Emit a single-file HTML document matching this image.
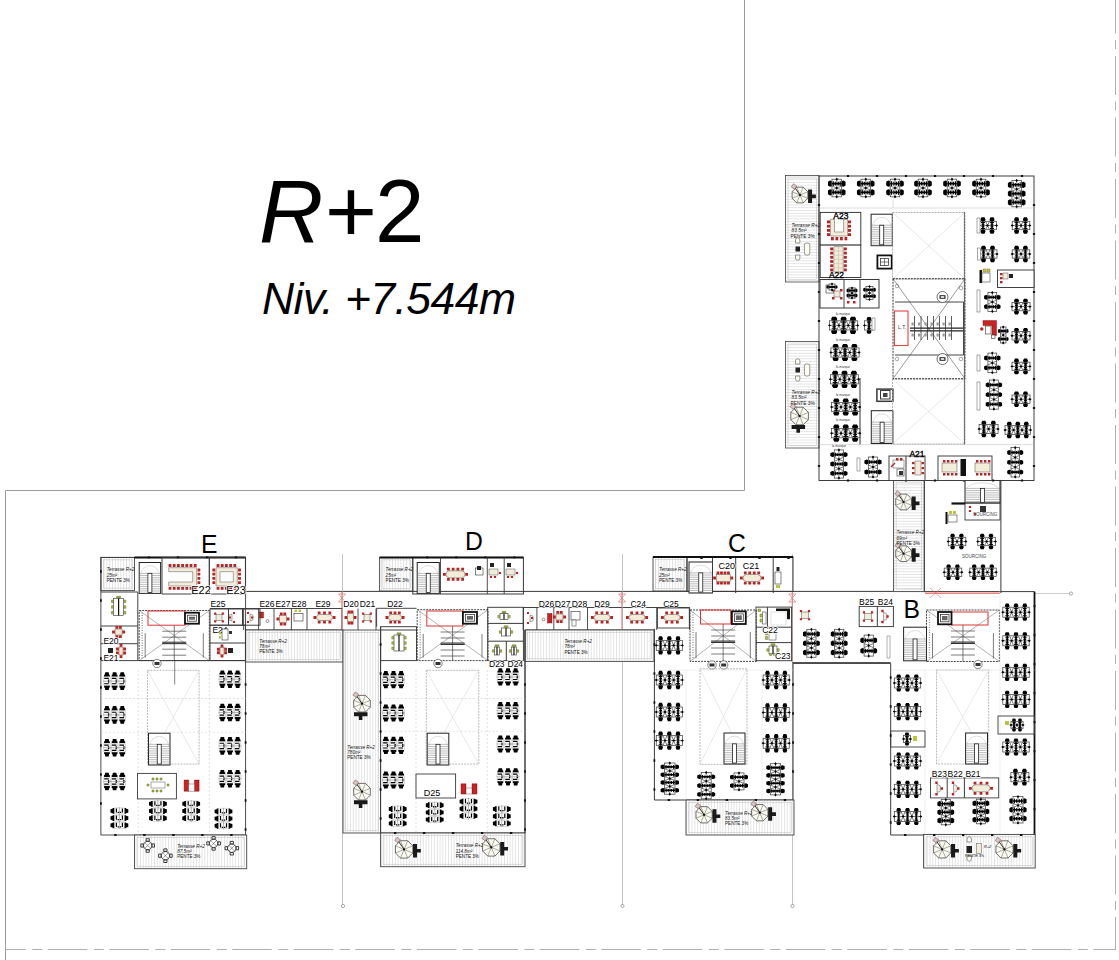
<!DOCTYPE html><html><head><meta charset="utf-8"><style>
html,body{margin:0;padding:0;background:#fff;width:1119px;height:960px;overflow:hidden}
svg{display:block}
text{font-family:"Liberation Sans",sans-serif}
</style></head><body>
<svg width="1119" height="960" viewBox="0 0 1119 960">
<defs>
<pattern id="hh" width="3" height="2.8" patternUnits="userSpaceOnUse"><rect width="3" height="2.8" fill="#fff"/><line x1="0" y1="0.5" x2="3" y2="0.5" stroke="#d0d0d0" stroke-width="0.6"/></pattern>
<pattern id="hv" width="2.8" height="3" patternUnits="userSpaceOnUse"><rect width="2.8" height="3" fill="#fff"/><line x1="0.5" y1="0" x2="0.5" y2="3" stroke="#d0d0d0" stroke-width="0.6"/></pattern>
</defs>

<path d="M744.5,0 V490.5 H5.5 V960" stroke="#9a9a9a" stroke-width="1" fill="none" />
<path d="M5,949.5 H1116" stroke="#b0b0b0" stroke-width="1" fill="none" stroke-dasharray="39.5,6.5,10,5.5" stroke-dashoffset="18.7"/>
<path d="M1115.5,0 V949" stroke="#b0b0b0" stroke-width="1" fill="none" stroke-dasharray="39,6.5,9,7" stroke-dashoffset="5.5"/>
<text y="242" font-size="89" fill="#000"><tspan x="259" font-style="italic">R</tspan><tspan x="325">+</tspan><tspan x="375">2</tspan></text>
<text x="262" y="313.5" font-size="44.5" font-style="italic" fill="#000" textLength="254" lengthAdjust="spacing">Niv. +7.544m</text>
<path d="M245.6,591.4H893.6 M924.3,591.6H1034" stroke="#3a3a3a" stroke-width="1.0" fill="none" />
<path d="M245.6,630H343 M380.6,630H416 M525,630H654 M793,662.6H890.6" stroke="#3a3a3a" stroke-width="0.95" fill="none" />
<path d="M210,608.5H343 M376.6,608.3H416.5 M523,607.5H689.6" stroke="#3a3a3a" stroke-width="0.95" fill="none" />
<path d="M243.6,608.5V630M258.6,608.5V630M274,608.5V630M291.4,608.5V630M307,608.5V630M342,608.5V630M358,608.5V630M376,608.5V630M523.2,607.5V630M536.9,607.5V630M553.8,607.5V630M569,607.5V630M587.5,607.5V630M656.7,607.5V630M689.6,607.5V630" stroke="#3a3a3a" stroke-width="0.9" fill="none" />
<path d="M342,592V630 M622,592V630 M792.3,592V661.5" stroke="#e44" stroke-width="0.9" fill="none" />
<path d="M338.5,594L345.5,602M345.5,594L338.5,602M338.5,594h7M338.5,602h7" stroke="#e55" stroke-width="0.6" fill="none"/>
<path d="M618.5,594L625.5,602M625.5,594L618.5,602M618.5,594h7M618.5,602h7" stroke="#e55" stroke-width="0.6" fill="none"/>
<path d="M788.8,594L795.8,602M795.8,594L788.8,602M788.8,594h7M788.8,602h7" stroke="#e55" stroke-width="0.6" fill="none"/>
<path d="M925,593.2H1000" stroke="#e44" stroke-width="1" fill="none" />
<path d="M930,588L941,598M941,588L930,598" stroke="#e66" stroke-width="0.6"/>
<path d="M342.5,554V905 M622.5,554V905 M792.5,554V905" stroke="#aaa" stroke-width="0.7" fill="none" />
<circle cx="343" cy="906" r="1.6" fill="none" stroke="#777" stroke-width="0.6"/>
<circle cx="622.5" cy="906" r="1.6" fill="none" stroke="#777" stroke-width="0.6"/>
<circle cx="792.5" cy="906" r="1.6" fill="none" stroke="#777" stroke-width="0.6"/>
<path d="M1034,593.5H1070" stroke="#aaa" stroke-width="0.6" fill="none" />
<circle cx="1071" cy="593.5" r="1.6" fill="none" stroke="#777" stroke-width="0.6"/>
<rect x="245.6" y="630" width="97.4" height="32" fill="url(#hv)" stroke="#444" stroke-width="0.9" />
<rect x="248.1" y="632.5" width="92.4" height="27" fill="none" stroke="#bbb" stroke-width="0.5" />
<rect x="343" y="630" width="37.6" height="203" fill="url(#hv)" stroke="#444" stroke-width="0.9" />
<rect x="345.5" y="632.5" width="32.6" height="198" fill="none" stroke="#bbb" stroke-width="0.5" />
<rect x="525" y="630" width="129" height="31.4" fill="url(#hv)" stroke="#444" stroke-width="0.9" />
<rect x="527.5" y="632.5" width="124" height="26.4" fill="none" stroke="#bbb" stroke-width="0.5" />
<text x="259.3" y="642.9" font-size="4.6" fill="#111" text-anchor="start" font-style="italic">Terrasse R+2</text>
<text x="259.3" y="648.1" font-size="4.6" fill="#111" text-anchor="start" font-style="italic">78m²</text>
<text x="259.3" y="653.3" font-size="4.6" fill="#111" text-anchor="start" >PENTE 3%</text>
<text x="564.4" y="643.1" font-size="4.6" fill="#111" text-anchor="start" font-style="italic">Terrasse R+2</text>
<text x="564.4" y="648.3" font-size="4.6" fill="#111" text-anchor="start" font-style="italic">78m²</text>
<text x="564.4" y="653.5" font-size="4.6" fill="#111" text-anchor="start" >PENTE 3%</text>
<text x="347.3" y="748.9" font-size="4.6" fill="#111" text-anchor="start" font-style="italic">Terrasse R+2</text>
<text x="347.3" y="754.1" font-size="4.6" fill="#111" text-anchor="start" font-style="italic">780m²</text>
<text x="347.3" y="759.3" font-size="4.6" fill="#111" text-anchor="start" >PENTE 3%</text>
<polygon points="370.31,707.14 365.44,712.01 358.56,712.01 353.69,707.14 353.69,700.26 358.56,695.39 365.44,695.39 370.31,700.26" fill="#fbfbf0" stroke="#333" stroke-width="0.7"/><path d="M362,703.7L370.31,707.14M362,703.7L365.44,712.01M362,703.7L358.56,712.01M362,703.7L353.69,707.14M362,703.7L353.69,700.26M362,703.7L358.56,695.39M362,703.7L365.44,695.39M362,703.7L370.31,700.26" stroke="#444" stroke-width="0.45"/><path d="M362,703.7L355.7,694.7" stroke="#333" stroke-width="1"/><circle cx="362" cy="703.7" r="1.1" fill="#111"/><rect x="353.7" y="692.7" width="4" height="4" fill="#d9c4c4" stroke="#755" stroke-width="0.5" transform="rotate(35 355.7 694.7)"/><path d="M370.55,698.2h4v13.5h-4zM374.55,703.3h3.8v3.6h-3.8z" fill="#1a1a1a" transform="rotate(90 362 703.7)"/>
<polygon points="370.31,795.14 365.44,800.01 358.56,800.01 353.69,795.14 353.69,788.26 358.56,783.39 365.44,783.39 370.31,788.26" fill="#fbfbf0" stroke="#333" stroke-width="0.7"/><path d="M362,791.7L370.31,795.14M362,791.7L365.44,800.01M362,791.7L358.56,800.01M362,791.7L353.69,795.14M362,791.7L353.69,788.26M362,791.7L358.56,783.39M362,791.7L365.44,783.39M362,791.7L370.31,788.26" stroke="#444" stroke-width="0.45"/><path d="M362,791.7L355.7,782.7" stroke="#333" stroke-width="1"/><circle cx="362" cy="791.7" r="1.1" fill="#111"/><rect x="353.7" y="780.7" width="4" height="4" fill="#d9c4c4" stroke="#755" stroke-width="0.5" transform="rotate(35 355.7 782.7)"/><path d="M370.55,786.2h4v13.5h-4zM374.55,791.3h3.8v3.6h-3.8z" fill="#1a1a1a" transform="rotate(90 362 791.7)"/>
<text x="218" y="606.5" font-size="8.5" fill="#000" text-anchor="middle" stroke="#fff" stroke-width="1.5" paint-order="stroke">E25</text>
<text x="267" y="606.5" font-size="8.5" fill="#000" text-anchor="middle" stroke="#fff" stroke-width="1.5" paint-order="stroke">E26</text>
<text x="283" y="606.5" font-size="8.5" fill="#000" text-anchor="middle" stroke="#fff" stroke-width="1.5" paint-order="stroke">E27</text>
<text x="299" y="606.5" font-size="8.5" fill="#000" text-anchor="middle" stroke="#fff" stroke-width="1.5" paint-order="stroke">E28</text>
<text x="323" y="606.5" font-size="8.5" fill="#000" text-anchor="middle" stroke="#fff" stroke-width="1.5" paint-order="stroke">E29</text>
<text x="351" y="606.5" font-size="8.5" fill="#000" text-anchor="middle" stroke="#fff" stroke-width="1.5" paint-order="stroke">D20</text>
<text x="367.5" y="606.5" font-size="8.5" fill="#000" text-anchor="middle" stroke="#fff" stroke-width="1.5" paint-order="stroke">D21</text>
<text x="395" y="606.5" font-size="8.5" fill="#000" text-anchor="middle" stroke="#fff" stroke-width="1.5" paint-order="stroke">D22</text>
<text x="546.5" y="606.5" font-size="8.5" fill="#000" text-anchor="middle" stroke="#fff" stroke-width="1.5" paint-order="stroke">D26</text>
<text x="562.6" y="606.5" font-size="8.5" fill="#000" text-anchor="middle" stroke="#fff" stroke-width="1.5" paint-order="stroke">D27</text>
<text x="579.5" y="606.5" font-size="8.5" fill="#000" text-anchor="middle" stroke="#fff" stroke-width="1.5" paint-order="stroke">D28</text>
<text x="602" y="606.5" font-size="8.5" fill="#000" text-anchor="middle" stroke="#fff" stroke-width="1.5" paint-order="stroke">D29</text>
<text x="638.2" y="606.5" font-size="8.5" fill="#000" text-anchor="middle" stroke="#fff" stroke-width="1.5" paint-order="stroke">C24</text>
<text x="671" y="606.5" font-size="8.5" fill="#000" text-anchor="middle" stroke="#fff" stroke-width="1.5" paint-order="stroke">C25</text>
<rect x="216" y="614.5" width="6" height="6" fill="#f1edd8" stroke="#555" stroke-width="0.5"/>
<path d="M214.1,612.6h2.2v2.2h-2.2ZM221.7,612.6h2.2v2.2h-2.2ZM214.1,620.2h2.2v2.2h-2.2ZM221.7,620.2h2.2v2.2h-2.2Z" fill="#b22"/>
<path d="M232,614a3.5,3.5 0 0 0 0,7z" fill="#f3f0e0" stroke="#555" stroke-width="0.5"/>
<path d="M233,612h2v2h-2ZM233,621h2v2h-2ZM229,616.5h2v2h-2Z" fill="#b22"/>
<path d="M250,614a3.5,3.5 0 0 1 0,7z" fill="#f3f0e0" stroke="#555" stroke-width="0.5"/>
<path d="M247,612h2v2h-2ZM247,621h2v2h-2ZM251,616.5h2v2h-2Z" fill="#b22"/>
<rect x="259.5" y="612" width="4" height="6" fill="#c22" stroke="#600" stroke-width="0.4" />
<circle cx="267.5" cy="621" r="1.5" fill="none" stroke="#333" stroke-width="0.5"/>
<rect x="279.5" y="615.5" width="7" height="7" rx="0" fill="#f1edd8" stroke="#555" stroke-width="0.5"/>
<path d="M279.85,612.5h2.8v2.8h-2.8ZM279.85,622.7h2.8v2.8h-2.8ZM283.35,612.5h2.8v2.8h-2.8ZM283.35,622.7h2.8v2.8h-2.8ZM276.5,617.6h2.8v2.8h-2.8ZM286.7,617.6h2.8v2.8h-2.8Z" fill="#b22"/>
<rect x="294" y="613.5" width="9" height="7.5" fill="#fff" stroke="#333" stroke-width="0.6" />
<rect x="294.5" y="609.5" width="2.5" height="2.5" fill="#bcc43a" stroke="none" stroke-width="1" />
<rect x="298.5" y="609.5" width="2.5" height="2.5" fill="#bcc43a" stroke="none" stroke-width="1" />
<rect x="316.5" y="614.5" width="16" height="6" rx="3" fill="#f1edd8" stroke="#555" stroke-width="0.5"/>
<path d="M317.77,611.5h2.8v2.8h-2.8ZM317.77,620.7h2.8v2.8h-2.8ZM323.1,611.5h2.8v2.8h-2.8ZM323.1,620.7h2.8v2.8h-2.8ZM328.43,611.5h2.8v2.8h-2.8ZM328.43,620.7h2.8v2.8h-2.8ZM313.5,616.1h2.8v2.8h-2.8ZM332.7,616.1h2.8v2.8h-2.8Z" fill="#b22"/>
<rect x="347.5" y="613.5" width="6" height="8" rx="0" fill="#f1edd8" stroke="#555" stroke-width="0.5"/>
<path d="M347.6,610.5h2.8v2.8h-2.8ZM347.6,621.7h2.8v2.8h-2.8ZM350.6,610.5h2.8v2.8h-2.8ZM350.6,621.7h2.8v2.8h-2.8ZM344.5,616.1h2.8v2.8h-2.8ZM353.7,616.1h2.8v2.8h-2.8Z" fill="#b22"/>
<rect x="364" y="614.5" width="6" height="6" fill="#f1edd8" stroke="#555" stroke-width="0.5"/>
<path d="M362.1,612.6h2.2v2.2h-2.2ZM369.7,612.6h2.2v2.2h-2.2ZM362.1,620.2h2.2v2.2h-2.2ZM369.7,620.2h2.2v2.2h-2.2Z" fill="#b22"/>
<rect x="388.5" y="614.5" width="13" height="6" rx="3" fill="#f1edd8" stroke="#555" stroke-width="0.5"/>
<path d="M389.27,611.5h2.8v2.8h-2.8ZM389.27,620.7h2.8v2.8h-2.8ZM393.6,611.5h2.8v2.8h-2.8ZM393.6,620.7h2.8v2.8h-2.8ZM397.93,611.5h2.8v2.8h-2.8ZM397.93,620.7h2.8v2.8h-2.8ZM385.5,616.1h2.8v2.8h-2.8ZM401.7,616.1h2.8v2.8h-2.8Z" fill="#b22"/>
<path d="M530,615a3.5,3.5 0 0 1 0,7z" fill="#f3f0e0" stroke="#555" stroke-width="0.5"/>
<path d="M527,612h2v2h-2ZM527,622h2v2h-2ZM531,617h2v2h-2Z" fill="#b22"/>
<circle cx="543.5" cy="619.5" r="1.3" fill="none" stroke="#333" stroke-width="0.5"/>
<rect x="547.5" y="613.5" width="4.5" height="9.5" fill="#c22" stroke="#600" stroke-width="0.4" />
<rect x="556" y="614" width="7" height="6" rx="0" fill="#f1edd8" stroke="#555" stroke-width="0.5"/>
<path d="M556.35,611h2.8v2.8h-2.8ZM556.35,620.2h2.8v2.8h-2.8ZM559.85,611h2.8v2.8h-2.8ZM559.85,620.2h2.8v2.8h-2.8ZM553,615.6h2.8v2.8h-2.8ZM563.2,615.6h2.8v2.8h-2.8Z" fill="#b22"/>
<rect x="571" y="611.5" width="9" height="8.5" fill="#fff" stroke="#333" stroke-width="0.6" />
<rect x="572" y="620" width="4" height="6" fill="#fff" stroke="#333" stroke-width="0.5" />
<rect x="594" y="614.5" width="16" height="6" rx="3" fill="#f1edd8" stroke="#555" stroke-width="0.5"/>
<path d="M595.27,611.5h2.8v2.8h-2.8ZM595.27,620.7h2.8v2.8h-2.8ZM600.6,611.5h2.8v2.8h-2.8ZM600.6,620.7h2.8v2.8h-2.8ZM605.93,611.5h2.8v2.8h-2.8ZM605.93,620.7h2.8v2.8h-2.8ZM591,616.1h2.8v2.8h-2.8ZM610.2,616.1h2.8v2.8h-2.8Z" fill="#b22"/>
<rect x="629" y="614.5" width="16" height="6" rx="3" fill="#f1edd8" stroke="#555" stroke-width="0.5"/>
<path d="M630.27,611.5h2.8v2.8h-2.8ZM630.27,620.7h2.8v2.8h-2.8ZM635.6,611.5h2.8v2.8h-2.8ZM635.6,620.7h2.8v2.8h-2.8ZM640.93,611.5h2.8v2.8h-2.8ZM640.93,620.7h2.8v2.8h-2.8ZM626,616.1h2.8v2.8h-2.8ZM645.2,616.1h2.8v2.8h-2.8Z" fill="#b22"/>
<rect x="664" y="614.5" width="16" height="6" rx="3" fill="#f1edd8" stroke="#555" stroke-width="0.5"/>
<path d="M665.27,611.5h2.8v2.8h-2.8ZM665.27,620.7h2.8v2.8h-2.8ZM670.6,611.5h2.8v2.8h-2.8ZM670.6,620.7h2.8v2.8h-2.8ZM675.93,611.5h2.8v2.8h-2.8ZM675.93,620.7h2.8v2.8h-2.8ZM661,616.1h2.8v2.8h-2.8ZM680.2,616.1h2.8v2.8h-2.8Z" fill="#b22"/>
<rect x="100.9" y="557.4" width="33.6" height="33.2" fill="url(#hv)" stroke="#444" stroke-width="0.9" />
<rect x="103.4" y="559.9" width="28.6" height="28.2" fill="none" stroke="#bbb" stroke-width="0.5" />
<text x="106.7" y="571.3" font-size="4.6" fill="#111" text-anchor="start" font-style="italic">Terrasse R+2</text>
<text x="106.7" y="576.5" font-size="4.6" fill="#111" text-anchor="start" font-style="italic">25m²</text>
<text x="106.7" y="581.7" font-size="4.6" fill="#111" text-anchor="start" >PENTE 3%</text>
<rect x="100.9" y="557.4" width="144.7" height="277.6" fill="none" stroke="#3a3a3a" stroke-width="0.9" />
<path d="M134.5,557.4H245.6" stroke="#111" stroke-width="2" fill="none" />
<rect x="139.2" y="562.5" width="21.4" height="31" fill="#fff" stroke="#222" stroke-width="1"/><path d="M139.2,573.35H160.6M139.2,575.55H160.6M139.2,577.75H160.6M139.2,579.95H160.6M139.2,582.15H160.6M139.2,584.35H160.6M139.2,586.55H160.6M139.2,588.75H160.6M139.2,590.95H160.6M139.2,593.15H160.6" stroke="#777" stroke-width="0.5"/><rect x="147.9" y="573.35" width="4" height="19.22" fill="#fff" stroke="#222" stroke-width="0.8"/><path d="M140.7,574.9 A9.2,9.3 0 0 1 159.1,574.9" stroke="#bbb" stroke-width="0.5" fill="none"/>
<rect x="162" y="557.4" width="47.3" height="36.6" fill="none" stroke="#3a3a3a" stroke-width="0.95" />
<rect x="209.3" y="557.4" width="36.1" height="36.6" fill="none" stroke="#3a3a3a" stroke-width="0.95" />
<path d="M168.7,567.7h28v18.3h-28v-4h24v-10.3h-24z" fill="#f1edd8" stroke="#555" stroke-width="0.5"/>
<path d="M168.6,564.1h2.8v2.8h-2.8ZM172.8,564.1h2.8v2.8h-2.8ZM177,564.1h2.8v2.8h-2.8ZM181.2,564.1h2.8v2.8h-2.8ZM185.4,564.1h2.8v2.8h-2.8ZM189.6,564.1h2.8v2.8h-2.8ZM193.8,564.1h2.8v2.8h-2.8ZM168.6,586.9h2.8v2.8h-2.8ZM172.8,586.9h2.8v2.8h-2.8ZM177,586.9h2.8v2.8h-2.8ZM181.2,586.9h2.8v2.8h-2.8ZM185.4,586.9h2.8v2.8h-2.8ZM189.6,586.9h2.8v2.8h-2.8ZM193.8,586.9h2.8v2.8h-2.8ZM197.5,568.6h2.8v2.8h-2.8ZM197.5,572.8h2.8v2.8h-2.8ZM197.5,577h2.8v2.8h-2.8ZM197.5,581.2h2.8v2.8h-2.8Z" fill="#b22"/>
<path d="M216,567.7h21.3v18.3h-21.3z M220,571.7v10.3h13.3v-10.3z" fill="#f1edd8" fill-rule="evenodd" stroke="#555" stroke-width="0.5"/>
<path d="M216.6,564.1h2.8v2.8h-2.8ZM220.8,564.1h2.8v2.8h-2.8ZM225,564.1h2.8v2.8h-2.8ZM229.2,564.1h2.8v2.8h-2.8ZM233.4,564.1h2.8v2.8h-2.8ZM216.6,586.9h2.8v2.8h-2.8ZM220.8,586.9h2.8v2.8h-2.8ZM225,586.9h2.8v2.8h-2.8ZM229.2,586.9h2.8v2.8h-2.8ZM233.4,586.9h2.8v2.8h-2.8ZM212.4,568.6h2.8v2.8h-2.8ZM212.4,572.8h2.8v2.8h-2.8ZM212.4,577h2.8v2.8h-2.8ZM212.4,581.2h2.8v2.8h-2.8ZM238.1,568.6h2.8v2.8h-2.8ZM238.1,572.8h2.8v2.8h-2.8ZM238.1,577h2.8v2.8h-2.8ZM238.1,581.2h2.8v2.8h-2.8Z" fill="#b22"/>
<text x="201" y="593.5" font-size="11" fill="#000" text-anchor="middle" stroke="#fff" stroke-width="1.5" paint-order="stroke">E22</text>
<text x="236" y="593.5" font-size="11" fill="#000" text-anchor="middle" stroke="#fff" stroke-width="1.5" paint-order="stroke">E23</text>
<path d="M100.9,592H137.8V660.6 M100.9,626H137.8 M100.9,643.7H137.8 M100.9,660.6H245.6" stroke="#3a3a3a" stroke-width="0.95" fill="none" />
<rect x="113.6" y="598.5" width="10" height="17" fill="#fff" stroke="#333" stroke-width="0.6"/>
<path d="M118.6,598.5V615.5" stroke="#111" stroke-width="1.2"/>
<path d="M111.4,600.03h1.8v2.6h-1.8ZM124,600.03h1.8v2.6h-1.8ZM111.4,605.7h1.8v2.6h-1.8ZM124,605.7h1.8v2.6h-1.8ZM111.4,611.37h1.8v2.6h-1.8ZM124,611.37h1.8v2.6h-1.8ZM116.6,596.3h1.8v1.8h-1.8ZM118.8,596.3h1.8v1.8h-1.8Z" fill="#bcc43a" stroke="#4a5010" stroke-width="0.4"/>
<rect x="115.1" y="629" width="7" height="6" rx="0" fill="#f1edd8" stroke="#555" stroke-width="0.5"/>
<path d="M115.45,626h2.8v2.8h-2.8ZM115.45,635.2h2.8v2.8h-2.8ZM118.95,626h2.8v2.8h-2.8ZM118.95,635.2h2.8v2.8h-2.8ZM112.1,630.6h2.8v2.8h-2.8ZM122.3,630.6h2.8v2.8h-2.8Z" fill="#b22"/>
<text x="111" y="643.5" font-size="8.5" fill="#000" text-anchor="middle" stroke="#fff" stroke-width="1.5" paint-order="stroke">E20</text>
<rect x="119" y="647" width="4" height="8" rx="0" fill="#f1edd8" stroke="#555" stroke-width="0.5"/>
<path d="M119.6,644h2.8v2.8h-2.8ZM119.6,655.2h2.8v2.8h-2.8ZM116,647.6h2.8v2.8h-2.8ZM123.2,647.6h2.8v2.8h-2.8ZM116,651.6h2.8v2.8h-2.8ZM123.2,651.6h2.8v2.8h-2.8Z" fill="#b22"/>
<rect x="108" y="648" width="5" height="5" fill="#222" stroke="none" stroke-width="1" />
<text x="111" y="660.5" font-size="8.5" fill="#000" text-anchor="middle" stroke="#fff" stroke-width="1.5" paint-order="stroke">E21</text>
<path d="M139.2,610.5L209.3,660.6M209.3,610.5L139.2,660.6" stroke="#666" stroke-width="0.5"/>
<rect x="139.2" y="610.5" width="70.1" height="50.1" fill="none" stroke="#333" stroke-width="0.9" stroke-dasharray="2,1"/>
<rect x="148" y="611" width="37" height="14.2" fill="none" stroke="#d33" stroke-width="1" />
<rect x="185" y="612.7" width="14" height="11" fill="#fff" stroke="#111" stroke-width="1.8" />
<rect x="187.5" y="615.2" width="9" height="6" fill="#fff" stroke="#3a3a3a" stroke-width="0.8" />
<rect x="189" y="616.7" width="6" height="3" fill="#666" stroke="none" stroke-width="1" />
<path d="M162.25,631.2H186.25M162.25,637.2H186.25M162.25,643.2H186.25M162.25,649.2H186.25M162.25,655.2H186.25M174.25,625.2V660.6M145.2,633.2V657.6M203.3,633.2V657.6" stroke="#444" stroke-width="0.7" fill="none" />
<path d="M162.25,642.2h24M162.25,643.7h24" stroke="#222" stroke-width="0.9"/>
<path d="M142.2,612.5V658.6" stroke="#999" stroke-width="1.4" stroke-dasharray="1,1.5"/>
<circle cx="157" cy="663.5" r="4.2" fill="#fff" stroke="#333" stroke-width="0.6"/>
<rect x="154.5" y="662" width="5" height="3" fill="#333" stroke="none" stroke-width="1" />
<rect x="210" y="609" width="50" height="16.2" fill="none" stroke="#3a3a3a" stroke-width="0.95" />
<path d="M228.5,609V625.2 M242.5,609V625.2" stroke="#3a3a3a" stroke-width="1" fill="none" />
<rect x="210" y="625.2" width="35.4" height="35.4" fill="none" stroke="#3a3a3a" stroke-width="0.95" />
<path d="M210,643H245.4" stroke="#3a3a3a" stroke-width="1" fill="none" />
<text x="220" y="633" font-size="8.5" fill="#000" text-anchor="middle" stroke="#fff" stroke-width="1.5" paint-order="stroke">E24</text>
<rect x="222" y="629" width="6" height="11" fill="#fff" stroke="#333" stroke-width="0.6" />
<rect x="219" y="632" width="2" height="2.5" fill="#bcc43a" stroke="none" stroke-width="1" />
<rect x="219" y="636" width="2" height="2.5" fill="#bcc43a" stroke="none" stroke-width="1" />
<rect x="229" y="631" width="3" height="3" fill="#333" stroke="none" stroke-width="1" />
<rect x="220" y="647.5" width="4" height="7" rx="0" fill="#f1edd8" stroke="#555" stroke-width="0.5"/>
<path d="M220.6,644.5h2.8v2.8h-2.8ZM220.6,654.7h2.8v2.8h-2.8ZM217,647.85h2.8v2.8h-2.8ZM224.2,647.85h2.8v2.8h-2.8ZM217,651.35h2.8v2.8h-2.8ZM224.2,651.35h2.8v2.8h-2.8Z" fill="#b22"/>
<rect x="228" y="648" width="5" height="5" fill="#222" stroke="none" stroke-width="1" />
<path d="M147.5,670.3L199.1,764.1M199.1,670.3L147.5,764.1" stroke="#d8d8d8" stroke-width="0.6"/><rect x="147.5" y="670.3" width="51.6" height="93.8" fill="none" stroke="#aaa" stroke-width="0.8" stroke-dasharray="2,1"/>
<rect x="148.5" y="733.2" width="21.5" height="31.8" fill="#fff" stroke="#222" stroke-width="1"/><path d="M148.5,744.33H170M148.5,746.53H170M148.5,748.73H170M148.5,750.93H170M148.5,753.13H170M148.5,755.33H170M148.5,757.53H170M148.5,759.73H170M148.5,761.93H170M148.5,764.13H170" stroke="#777" stroke-width="0.5"/><rect x="157.25" y="744.33" width="4" height="19.72" fill="#fff" stroke="#222" stroke-width="0.8"/><path d="M150,745.92 A9.25,9.54 0 0 1 168.5,745.92" stroke="#bbb" stroke-width="0.5" fill="none"/>
<path d="M174.7,660V684.4" stroke="#333" stroke-width="0.6" fill="none" />
<path d="M100.9,698.5H245.6 M100.9,732.2H245.6 M138.2,670V835 M209.4,670V835" stroke="#ccc" stroke-width="0.6" fill="none" stroke-dasharray="2,2"/>
<path d="M103.75,676.7h6.4v8.8h-6.4ZM111.4,676.7h6.4v8.8h-6.4ZM119.05,676.7h6.4v8.8h-6.4Z" fill="#fff" stroke="#999" stroke-width="0.4"/><path d="M103.12,681.1H126.08" stroke="#888" stroke-width="0.6"/><path d="M104.08,676.5V674.72H104.77L105.2,672.3H108.7L109.14,674.72H109.83V676.5ZM104.26,677.86h4.48v1.2h-4.48ZM104.08,685.7V687.48H104.77L105.2,689.9H108.7L109.14,687.48H109.83V685.7ZM104.26,683.14h4.48v1.2h-4.48ZM111.72,676.5V674.72H112.41L112.85,672.3H116.35L116.78,674.72H117.47V676.5ZM111.91,677.86h4.48v1.2h-4.48ZM111.72,685.7V687.48H112.41L112.85,689.9H116.35L116.78,687.48H117.47V685.7ZM111.91,683.14h4.48v1.2h-4.48ZM119.38,676.5V674.72H120.06L120.5,672.3H124L124.44,674.72H125.12V676.5ZM119.56,677.86h4.48v1.2h-4.48ZM119.38,685.7V687.48H120.06L120.5,689.9H124L124.44,687.48H125.12V685.7ZM119.56,683.14h4.48v1.2h-4.48ZM107.91,679.56h1.3v1.3h-1.3ZM107.91,681.34h1.3v1.3h-1.3ZM115.56,679.56h1.3v1.3h-1.3ZM115.56,681.34h1.3v1.3h-1.3ZM123.21,679.56h1.3v1.3h-1.3ZM123.21,681.34h1.3v1.3h-1.3Z" fill="#000"/>
<path d="M103.75,710.5h6.4v8.8h-6.4ZM111.4,710.5h6.4v8.8h-6.4ZM119.05,710.5h6.4v8.8h-6.4Z" fill="#fff" stroke="#999" stroke-width="0.4"/><path d="M103.12,714.9H126.08" stroke="#888" stroke-width="0.6"/><path d="M104.08,710.3V708.52H104.77L105.2,706.1H108.7L109.14,708.52H109.83V710.3ZM104.26,711.66h4.48v1.2h-4.48ZM104.08,719.5V721.28H104.77L105.2,723.7H108.7L109.14,721.28H109.83V719.5ZM104.26,716.94h4.48v1.2h-4.48ZM111.72,710.3V708.52H112.41L112.85,706.1H116.35L116.78,708.52H117.47V710.3ZM111.91,711.66h4.48v1.2h-4.48ZM111.72,719.5V721.28H112.41L112.85,723.7H116.35L116.78,721.28H117.47V719.5ZM111.91,716.94h4.48v1.2h-4.48ZM119.38,710.3V708.52H120.06L120.5,706.1H124L124.44,708.52H125.12V710.3ZM119.56,711.66h4.48v1.2h-4.48ZM119.38,719.5V721.28H120.06L120.5,723.7H124L124.44,721.28H125.12V719.5ZM119.56,716.94h4.48v1.2h-4.48ZM107.91,713.36h1.3v1.3h-1.3ZM107.91,715.14h1.3v1.3h-1.3ZM115.56,713.36h1.3v1.3h-1.3ZM115.56,715.14h1.3v1.3h-1.3ZM123.21,713.36h1.3v1.3h-1.3ZM123.21,715.14h1.3v1.3h-1.3Z" fill="#000"/>
<path d="M103.75,743.3h6.4v8.8h-6.4ZM111.4,743.3h6.4v8.8h-6.4ZM119.05,743.3h6.4v8.8h-6.4Z" fill="#fff" stroke="#999" stroke-width="0.4"/><path d="M103.12,747.7H126.08" stroke="#888" stroke-width="0.6"/><path d="M104.08,743.1V741.32H104.77L105.2,738.9H108.7L109.14,741.32H109.83V743.1ZM104.26,744.46h4.48v1.2h-4.48ZM104.08,752.3V754.08H104.77L105.2,756.5H108.7L109.14,754.08H109.83V752.3ZM104.26,749.74h4.48v1.2h-4.48ZM111.72,743.1V741.32H112.41L112.85,738.9H116.35L116.78,741.32H117.47V743.1ZM111.91,744.46h4.48v1.2h-4.48ZM111.72,752.3V754.08H112.41L112.85,756.5H116.35L116.78,754.08H117.47V752.3ZM111.91,749.74h4.48v1.2h-4.48ZM119.38,743.1V741.32H120.06L120.5,738.9H124L124.44,741.32H125.12V743.1ZM119.56,744.46h4.48v1.2h-4.48ZM119.38,752.3V754.08H120.06L120.5,756.5H124L124.44,754.08H125.12V752.3ZM119.56,749.74h4.48v1.2h-4.48ZM107.91,746.16h1.3v1.3h-1.3ZM107.91,747.94h1.3v1.3h-1.3ZM115.56,746.16h1.3v1.3h-1.3ZM115.56,747.94h1.3v1.3h-1.3ZM123.21,746.16h1.3v1.3h-1.3ZM123.21,747.94h1.3v1.3h-1.3Z" fill="#000"/>
<path d="M103.75,777.1h6.4v8.8h-6.4ZM111.4,777.1h6.4v8.8h-6.4ZM119.05,777.1h6.4v8.8h-6.4Z" fill="#fff" stroke="#999" stroke-width="0.4"/><path d="M103.12,781.5H126.08" stroke="#888" stroke-width="0.6"/><path d="M104.08,776.9V775.12H104.77L105.2,772.7H108.7L109.14,775.12H109.83V776.9ZM104.26,778.26h4.48v1.2h-4.48ZM104.08,786.1V787.88H104.77L105.2,790.3H108.7L109.14,787.88H109.83V786.1ZM104.26,783.54h4.48v1.2h-4.48ZM111.72,776.9V775.12H112.41L112.85,772.7H116.35L116.78,775.12H117.47V776.9ZM111.91,778.26h4.48v1.2h-4.48ZM111.72,786.1V787.88H112.41L112.85,790.3H116.35L116.78,787.88H117.47V786.1ZM111.91,783.54h4.48v1.2h-4.48ZM119.38,776.9V775.12H120.06L120.5,772.7H124L124.44,775.12H125.12V776.9ZM119.56,778.26h4.48v1.2h-4.48ZM119.38,786.1V787.88H120.06L120.5,790.3H124L124.44,787.88H125.12V786.1ZM119.56,783.54h4.48v1.2h-4.48ZM107.91,779.96h1.3v1.3h-1.3ZM107.91,781.74h1.3v1.3h-1.3ZM115.56,779.96h1.3v1.3h-1.3ZM115.56,781.74h1.3v1.3h-1.3ZM123.21,779.96h1.3v1.3h-1.3ZM123.21,781.74h1.3v1.3h-1.3Z" fill="#000"/>
<path d="M219.15,674.8h6.4v8.8h-6.4ZM226.8,674.8h6.4v8.8h-6.4ZM234.45,674.8h6.4v8.8h-6.4Z" fill="#fff" stroke="#999" stroke-width="0.4"/><path d="M218.53,679.2H241.48" stroke="#888" stroke-width="0.6"/><path d="M219.47,674.6V672.82H220.16L220.6,670.4H224.1L224.53,672.82H225.22V674.6ZM219.66,675.96h4.48v1.2h-4.48ZM219.47,683.8V685.58H220.16L220.6,688H224.1L224.53,685.58H225.22V683.8ZM219.66,681.24h4.48v1.2h-4.48ZM227.12,674.6V672.82H227.81L228.25,670.4H231.75L232.19,672.82H232.88V674.6ZM227.31,675.96h4.48v1.2h-4.48ZM227.12,683.8V685.58H227.81L228.25,688H231.75L232.19,685.58H232.88V683.8ZM227.31,681.24h4.48v1.2h-4.48ZM234.78,674.6V672.82H235.47L235.9,670.4H239.4L239.84,672.82H240.53V674.6ZM234.96,675.96h4.48v1.2h-4.48ZM234.78,683.8V685.58H235.47L235.9,688H239.4L239.84,685.58H240.53V683.8ZM234.96,681.24h4.48v1.2h-4.48ZM223.31,677.66h1.3v1.3h-1.3ZM223.31,679.44h1.3v1.3h-1.3ZM230.96,677.66h1.3v1.3h-1.3ZM230.96,679.44h1.3v1.3h-1.3ZM238.61,677.66h1.3v1.3h-1.3ZM238.61,679.44h1.3v1.3h-1.3Z" fill="#000"/>
<path d="M219.15,708.1h6.4v8.8h-6.4ZM226.8,708.1h6.4v8.8h-6.4ZM234.45,708.1h6.4v8.8h-6.4Z" fill="#fff" stroke="#999" stroke-width="0.4"/><path d="M218.53,712.5H241.48" stroke="#888" stroke-width="0.6"/><path d="M219.47,707.9V706.12H220.16L220.6,703.7H224.1L224.53,706.12H225.22V707.9ZM219.66,709.26h4.48v1.2h-4.48ZM219.47,717.1V718.88H220.16L220.6,721.3H224.1L224.53,718.88H225.22V717.1ZM219.66,714.54h4.48v1.2h-4.48ZM227.12,707.9V706.12H227.81L228.25,703.7H231.75L232.19,706.12H232.88V707.9ZM227.31,709.26h4.48v1.2h-4.48ZM227.12,717.1V718.88H227.81L228.25,721.3H231.75L232.19,718.88H232.88V717.1ZM227.31,714.54h4.48v1.2h-4.48ZM234.78,707.9V706.12H235.47L235.9,703.7H239.4L239.84,706.12H240.53V707.9ZM234.96,709.26h4.48v1.2h-4.48ZM234.78,717.1V718.88H235.47L235.9,721.3H239.4L239.84,718.88H240.53V717.1ZM234.96,714.54h4.48v1.2h-4.48ZM223.31,710.96h1.3v1.3h-1.3ZM223.31,712.74h1.3v1.3h-1.3ZM230.96,710.96h1.3v1.3h-1.3ZM230.96,712.74h1.3v1.3h-1.3ZM238.61,710.96h1.3v1.3h-1.3ZM238.61,712.74h1.3v1.3h-1.3Z" fill="#000"/>
<path d="M219.15,741.5h6.4v8.8h-6.4ZM226.8,741.5h6.4v8.8h-6.4ZM234.45,741.5h6.4v8.8h-6.4Z" fill="#fff" stroke="#999" stroke-width="0.4"/><path d="M218.53,745.9H241.48" stroke="#888" stroke-width="0.6"/><path d="M219.47,741.3V739.52H220.16L220.6,737.1H224.1L224.53,739.52H225.22V741.3ZM219.66,742.66h4.48v1.2h-4.48ZM219.47,750.5V752.28H220.16L220.6,754.7H224.1L224.53,752.28H225.22V750.5ZM219.66,747.94h4.48v1.2h-4.48ZM227.12,741.3V739.52H227.81L228.25,737.1H231.75L232.19,739.52H232.88V741.3ZM227.31,742.66h4.48v1.2h-4.48ZM227.12,750.5V752.28H227.81L228.25,754.7H231.75L232.19,752.28H232.88V750.5ZM227.31,747.94h4.48v1.2h-4.48ZM234.78,741.3V739.52H235.47L235.9,737.1H239.4L239.84,739.52H240.53V741.3ZM234.96,742.66h4.48v1.2h-4.48ZM234.78,750.5V752.28H235.47L235.9,754.7H239.4L239.84,752.28H240.53V750.5ZM234.96,747.94h4.48v1.2h-4.48ZM223.31,744.36h1.3v1.3h-1.3ZM223.31,746.14h1.3v1.3h-1.3ZM230.96,744.36h1.3v1.3h-1.3ZM230.96,746.14h1.3v1.3h-1.3ZM238.61,744.36h1.3v1.3h-1.3ZM238.61,746.14h1.3v1.3h-1.3Z" fill="#000"/>
<path d="M219.15,774.3h6.4v8.8h-6.4ZM226.8,774.3h6.4v8.8h-6.4ZM234.45,774.3h6.4v8.8h-6.4Z" fill="#fff" stroke="#999" stroke-width="0.4"/><path d="M218.53,778.7H241.48" stroke="#888" stroke-width="0.6"/><path d="M219.47,774.1V772.32H220.16L220.6,769.9H224.1L224.53,772.32H225.22V774.1ZM219.66,775.46h4.48v1.2h-4.48ZM219.47,783.3V785.08H220.16L220.6,787.5H224.1L224.53,785.08H225.22V783.3ZM219.66,780.74h4.48v1.2h-4.48ZM227.12,774.1V772.32H227.81L228.25,769.9H231.75L232.19,772.32H232.88V774.1ZM227.31,775.46h4.48v1.2h-4.48ZM227.12,783.3V785.08H227.81L228.25,787.5H231.75L232.19,785.08H232.88V783.3ZM227.31,780.74h4.48v1.2h-4.48ZM234.78,774.1V772.32H235.47L235.9,769.9H239.4L239.84,772.32H240.53V774.1ZM234.96,775.46h4.48v1.2h-4.48ZM234.78,783.3V785.08H235.47L235.9,787.5H239.4L239.84,785.08H240.53V783.3ZM234.96,780.74h4.48v1.2h-4.48ZM223.31,777.16h1.3v1.3h-1.3ZM223.31,778.94h1.3v1.3h-1.3ZM230.96,777.16h1.3v1.3h-1.3ZM230.96,778.94h1.3v1.3h-1.3ZM238.61,777.16h1.3v1.3h-1.3ZM238.61,778.94h1.3v1.3h-1.3Z" fill="#000"/>
<g transform="rotate(90 119.4 818.1)">
<path d="M109.2,813.1h6v10h-6ZM116.4,813.1h6v10h-6ZM123.6,813.1h6v10h-6Z" fill="#fff" stroke="#999" stroke-width="0.4"/><path d="M108.6,818.1H130.2" stroke="#888" stroke-width="0.6"/><path d="M109.33,812.9V811.35H110.02L110.45,809.2H113.95L114.39,811.35H115.08V812.9ZM109.68,814.5h4.2v1.2h-4.2ZM109.33,823.3V824.86H110.02L110.45,827H113.95L114.39,824.86H115.08V823.3ZM109.68,820.5h4.2v1.2h-4.2ZM116.53,812.9V811.35H117.22L117.65,809.2H121.15L121.59,811.35H122.28V812.9ZM116.88,814.5h4.2v1.2h-4.2ZM116.53,823.3V824.86H117.22L117.65,827H121.15L121.59,824.86H122.28V823.3ZM116.88,820.5h4.2v1.2h-4.2ZM123.73,812.9V811.35H124.42L124.85,809.2H128.35L128.78,811.35H129.48V812.9ZM124.08,814.5h4.2v1.2h-4.2ZM123.73,823.3V824.86H124.42L124.85,827H128.35L128.78,824.86H129.48V823.3ZM124.08,820.5h4.2v1.2h-4.2ZM113.1,816.35h1.3v1.3h-1.3ZM113.1,818.55h1.3v1.3h-1.3ZM120.3,816.35h1.3v1.3h-1.3ZM120.3,818.55h1.3v1.3h-1.3ZM127.5,816.35h1.3v1.3h-1.3ZM127.5,818.55h1.3v1.3h-1.3Z" fill="#000"/>
</g>
<g transform="rotate(90 157.9 811)">
<path d="M147.7,806h6v10h-6ZM154.9,806h6v10h-6ZM162.1,806h6v10h-6Z" fill="#fff" stroke="#999" stroke-width="0.4"/><path d="M147.1,811H168.7" stroke="#888" stroke-width="0.6"/><path d="M147.82,805.8V804.25H148.51L148.95,802.1H152.45L152.88,804.25H153.57V805.8ZM148.18,807.4h4.2v1.2h-4.2ZM147.82,816.2V817.75H148.51L148.95,819.9H152.45L152.88,817.75H153.57V816.2ZM148.18,813.4h4.2v1.2h-4.2ZM155.03,805.8V804.25H155.72L156.15,802.1H159.65L160.09,804.25H160.78V805.8ZM155.38,807.4h4.2v1.2h-4.2ZM155.03,816.2V817.75H155.72L156.15,819.9H159.65L160.09,817.75H160.78V816.2ZM155.38,813.4h4.2v1.2h-4.2ZM162.22,805.8V804.25H162.91L163.35,802.1H166.85L167.28,804.25H167.97V805.8ZM162.58,807.4h4.2v1.2h-4.2ZM162.22,816.2V817.75H162.91L163.35,819.9H166.85L167.28,817.75H167.97V816.2ZM162.58,813.4h4.2v1.2h-4.2ZM151.6,809.25h1.3v1.3h-1.3ZM151.6,811.45h1.3v1.3h-1.3ZM158.8,809.25h1.3v1.3h-1.3ZM158.8,811.45h1.3v1.3h-1.3ZM166,809.25h1.3v1.3h-1.3ZM166,811.45h1.3v1.3h-1.3Z" fill="#000"/>
</g>
<g transform="rotate(90 191.2 811)">
<path d="M181,806h6v10h-6ZM188.2,806h6v10h-6ZM195.4,806h6v10h-6Z" fill="#fff" stroke="#999" stroke-width="0.4"/><path d="M180.4,811H202" stroke="#888" stroke-width="0.6"/><path d="M181.12,805.8V804.25H181.81L182.25,802.1H185.75L186.18,804.25H186.87V805.8ZM181.48,807.4h4.2v1.2h-4.2ZM181.12,816.2V817.75H181.81L182.25,819.9H185.75L186.18,817.75H186.87V816.2ZM181.48,813.4h4.2v1.2h-4.2ZM188.32,805.8V804.25H189.01L189.45,802.1H192.95L193.38,804.25H194.07V805.8ZM188.68,807.4h4.2v1.2h-4.2ZM188.32,816.2V817.75H189.01L189.45,819.9H192.95L193.38,817.75H194.07V816.2ZM188.68,813.4h4.2v1.2h-4.2ZM195.52,805.8V804.25H196.21L196.65,802.1H200.15L200.58,804.25H201.27V805.8ZM195.88,807.4h4.2v1.2h-4.2ZM195.52,816.2V817.75H196.21L196.65,819.9H200.15L200.58,817.75H201.27V816.2ZM195.88,813.4h4.2v1.2h-4.2ZM184.9,809.25h1.3v1.3h-1.3ZM184.9,811.45h1.3v1.3h-1.3ZM192.1,809.25h1.3v1.3h-1.3ZM192.1,811.45h1.3v1.3h-1.3ZM199.3,809.25h1.3v1.3h-1.3ZM199.3,811.45h1.3v1.3h-1.3Z" fill="#000"/>
</g>
<g transform="rotate(90 223.5 818.6)">
<path d="M213.3,813.6h6v10h-6ZM220.5,813.6h6v10h-6ZM227.7,813.6h6v10h-6Z" fill="#fff" stroke="#999" stroke-width="0.4"/><path d="M212.7,818.6H234.3" stroke="#888" stroke-width="0.6"/><path d="M213.42,813.4V811.85H214.11L214.55,809.7H218.05L218.48,811.85H219.17V813.4ZM213.78,815h4.2v1.2h-4.2ZM213.42,823.8V825.36H214.11L214.55,827.5H218.05L218.48,825.36H219.17V823.8ZM213.78,821h4.2v1.2h-4.2ZM220.62,813.4V811.85H221.31L221.75,809.7H225.25L225.69,811.85H226.38V813.4ZM220.98,815h4.2v1.2h-4.2ZM220.62,823.8V825.36H221.31L221.75,827.5H225.25L225.69,825.36H226.38V823.8ZM220.98,821h4.2v1.2h-4.2ZM227.82,813.4V811.85H228.51L228.95,809.7H232.45L232.88,811.85H233.57V813.4ZM228.18,815h4.2v1.2h-4.2ZM227.82,823.8V825.36H228.51L228.95,827.5H232.45L232.88,825.36H233.57V823.8ZM228.18,821h4.2v1.2h-4.2ZM217.2,816.85h1.3v1.3h-1.3ZM217.2,819.05h1.3v1.3h-1.3ZM224.4,816.85h1.3v1.3h-1.3ZM224.4,819.05h1.3v1.3h-1.3ZM231.6,816.85h1.3v1.3h-1.3ZM231.6,819.05h1.3v1.3h-1.3Z" fill="#000"/>
</g>
<rect x="137.5" y="773.4" width="38.9" height="25.5" fill="#fff" stroke="#3a3a3a" stroke-width="0.9" />
<rect x="151" y="782" width="14" height="6" fill="#fff" stroke="#555" stroke-width="0.5"/>
<path d="M152,778h2v2h-2zM156,778h2v2h-2zM160,778h2v2h-2zM152,790h2v2h-2zM156,790h2v2h-2zM160,790h2v2h-2zM147,784h2v2h-2zM167,784h2v2h-2z" fill="#bcc43a" stroke="#4a5010" stroke-width="0.4"/>
<path d="M184.1,780h4.6v11.3h-4.6zM194.5,780h4.6v11.3h-4.6z" fill="#c22" stroke="#600" stroke-width="0.4"/>
<path d="M188.7,784h5.8v7.3h-5.8z" fill="#fff" stroke="#333" stroke-width="0.4"/>
<rect x="134.5" y="835" width="112.2" height="33.7" fill="url(#hv)" stroke="#444" stroke-width="0.9" />
<rect x="137" y="837.5" width="107.2" height="28.7" fill="none" stroke="#bbb" stroke-width="0.5" />
<text x="177.2" y="847.7" font-size="4.6" fill="#111" text-anchor="start" font-style="italic">Terrasse R+2</text>
<text x="177.2" y="852.9" font-size="4.6" fill="#111" text-anchor="start" font-style="italic">87.5m²</text>
<text x="177.2" y="858.1" font-size="4.6" fill="#111" text-anchor="start" >PENTE 3%</text>
<circle cx="147.7" cy="845.5" r="4.2" fill="#fff" stroke="#222" stroke-width="0.8"/>
<path d="M144.7,842.5L150.7,848.5M150.7,842.5L144.7,848.5" stroke="#444" stroke-width="0.5"/>
<path d="M146.1,838.7h3.2v2.4h-3.2zM146.1,849.9h3.2v2.4h-3.2zM140.89999999999998,843.9v3.2h2.4v-3.2zM152.1,843.9v3.2h2.4v-3.2z" fill="#fff" stroke="#111" stroke-width="0.8"/>
<circle cx="165.4" cy="855.7" r="4.2" fill="#fff" stroke="#222" stroke-width="0.8"/>
<path d="M162.4,852.7L168.4,858.7M168.4,852.7L162.4,858.7" stroke="#444" stroke-width="0.5"/>
<path d="M163.8,848.9000000000001h3.2v2.4h-3.2zM163.8,860.1h3.2v2.4h-3.2zM158.6,854.1v3.2h2.4v-3.2zM169.8,854.1v3.2h2.4v-3.2z" fill="#fff" stroke="#111" stroke-width="0.8"/>
<circle cx="213.6" cy="843.4" r="4.2" fill="#fff" stroke="#222" stroke-width="0.8"/>
<path d="M210.6,840.4L216.6,846.4M216.6,840.4L210.6,846.4" stroke="#444" stroke-width="0.5"/>
<path d="M212.0,836.6h3.2v2.4h-3.2zM212.0,847.8h3.2v2.4h-3.2zM206.79999999999998,841.8v3.2h2.4v-3.2zM218.0,841.8v3.2h2.4v-3.2z" fill="#fff" stroke="#111" stroke-width="0.8"/>
<circle cx="231.8" cy="848.2" r="4.2" fill="#fff" stroke="#222" stroke-width="0.8"/>
<path d="M228.8,845.2L234.8,851.2M234.8,845.2L228.8,851.2" stroke="#444" stroke-width="0.5"/>
<path d="M230.20000000000002,841.4000000000001h3.2v2.4h-3.2zM230.20000000000002,852.6h3.2v2.4h-3.2zM225.0,846.6v3.2h2.4v-3.2zM236.20000000000002,846.6v3.2h2.4v-3.2z" fill="#fff" stroke="#111" stroke-width="0.8"/>
<text transform="translate(209.2,553) scale(0.94,1)" font-size="26.3" text-anchor="middle" fill="#000" stroke="#fff" stroke-width="1.5" paint-order="stroke">E</text>
<rect x="379.6" y="557.4" width="33.2" height="33.6" fill="url(#hv)" stroke="#444" stroke-width="0.9" />
<rect x="382.1" y="559.9" width="28.2" height="28.6" fill="none" stroke="#bbb" stroke-width="0.5" />
<text x="385.6" y="571.3" font-size="4.6" fill="#111" text-anchor="start" font-style="italic">Terrasse R+2</text>
<text x="385.6" y="576.5" font-size="4.6" fill="#111" text-anchor="start" font-style="italic">25m²</text>
<text x="385.6" y="581.7" font-size="4.6" fill="#111" text-anchor="start" >PENTE 3%</text>
<rect x="412.8" y="557.4" width="110.6" height="36.6" fill="none" stroke="#3a3a3a" stroke-width="1.0" />
<path d="M379.6,557.4H523.4" stroke="#111" stroke-width="2" fill="none" />
<rect x="417.2" y="562.5" width="22.1" height="31" fill="#fff" stroke="#222" stroke-width="1"/><path d="M417.2,573.35H439.3M417.2,575.55H439.3M417.2,577.75H439.3M417.2,579.95H439.3M417.2,582.15H439.3M417.2,584.35H439.3M417.2,586.55H439.3M417.2,588.75H439.3M417.2,590.95H439.3M417.2,593.15H439.3" stroke="#777" stroke-width="0.5"/><rect x="426.25" y="573.35" width="4" height="19.22" fill="#fff" stroke="#222" stroke-width="0.8"/><path d="M418.7,574.9 A9.55,9.3 0 0 1 437.8,574.9" stroke="#bbb" stroke-width="0.5" fill="none"/>
<path d="M440.5,557.4V594 M487.3,557.4V594 M504.2,557.4V594" stroke="#3a3a3a" stroke-width="0.9" fill="none" />
<rect x="446" y="570.8" width="19" height="7" rx="3.5" fill="#f1edd8" stroke="#555" stroke-width="0.5"/>
<path d="M446.98,567.8h2.8v2.8h-2.8ZM446.98,578h2.8v2.8h-2.8ZM451.73,567.8h2.8v2.8h-2.8ZM451.73,578h2.8v2.8h-2.8ZM456.48,567.8h2.8v2.8h-2.8ZM456.48,578h2.8v2.8h-2.8ZM461.23,567.8h2.8v2.8h-2.8ZM461.23,578h2.8v2.8h-2.8ZM443,572.9h2.8v2.8h-2.8ZM465.2,572.9h2.8v2.8h-2.8Z" fill="#b22"/>
<rect x="475.5" y="568" width="7.5" height="7" fill="#fff" stroke="#333" stroke-width="0.6" />
<rect x="477" y="566" width="4" height="4" fill="#222" stroke="none" stroke-width="1" />
<rect x="489" y="569" width="9" height="6" fill="#f1edd8" stroke="#555" stroke-width="0.5" />
<rect x="490" y="563" width="4" height="4" fill="#222" stroke="none" stroke-width="1" />
<path d="M489.9,575.9h2.2v2.2h-2.2ZM493.9,575.9h2.2v2.2h-2.2ZM498.9,571.9h2.2v2.2h-2.2Z" fill="#b22"/>
<rect x="506" y="569" width="9" height="6" fill="#f1edd8" stroke="#555" stroke-width="0.5" />
<rect x="507" y="563" width="4" height="4" fill="#222" stroke="none" stroke-width="1" />
<path d="M506.9,575.9h2.2v2.2h-2.2ZM510.9,575.9h2.2v2.2h-2.2ZM515.9,571.9h2.2v2.2h-2.2Z" fill="#b22"/>
<rect x="380.6" y="626.7" width="35.9" height="33.9" fill="none" stroke="#3a3a3a" stroke-width="0.95" />
<path d="M376.6,608.3V626.7" stroke="#3a3a3a" stroke-width="0.9" fill="none" />
<rect x="394" y="635" width="10" height="16" fill="#fff" stroke="#333" stroke-width="0.6"/>
<path d="M399,635V651" stroke="#111" stroke-width="1.2"/>
<path d="M391.8,636.37h1.8v2.6h-1.8ZM404.4,636.37h1.8v2.6h-1.8ZM391.8,641.7h1.8v2.6h-1.8ZM404.4,641.7h1.8v2.6h-1.8ZM391.8,647.03h1.8v2.6h-1.8ZM404.4,647.03h1.8v2.6h-1.8ZM397,632.8h1.8v1.8h-1.8ZM399.2,632.8h1.8v1.8h-1.8Z" fill="#bcc43a" stroke="#4a5010" stroke-width="0.4"/>
<path d="M417.2,609.7L488,660.6M488,609.7L417.2,660.6" stroke="#666" stroke-width="0.5"/>
<rect x="417.2" y="609.7" width="70.8" height="50.9" fill="none" stroke="#333" stroke-width="0.9" stroke-dasharray="2,1"/>
<rect x="426.8" y="611" width="36.1" height="15" fill="none" stroke="#d33" stroke-width="1" />
<rect x="462.9" y="612" width="14.1" height="11.7" fill="#fff" stroke="#111" stroke-width="1.8" />
<rect x="465.4" y="614.5" width="9.1" height="6.7" fill="#fff" stroke="#3a3a3a" stroke-width="0.8" />
<rect x="466.9" y="616" width="6.1" height="3.7" fill="#666" stroke="none" stroke-width="1" />
<path d="M440.6,632H464.6M440.6,638H464.6M440.6,644H464.6M440.6,650H464.6M440.6,656H464.6M452.6,626V660.6M423.2,634V657.6M482,634V657.6" stroke="#444" stroke-width="0.7" fill="none" />
<path d="M440.6,643h24M440.6,644.5h24" stroke="#222" stroke-width="0.9"/>
<path d="M420.2,611.7V658.6" stroke="#999" stroke-width="1.4" stroke-dasharray="1,1.5"/>
<circle cx="438" cy="663.5" r="4.2" fill="#fff" stroke="#333" stroke-width="0.6"/>
<rect x="435.5" y="662" width="5" height="3" fill="#333" stroke="none" stroke-width="1" />
<rect x="487.7" y="607.3" width="35.7" height="53.3" fill="none" stroke="#3a3a3a" stroke-width="0.95" />
<path d="M487.7,623.4H523.4 M487.7,641.2H523.4 M506.3,641.2V660.6" stroke="#3a3a3a" stroke-width="1" fill="none" />
<rect x="500" y="613.5" width="8" height="6" fill="#fff" stroke="#333" stroke-width="0.6"/>
<path d="M504,613.5V619.5" stroke="#111" stroke-width="1.2"/>
<path d="M497.8,615.2h1.8v2.6h-1.8ZM508.4,615.2h1.8v2.6h-1.8ZM502,611.3h1.8v1.8h-1.8ZM504.2,611.3h1.8v1.8h-1.8Z" fill="#bcc43a" stroke="#4a5010" stroke-width="0.4"/>
<rect x="501.5" y="628" width="9" height="8" fill="#fff" stroke="#333" stroke-width="0.6"/>
<path d="M506,628V636" stroke="#111" stroke-width="1.2"/>
<path d="M499.3,630.7h1.8v2.6h-1.8ZM510.9,630.7h1.8v2.6h-1.8ZM504,625.8h1.8v1.8h-1.8ZM506.2,625.8h1.8v1.8h-1.8Z" fill="#bcc43a" stroke="#4a5010" stroke-width="0.4"/>
<rect x="494.5" y="647" width="5" height="8" fill="#fff" stroke="#333" stroke-width="0.6"/>
<path d="M497,647V655" stroke="#111" stroke-width="1.2"/>
<path d="M492.3,649.7h1.8v2.6h-1.8ZM499.9,649.7h1.8v2.6h-1.8ZM495,644.8h1.8v1.8h-1.8ZM497.2,644.8h1.8v1.8h-1.8Z" fill="#bcc43a" stroke="#4a5010" stroke-width="0.4"/>
<rect x="511.5" y="647" width="5" height="8" fill="#fff" stroke="#333" stroke-width="0.6"/>
<path d="M514,647V655" stroke="#111" stroke-width="1.2"/>
<path d="M509.3,649.7h1.8v2.6h-1.8ZM516.9,649.7h1.8v2.6h-1.8ZM512,644.8h1.8v1.8h-1.8ZM514.2,644.8h1.8v1.8h-1.8Z" fill="#bcc43a" stroke="#4a5010" stroke-width="0.4"/>
<text x="496.8" y="666.5" font-size="8.5" fill="#000" text-anchor="middle" stroke="#fff" stroke-width="1.5" paint-order="stroke">D23</text>
<text x="515.3" y="666.5" font-size="8.5" fill="#000" text-anchor="middle" stroke="#fff" stroke-width="1.5" paint-order="stroke">D24</text>
<path d="M380.6,626.7V833H525V630" stroke="#3a3a3a" stroke-width="1.0" fill="none" />
<path d="M525,630V833" stroke="#3a3a3a" stroke-width="0.9" fill="none" />
<path d="M426.3,670.3L478.8,764.1M478.8,670.3L426.3,764.1" stroke="#d8d8d8" stroke-width="0.6"/><rect x="426.3" y="670.3" width="52.5" height="93.8" fill="none" stroke="#aaa" stroke-width="0.8" stroke-dasharray="2,1"/>
<rect x="427.2" y="733.2" width="21.6" height="31.8" fill="#fff" stroke="#222" stroke-width="1"/><path d="M427.2,744.33H448.8M427.2,746.53H448.8M427.2,748.73H448.8M427.2,750.93H448.8M427.2,753.13H448.8M427.2,755.33H448.8M427.2,757.53H448.8M427.2,759.73H448.8M427.2,761.93H448.8M427.2,764.13H448.8" stroke="#777" stroke-width="0.5"/><rect x="436" y="744.33" width="4" height="19.72" fill="#fff" stroke="#222" stroke-width="0.8"/><path d="M428.7,745.92 A9.3,9.54 0 0 1 447.3,745.92" stroke="#bbb" stroke-width="0.5" fill="none"/>
<path d="M380.6,698.5H525 M380.6,731.3H525 M416,670V833 M487.3,670V833" stroke="#ccc" stroke-width="0.6" fill="none" stroke-dasharray="2,2"/>
<path d="M382.65,675.4h6.4v8.6h-6.4ZM390.3,675.4h6.4v8.6h-6.4ZM397.95,675.4h6.4v8.6h-6.4Z" fill="#fff" stroke="#999" stroke-width="0.4"/><path d="M382.02,679.7H404.97" stroke="#888" stroke-width="0.6"/><path d="M382.97,675.2V673.47H383.66L384.1,671.1H387.6L388.03,673.47H388.72V675.2ZM383.16,676.52h4.48v1.2h-4.48ZM382.97,684.2V685.93H383.66L384.1,688.3H387.6L388.03,685.93H388.72V684.2ZM383.16,681.68h4.48v1.2h-4.48ZM390.62,675.2V673.47H391.31L391.75,671.1H395.25L395.69,673.47H396.38V675.2ZM390.81,676.52h4.48v1.2h-4.48ZM390.62,684.2V685.93H391.31L391.75,688.3H395.25L395.69,685.93H396.38V684.2ZM390.81,681.68h4.48v1.2h-4.48ZM398.27,675.2V673.47H398.96L399.4,671.1H402.9L403.33,673.47H404.02V675.2ZM398.46,676.52h4.48v1.2h-4.48ZM398.27,684.2V685.93H398.96L399.4,688.3H402.9L403.33,685.93H404.02V684.2ZM398.46,681.68h4.48v1.2h-4.48ZM386.81,678.2h1.3v1.3h-1.3ZM386.81,679.91h1.3v1.3h-1.3ZM394.46,678.2h1.3v1.3h-1.3ZM394.46,679.91h1.3v1.3h-1.3ZM402.11,678.2h1.3v1.3h-1.3ZM402.11,679.91h1.3v1.3h-1.3Z" fill="#000"/>
<path d="M382.65,708.7h6.4v8.6h-6.4ZM390.3,708.7h6.4v8.6h-6.4ZM397.95,708.7h6.4v8.6h-6.4Z" fill="#fff" stroke="#999" stroke-width="0.4"/><path d="M382.02,713H404.97" stroke="#888" stroke-width="0.6"/><path d="M382.97,708.5V706.77H383.66L384.1,704.4H387.6L388.03,706.77H388.72V708.5ZM383.16,709.82h4.48v1.2h-4.48ZM382.97,717.5V719.23H383.66L384.1,721.6H387.6L388.03,719.23H388.72V717.5ZM383.16,714.98h4.48v1.2h-4.48ZM390.62,708.5V706.77H391.31L391.75,704.4H395.25L395.69,706.77H396.38V708.5ZM390.81,709.82h4.48v1.2h-4.48ZM390.62,717.5V719.23H391.31L391.75,721.6H395.25L395.69,719.23H396.38V717.5ZM390.81,714.98h4.48v1.2h-4.48ZM398.27,708.5V706.77H398.96L399.4,704.4H402.9L403.33,706.77H404.02V708.5ZM398.46,709.82h4.48v1.2h-4.48ZM398.27,717.5V719.23H398.96L399.4,721.6H402.9L403.33,719.23H404.02V717.5ZM398.46,714.98h4.48v1.2h-4.48ZM386.81,711.5h1.3v1.3h-1.3ZM386.81,713.21h1.3v1.3h-1.3ZM394.46,711.5h1.3v1.3h-1.3ZM394.46,713.21h1.3v1.3h-1.3ZM402.11,711.5h1.3v1.3h-1.3ZM402.11,713.21h1.3v1.3h-1.3Z" fill="#000"/>
<path d="M382.65,741.1h6.4v8.6h-6.4ZM390.3,741.1h6.4v8.6h-6.4ZM397.95,741.1h6.4v8.6h-6.4Z" fill="#fff" stroke="#999" stroke-width="0.4"/><path d="M382.02,745.4H404.97" stroke="#888" stroke-width="0.6"/><path d="M382.97,740.9V739.17H383.66L384.1,736.8H387.6L388.03,739.17H388.72V740.9ZM383.16,742.22h4.48v1.2h-4.48ZM382.97,749.9V751.63H383.66L384.1,754H387.6L388.03,751.63H388.72V749.9ZM383.16,747.38h4.48v1.2h-4.48ZM390.62,740.9V739.17H391.31L391.75,736.8H395.25L395.69,739.17H396.38V740.9ZM390.81,742.22h4.48v1.2h-4.48ZM390.62,749.9V751.63H391.31L391.75,754H395.25L395.69,751.63H396.38V749.9ZM390.81,747.38h4.48v1.2h-4.48ZM398.27,740.9V739.17H398.96L399.4,736.8H402.9L403.33,739.17H404.02V740.9ZM398.46,742.22h4.48v1.2h-4.48ZM398.27,749.9V751.63H398.96L399.4,754H402.9L403.33,751.63H404.02V749.9ZM398.46,747.38h4.48v1.2h-4.48ZM386.81,743.89h1.3v1.3h-1.3ZM386.81,745.61h1.3v1.3h-1.3ZM394.46,743.89h1.3v1.3h-1.3ZM394.46,745.61h1.3v1.3h-1.3ZM402.11,743.89h1.3v1.3h-1.3ZM402.11,745.61h1.3v1.3h-1.3Z" fill="#000"/>
<path d="M382.65,775.7h6.4v8.6h-6.4ZM390.3,775.7h6.4v8.6h-6.4ZM397.95,775.7h6.4v8.6h-6.4Z" fill="#fff" stroke="#999" stroke-width="0.4"/><path d="M382.02,780H404.97" stroke="#888" stroke-width="0.6"/><path d="M382.97,775.5V773.77H383.66L384.1,771.4H387.6L388.03,773.77H388.72V775.5ZM383.16,776.82h4.48v1.2h-4.48ZM382.97,784.5V786.23H383.66L384.1,788.6H387.6L388.03,786.23H388.72V784.5ZM383.16,781.98h4.48v1.2h-4.48ZM390.62,775.5V773.77H391.31L391.75,771.4H395.25L395.69,773.77H396.38V775.5ZM390.81,776.82h4.48v1.2h-4.48ZM390.62,784.5V786.23H391.31L391.75,788.6H395.25L395.69,786.23H396.38V784.5ZM390.81,781.98h4.48v1.2h-4.48ZM398.27,775.5V773.77H398.96L399.4,771.4H402.9L403.33,773.77H404.02V775.5ZM398.46,776.82h4.48v1.2h-4.48ZM398.27,784.5V786.23H398.96L399.4,788.6H402.9L403.33,786.23H404.02V784.5ZM398.46,781.98h4.48v1.2h-4.48ZM386.81,778.5h1.3v1.3h-1.3ZM386.81,780.21h1.3v1.3h-1.3ZM394.46,778.5h1.3v1.3h-1.3ZM394.46,780.21h1.3v1.3h-1.3ZM402.11,778.5h1.3v1.3h-1.3ZM402.11,780.21h1.3v1.3h-1.3Z" fill="#000"/>
<path d="M497.15,672.6h6.4v8.6h-6.4ZM504.8,672.6h6.4v8.6h-6.4ZM512.45,672.6h6.4v8.6h-6.4Z" fill="#fff" stroke="#999" stroke-width="0.4"/><path d="M496.52,676.9H519.48" stroke="#888" stroke-width="0.6"/><path d="M497.47,672.4V670.67H498.16L498.6,668.3H502.1L502.53,670.67H503.22V672.4ZM497.66,673.72h4.48v1.2h-4.48ZM497.47,681.4V683.13H498.16L498.6,685.5H502.1L502.53,683.13H503.22V681.4ZM497.66,678.88h4.48v1.2h-4.48ZM505.12,672.4V670.67H505.81L506.25,668.3H509.75L510.19,670.67H510.88V672.4ZM505.31,673.72h4.48v1.2h-4.48ZM505.12,681.4V683.13H505.81L506.25,685.5H509.75L510.19,683.13H510.88V681.4ZM505.31,678.88h4.48v1.2h-4.48ZM512.77,672.4V670.67H513.47L513.9,668.3H517.4L517.83,670.67H518.52V672.4ZM512.96,673.72h4.48v1.2h-4.48ZM512.77,681.4V683.13H513.47L513.9,685.5H517.4L517.83,683.13H518.52V681.4ZM512.96,678.88h4.48v1.2h-4.48ZM501.31,675.39h1.3v1.3h-1.3ZM501.31,677.11h1.3v1.3h-1.3ZM508.96,675.39h1.3v1.3h-1.3ZM508.96,677.11h1.3v1.3h-1.3ZM516.61,675.39h1.3v1.3h-1.3ZM516.61,677.11h1.3v1.3h-1.3Z" fill="#000"/>
<path d="M497.15,706.4h6.4v8.6h-6.4ZM504.8,706.4h6.4v8.6h-6.4ZM512.45,706.4h6.4v8.6h-6.4Z" fill="#fff" stroke="#999" stroke-width="0.4"/><path d="M496.52,710.7H519.48" stroke="#888" stroke-width="0.6"/><path d="M497.47,706.2V704.47H498.16L498.6,702.1H502.1L502.53,704.47H503.22V706.2ZM497.66,707.52h4.48v1.2h-4.48ZM497.47,715.2V716.93H498.16L498.6,719.3H502.1L502.53,716.93H503.22V715.2ZM497.66,712.68h4.48v1.2h-4.48ZM505.12,706.2V704.47H505.81L506.25,702.1H509.75L510.19,704.47H510.88V706.2ZM505.31,707.52h4.48v1.2h-4.48ZM505.12,715.2V716.93H505.81L506.25,719.3H509.75L510.19,716.93H510.88V715.2ZM505.31,712.68h4.48v1.2h-4.48ZM512.77,706.2V704.47H513.47L513.9,702.1H517.4L517.83,704.47H518.52V706.2ZM512.96,707.52h4.48v1.2h-4.48ZM512.77,715.2V716.93H513.47L513.9,719.3H517.4L517.83,716.93H518.52V715.2ZM512.96,712.68h4.48v1.2h-4.48ZM501.31,709.2h1.3v1.3h-1.3ZM501.31,710.91h1.3v1.3h-1.3ZM508.96,709.2h1.3v1.3h-1.3ZM508.96,710.91h1.3v1.3h-1.3ZM516.61,709.2h1.3v1.3h-1.3ZM516.61,710.91h1.3v1.3h-1.3Z" fill="#000"/>
<path d="M497.15,739.7h6.4v8.6h-6.4ZM504.8,739.7h6.4v8.6h-6.4ZM512.45,739.7h6.4v8.6h-6.4Z" fill="#fff" stroke="#999" stroke-width="0.4"/><path d="M496.52,744H519.48" stroke="#888" stroke-width="0.6"/><path d="M497.47,739.5V737.77H498.16L498.6,735.4H502.1L502.53,737.77H503.22V739.5ZM497.66,740.82h4.48v1.2h-4.48ZM497.47,748.5V750.23H498.16L498.6,752.6H502.1L502.53,750.23H503.22V748.5ZM497.66,745.98h4.48v1.2h-4.48ZM505.12,739.5V737.77H505.81L506.25,735.4H509.75L510.19,737.77H510.88V739.5ZM505.31,740.82h4.48v1.2h-4.48ZM505.12,748.5V750.23H505.81L506.25,752.6H509.75L510.19,750.23H510.88V748.5ZM505.31,745.98h4.48v1.2h-4.48ZM512.77,739.5V737.77H513.47L513.9,735.4H517.4L517.83,737.77H518.52V739.5ZM512.96,740.82h4.48v1.2h-4.48ZM512.77,748.5V750.23H513.47L513.9,752.6H517.4L517.83,750.23H518.52V748.5ZM512.96,745.98h4.48v1.2h-4.48ZM501.31,742.5h1.3v1.3h-1.3ZM501.31,744.21h1.3v1.3h-1.3ZM508.96,742.5h1.3v1.3h-1.3ZM508.96,744.21h1.3v1.3h-1.3ZM516.61,742.5h1.3v1.3h-1.3ZM516.61,744.21h1.3v1.3h-1.3Z" fill="#000"/>
<path d="M497.15,772.5h6.4v8.6h-6.4ZM504.8,772.5h6.4v8.6h-6.4ZM512.45,772.5h6.4v8.6h-6.4Z" fill="#fff" stroke="#999" stroke-width="0.4"/><path d="M496.52,776.8H519.48" stroke="#888" stroke-width="0.6"/><path d="M497.47,772.3V770.57H498.16L498.6,768.2H502.1L502.53,770.57H503.22V772.3ZM497.66,773.62h4.48v1.2h-4.48ZM497.47,781.3V783.03H498.16L498.6,785.4H502.1L502.53,783.03H503.22V781.3ZM497.66,778.78h4.48v1.2h-4.48ZM505.12,772.3V770.57H505.81L506.25,768.2H509.75L510.19,770.57H510.88V772.3ZM505.31,773.62h4.48v1.2h-4.48ZM505.12,781.3V783.03H505.81L506.25,785.4H509.75L510.19,783.03H510.88V781.3ZM505.31,778.78h4.48v1.2h-4.48ZM512.77,772.3V770.57H513.47L513.9,768.2H517.4L517.83,770.57H518.52V772.3ZM512.96,773.62h4.48v1.2h-4.48ZM512.77,781.3V783.03H513.47L513.9,785.4H517.4L517.83,783.03H518.52V781.3ZM512.96,778.78h4.48v1.2h-4.48ZM501.31,775.29h1.3v1.3h-1.3ZM501.31,777h1.3v1.3h-1.3ZM508.96,775.29h1.3v1.3h-1.3ZM508.96,777h1.3v1.3h-1.3ZM516.61,775.29h1.3v1.3h-1.3ZM516.61,777h1.3v1.3h-1.3Z" fill="#000"/>
<g transform="rotate(90 397.7 816.2)">
<path d="M387.5,811.2h6v10h-6ZM394.7,811.2h6v10h-6ZM401.9,811.2h6v10h-6Z" fill="#fff" stroke="#999" stroke-width="0.4"/><path d="M386.9,816.2H408.5" stroke="#888" stroke-width="0.6"/><path d="M387.62,811V809.45H388.31L388.75,807.3H392.25L392.69,809.45H393.38V811ZM387.98,812.6h4.2v1.2h-4.2ZM387.62,821.4V822.96H388.31L388.75,825.1H392.25L392.69,822.96H393.38V821.4ZM387.98,818.6h4.2v1.2h-4.2ZM394.82,811V809.45H395.51L395.95,807.3H399.45L399.88,809.45H400.57V811ZM395.18,812.6h4.2v1.2h-4.2ZM394.82,821.4V822.96H395.51L395.95,825.1H399.45L399.88,822.96H400.57V821.4ZM395.18,818.6h4.2v1.2h-4.2ZM402.02,811V809.45H402.71L403.15,807.3H406.65L407.08,809.45H407.77V811ZM402.38,812.6h4.2v1.2h-4.2ZM402.02,821.4V822.96H402.71L403.15,825.1H406.65L407.08,822.96H407.77V821.4ZM402.38,818.6h4.2v1.2h-4.2ZM391.4,814.45h1.3v1.3h-1.3ZM391.4,816.65h1.3v1.3h-1.3ZM398.6,814.45h1.3v1.3h-1.3ZM398.6,816.65h1.3v1.3h-1.3ZM405.8,814.45h1.3v1.3h-1.3ZM405.8,816.65h1.3v1.3h-1.3Z" fill="#000"/>
</g>
<g transform="rotate(90 434.7 812.4)">
<path d="M424.5,807.4h6v10h-6ZM431.7,807.4h6v10h-6ZM438.9,807.4h6v10h-6Z" fill="#fff" stroke="#999" stroke-width="0.4"/><path d="M423.9,812.4H445.5" stroke="#888" stroke-width="0.6"/><path d="M424.62,807.2V805.64H425.31L425.75,803.5H429.25L429.69,805.64H430.38V807.2ZM424.98,808.8h4.2v1.2h-4.2ZM424.62,817.6V819.15H425.31L425.75,821.3H429.25L429.69,819.15H430.38V817.6ZM424.98,814.8h4.2v1.2h-4.2ZM431.82,807.2V805.64H432.51L432.95,803.5H436.45L436.88,805.64H437.57V807.2ZM432.18,808.8h4.2v1.2h-4.2ZM431.82,817.6V819.15H432.51L432.95,821.3H436.45L436.88,819.15H437.57V817.6ZM432.18,814.8h4.2v1.2h-4.2ZM439.02,807.2V805.64H439.71L440.15,803.5H443.65L444.08,805.64H444.77V807.2ZM439.38,808.8h4.2v1.2h-4.2ZM439.02,817.6V819.15H439.71L440.15,821.3H443.65L444.08,819.15H444.77V817.6ZM439.38,814.8h4.2v1.2h-4.2ZM428.4,810.65h1.3v1.3h-1.3ZM428.4,812.85h1.3v1.3h-1.3ZM435.6,810.65h1.3v1.3h-1.3ZM435.6,812.85h1.3v1.3h-1.3ZM442.8,810.65h1.3v1.3h-1.3ZM442.8,812.85h1.3v1.3h-1.3Z" fill="#000"/>
</g>
<g transform="rotate(90 468.5 808.7)">
<path d="M458.3,803.7h6v10h-6ZM465.5,803.7h6v10h-6ZM472.7,803.7h6v10h-6Z" fill="#fff" stroke="#999" stroke-width="0.4"/><path d="M457.7,808.7H479.3" stroke="#888" stroke-width="0.6"/><path d="M458.43,803.5V801.95H459.12L459.55,799.8H463.05L463.49,801.95H464.18V803.5ZM458.78,805.1h4.2v1.2h-4.2ZM458.43,813.9V815.46H459.12L459.55,817.6H463.05L463.49,815.46H464.18V813.9ZM458.78,811.1h4.2v1.2h-4.2ZM465.62,803.5V801.95H466.31L466.75,799.8H470.25L470.69,801.95H471.38V803.5ZM465.98,805.1h4.2v1.2h-4.2ZM465.62,813.9V815.46H466.31L466.75,817.6H470.25L470.69,815.46H471.38V813.9ZM465.98,811.1h4.2v1.2h-4.2ZM472.82,803.5V801.95H473.51L473.95,799.8H477.45L477.88,801.95H478.57V803.5ZM473.18,805.1h4.2v1.2h-4.2ZM472.82,813.9V815.46H473.51L473.95,817.6H477.45L477.88,815.46H478.57V813.9ZM473.18,811.1h4.2v1.2h-4.2ZM462.2,806.95h1.3v1.3h-1.3ZM462.2,809.15h1.3v1.3h-1.3ZM469.4,806.95h1.3v1.3h-1.3ZM469.4,809.15h1.3v1.3h-1.3ZM476.6,806.95h1.3v1.3h-1.3ZM476.6,809.15h1.3v1.3h-1.3Z" fill="#000"/>
</g>
<g transform="rotate(90 501.8 816.2)">
<path d="M491.6,811.2h6v10h-6ZM498.8,811.2h6v10h-6ZM506,811.2h6v10h-6Z" fill="#fff" stroke="#999" stroke-width="0.4"/><path d="M491,816.2H512.6" stroke="#888" stroke-width="0.6"/><path d="M491.73,811V809.45H492.42L492.85,807.3H496.35L496.79,809.45H497.48V811ZM492.08,812.6h4.2v1.2h-4.2ZM491.73,821.4V822.96H492.42L492.85,825.1H496.35L496.79,822.96H497.48V821.4ZM492.08,818.6h4.2v1.2h-4.2ZM498.93,811V809.45H499.62L500.05,807.3H503.55L503.99,809.45H504.68V811ZM499.28,812.6h4.2v1.2h-4.2ZM498.93,821.4V822.96H499.62L500.05,825.1H503.55L503.99,822.96H504.68V821.4ZM499.28,818.6h4.2v1.2h-4.2ZM506.12,811V809.45H506.81L507.25,807.3H510.75L511.19,809.45H511.88V811ZM506.48,812.6h4.2v1.2h-4.2ZM506.12,821.4V822.96H506.81L507.25,825.1H510.75L511.19,822.96H511.88V821.4ZM506.48,818.6h4.2v1.2h-4.2ZM495.5,814.45h1.3v1.3h-1.3ZM495.5,816.65h1.3v1.3h-1.3ZM502.7,814.45h1.3v1.3h-1.3ZM502.7,816.65h1.3v1.3h-1.3ZM509.9,814.45h1.3v1.3h-1.3ZM509.9,816.65h1.3v1.3h-1.3Z" fill="#000"/>
</g>
<rect x="416" y="774" width="39.6" height="24" fill="#fff" stroke="#3a3a3a" stroke-width="0.9" />
<text x="432" y="796" font-size="9" fill="#000" text-anchor="middle" stroke="#fff" stroke-width="1.5" paint-order="stroke">D25</text>
<path d="M461,783.8h5v10.3h-5zM472,783.8h5v10.3h-5z" fill="#c22" stroke="#600" stroke-width="0.4"/><path d="M466,788h6v6h-6z" fill="#fff" stroke="#333" stroke-width="0.4"/>
<rect x="380.6" y="833" width="144.4" height="33.7" fill="url(#hv)" stroke="#444" stroke-width="0.9" />
<rect x="383.1" y="835.5" width="139.4" height="28.7" fill="none" stroke="#bbb" stroke-width="0.5" />
<text x="455.7" y="847.4" font-size="4.6" fill="#111" text-anchor="start" font-style="italic">Terrasse R+2</text>
<text x="455.7" y="852.6" font-size="4.6" fill="#111" text-anchor="start" font-style="italic">114.8m²</text>
<text x="455.7" y="857.8" font-size="4.6" fill="#111" text-anchor="start" >PENTE 3%</text>
<polygon points="412.78,853 407.7,858.08 400.5,858.08 395.42,853 395.42,845.8 400.5,840.72 407.7,840.72 412.78,845.8" fill="#fbfbf0" stroke="#333" stroke-width="0.7"/><path d="M404.1,849.4L412.78,853M404.1,849.4L407.7,858.08M404.1,849.4L400.5,858.08M404.1,849.4L395.42,853M404.1,849.4L395.42,845.8M404.1,849.4L400.5,840.72M404.1,849.4L407.7,840.72M404.1,849.4L412.78,845.8" stroke="#444" stroke-width="0.45"/><path d="M404.1,849.4L397.52,840" stroke="#333" stroke-width="1"/><circle cx="404.1" cy="849.4" r="1.1" fill="#111"/><rect x="395.52" y="838" width="4" height="4" fill="#d9c4c4" stroke="#755" stroke-width="0.5" transform="rotate(35 397.52 840)"/><path d="M413.03,843.9h4v13.5h-4zM417.03,849h3.8v3.6h-3.8z" fill="#1a1a1a"/>
<polygon points="499.98,851 494.9,856.08 487.7,856.08 482.62,851 482.62,843.8 487.7,838.72 494.9,838.72 499.98,843.8" fill="#fbfbf0" stroke="#333" stroke-width="0.7"/><path d="M491.3,847.4L499.98,851M491.3,847.4L494.9,856.08M491.3,847.4L487.7,856.08M491.3,847.4L482.62,851M491.3,847.4L482.62,843.8M491.3,847.4L487.7,838.72M491.3,847.4L494.9,838.72M491.3,847.4L499.98,843.8" stroke="#444" stroke-width="0.45"/><path d="M491.3,847.4L484.72,838" stroke="#333" stroke-width="1"/><circle cx="491.3" cy="847.4" r="1.1" fill="#111"/><rect x="482.72" y="836" width="4" height="4" fill="#d9c4c4" stroke="#755" stroke-width="0.5" transform="rotate(35 484.72 838)"/><path d="M500.23,841.9h4v13.5h-4zM504.23,847h3.8v3.6h-3.8z" fill="#1a1a1a"/>
<text transform="translate(474,549.6) scale(0.94,1)" font-size="26.3" text-anchor="middle" fill="#000" stroke="#fff" stroke-width="1.5" paint-order="stroke">D</text>
<rect x="653" y="557" width="34" height="34" fill="url(#hv)" stroke="#444" stroke-width="0.9" />
<rect x="655.5" y="559.5" width="29" height="29" fill="none" stroke="#bbb" stroke-width="0.5" />
<text x="659" y="571.3" font-size="4.6" fill="#111" text-anchor="start" font-style="italic">Terrasse R+2</text>
<text x="659" y="576.5" font-size="4.6" fill="#111" text-anchor="start" font-style="italic">25m²</text>
<text x="659" y="581.7" font-size="4.6" fill="#111" text-anchor="start" >PENTE 3%</text>
<rect x="687" y="557" width="106" height="34.4" fill="none" stroke="#3a3a3a" stroke-width="1.0" />
<path d="M653,557H793" stroke="#111" stroke-width="2" fill="none" />
<rect x="689" y="562" width="23.5" height="31" fill="#fff" stroke="#222" stroke-width="1"/><path d="M689,572.85H712.5M689,575.05H712.5M689,577.25H712.5M689,579.45H712.5M689,581.65H712.5M689,583.85H712.5M689,586.05H712.5M689,588.25H712.5M689,590.45H712.5M689,592.65H712.5" stroke="#777" stroke-width="0.5"/><rect x="698.75" y="572.85" width="4" height="19.22" fill="#fff" stroke="#222" stroke-width="0.8"/><path d="M690.5,574.4 A10.25,9.3 0 0 1 711,574.4" stroke="#bbb" stroke-width="0.5" fill="none"/>
<path d="M712.5,558V593 M735.7,558V593 M773.2,558V593" stroke="#3a3a3a" stroke-width="1" fill="none" />
<rect x="716.2" y="574.5" width="14" height="7" rx="0" fill="#f1edd8" stroke="#555" stroke-width="0.5"/>
<path d="M716.55,571.5h2.8v2.8h-2.8ZM716.55,581.7h2.8v2.8h-2.8ZM720.05,571.5h2.8v2.8h-2.8ZM720.05,581.7h2.8v2.8h-2.8ZM723.55,571.5h2.8v2.8h-2.8ZM723.55,581.7h2.8v2.8h-2.8ZM727.05,571.5h2.8v2.8h-2.8ZM727.05,581.7h2.8v2.8h-2.8ZM713.2,576.6h2.8v2.8h-2.8ZM730.4,576.6h2.8v2.8h-2.8Z" fill="#b22"/>
<rect x="743" y="574.5" width="18" height="7" rx="3.5" fill="#f1edd8" stroke="#555" stroke-width="0.5"/>
<path d="M743.85,571.5h2.8v2.8h-2.8ZM743.85,581.7h2.8v2.8h-2.8ZM748.35,571.5h2.8v2.8h-2.8ZM748.35,581.7h2.8v2.8h-2.8ZM752.85,571.5h2.8v2.8h-2.8ZM752.85,581.7h2.8v2.8h-2.8ZM757.35,571.5h2.8v2.8h-2.8ZM757.35,581.7h2.8v2.8h-2.8ZM740,576.6h2.8v2.8h-2.8ZM761.2,576.6h2.8v2.8h-2.8Z" fill="#b22"/>
<rect x="775" y="572" width="6" height="12" fill="#fff" stroke="#333" stroke-width="0.6" />
<rect x="776.5" y="567" width="3" height="4" fill="#222" stroke="none" stroke-width="1" />
<rect x="776" y="585" width="4" height="3" fill="#bcc43a" stroke="none" stroke-width="1" />
<text x="726.8" y="569.1" font-size="9" fill="#000" text-anchor="middle" stroke="#fff" stroke-width="1.5" paint-order="stroke">C20</text>
<text x="750.9" y="569.1" font-size="9" fill="#000" text-anchor="middle" stroke="#fff" stroke-width="1.5" paint-order="stroke">C21</text>
<rect x="657.4" y="608" width="31.9" height="20" fill="none" stroke="#3a3a3a" stroke-width="0.9" />
<path d="M690,610L756.3,661.4M756.3,610L690,661.4" stroke="#666" stroke-width="0.5"/>
<rect x="690" y="610" width="66.3" height="51.4" fill="none" stroke="#333" stroke-width="0.9" stroke-dasharray="2,1"/>
<rect x="700.5" y="610" width="30.2" height="14" fill="none" stroke="#d33" stroke-width="1" />
<rect x="731.9" y="611.4" width="13.9" height="12.6" fill="#fff" stroke="#111" stroke-width="1.8" />
<rect x="734.4" y="613.9" width="8.9" height="7.6" fill="#fff" stroke="#3a3a3a" stroke-width="0.8" />
<rect x="735.9" y="615.4" width="5.9" height="4.6" fill="#666" stroke="none" stroke-width="1" />
<path d="M711.15,630H735.15M711.15,636H735.15M711.15,642H735.15M711.15,648H735.15M711.15,654H735.15M723.15,624V661.4M696,632V658.4M750.3,632V658.4" stroke="#444" stroke-width="0.7" fill="none" />
<path d="M711.15,641h24M711.15,642.5h24" stroke="#222" stroke-width="0.9"/>
<path d="M693,612V659.4" stroke="#999" stroke-width="1.4" stroke-dasharray="1,1.5"/>
<circle cx="712" cy="665" r="4.2" fill="#fff" stroke="#333" stroke-width="0.6"/>
<rect x="709.5" y="663.5" width="5" height="3" fill="#333" stroke="none" stroke-width="1" />
<circle cx="723.7" cy="665" r="4.2" fill="#fff" stroke="#333" stroke-width="0.6"/>
<rect x="721.2" y="663.5" width="5" height="3" fill="#333" stroke="none" stroke-width="1" />
<rect x="756" y="607.1" width="35.6" height="53.6" fill="none" stroke="#3a3a3a" stroke-width="0.95" />
<path d="M756,627.2H791.6 M756,642.6H791.6 M767.4,607.1V627.2" stroke="#3a3a3a" stroke-width="1" fill="none" />
<rect x="776" y="608.5" width="11" height="2.5" fill="#111" stroke="none" stroke-width="1" />
<rect x="787" y="608.5" width="3" height="10.7" fill="#111" stroke="none" stroke-width="1" />
<rect x="771" y="612" width="15" height="13" fill="#fff" stroke="#999" stroke-width="0.3" />
<path d="M758,609h2.5v2.5h-2.5zM760,614h2.5v3h-2.5zM760,619h2.5v3h-2.5z" fill="#bcc43a" stroke="#4a5010" stroke-width="0.4"/>
<rect x="762.5" y="612" width="3.5" height="12" fill="#fff" stroke="#333" stroke-width="0.5" />
<rect x="769" y="633" width="7" height="7" fill="#fff" stroke="#333" stroke-width="0.5" />
<path d="M765.5,632h2v3h-2zM765.5,636.5h2v3h-2z" fill="#bcc43a" stroke="#4a5010" stroke-width="0.4"/>
<rect x="769" y="646" width="8" height="8" fill="#fff" stroke="#333" stroke-width="0.6"/>
<path d="M773,646V654" stroke="#111" stroke-width="1.2"/>
<path d="M766.8,648.7h1.8v2.6h-1.8ZM777.4,648.7h1.8v2.6h-1.8ZM771,643.8h1.8v1.8h-1.8ZM773.2,643.8h1.8v1.8h-1.8Z" fill="#bcc43a" stroke="#4a5010" stroke-width="0.4"/>
<path d="M769.5,653.5h2v2h-2zM773.5,653.5h2v2h-2z" fill="#bcc43a" stroke="#4a5010" stroke-width="0.4"/>
<text x="770" y="633.3" font-size="8.5" fill="#000" text-anchor="middle" stroke="#fff" stroke-width="1.5" paint-order="stroke">C22</text>
<text x="782.8" y="658.7" font-size="8.5" fill="#000" text-anchor="middle" stroke="#fff" stroke-width="1.5" paint-order="stroke">C23</text>
<path d="M654.4,628.8V800H793V662" stroke="#3a3a3a" stroke-width="1.0" fill="none" />
<path d="M700,668.8L747,764.4M747,668.8L700,764.4" stroke="#d8d8d8" stroke-width="0.6"/><rect x="700" y="668.8" width="47" height="95.6" fill="none" stroke="#aaa" stroke-width="0.8" stroke-dasharray="2,1"/>
<rect x="724" y="733" width="21" height="31" fill="#fff" stroke="#222" stroke-width="1"/><path d="M724,743.85H745M724,746.05H745M724,748.25H745M724,750.45H745M724,752.65H745M724,754.85H745M724,757.05H745M724,759.25H745M724,761.45H745M724,763.65H745" stroke="#777" stroke-width="0.5"/><rect x="732.5" y="743.85" width="4" height="19.22" fill="#fff" stroke="#222" stroke-width="0.8"/><path d="M725.5,745.4 A9,9.3 0 0 1 743.5,745.4" stroke="#bbb" stroke-width="0.5" fill="none"/>
<path d="M654.4,670H793 M686,670V801 M762,670V801" stroke="#ddd" stroke-width="0.5" fill="none" />
<rect x="656.25" y="640.4" width="26.1" height="10" fill="#fff" stroke="#444" stroke-width="0.75"/><path d="M656.25,645.4H682.35M662.95,640.4L666.95,650.4M666.95,640.4L662.95,650.4M671.65,640.4L675.65,650.4M675.65,640.4L671.65,650.4" stroke="#444" stroke-width="0.7"/><path d="M658.66,640.1L658.29,638.3L659.21,636.2H661.99L662.91,638.3L662.54,640.1ZM658.75,641.25h3.7v1.1h-3.7ZM659.21,643.3h2.77v1.2h-2.77ZM658.66,650.7L658.29,652.5L659.21,654.6H661.99L662.91,652.5L662.54,650.7ZM658.75,648.45h3.7v1.1h-3.7ZM659.21,646.3h2.77v1.2h-2.77ZM659.8,640.4h1.6v10h-1.6ZM667.36,640.1L666.99,638.3L667.91,636.2H670.69L671.61,638.3L671.24,640.1ZM667.45,641.25h3.7v1.1h-3.7ZM667.91,643.3h2.77v1.2h-2.77ZM667.36,650.7L666.99,652.5L667.91,654.6H670.69L671.61,652.5L671.24,650.7ZM667.45,648.45h3.7v1.1h-3.7ZM667.91,646.3h2.77v1.2h-2.77ZM668.5,640.4h1.6v10h-1.6ZM676.06,640.1L675.69,638.3L676.61,636.2H679.39L680.31,638.3L679.94,640.1ZM676.15,641.25h3.7v1.1h-3.7ZM676.61,643.3h2.77v1.2h-2.77ZM676.06,650.7L675.69,652.5L676.61,654.6H679.39L680.31,652.5L679.94,650.7ZM676.15,648.45h3.7v1.1h-3.7ZM676.61,646.3h2.77v1.2h-2.77ZM677.2,640.4h1.6v10h-1.6ZM654.65,645.4L656.25,644.2L657.85,645.4L656.25,646.6ZM663.35,645.4L664.95,644.2L666.55,645.4L664.95,646.6ZM672.05,645.4L673.65,644.2L675.25,645.4L673.65,646.6ZM680.75,645.4L682.35,644.2L683.95,645.4L682.35,646.6Z" fill="#000" fill-opacity="1.0"/>
<rect x="656.25" y="675" width="26.1" height="10" fill="#fff" stroke="#444" stroke-width="0.75"/><path d="M656.25,680H682.35M662.95,675L666.95,685M666.95,675L662.95,685M671.65,675L675.65,685M675.65,675L671.65,685" stroke="#444" stroke-width="0.7"/><path d="M658.66,674.7L658.29,672.9L659.21,670.8H661.99L662.91,672.9L662.54,674.7ZM658.75,675.85h3.7v1.1h-3.7ZM659.21,677.9h2.77v1.2h-2.77ZM658.66,685.3L658.29,687.1L659.21,689.2H661.99L662.91,687.1L662.54,685.3ZM658.75,683.05h3.7v1.1h-3.7ZM659.21,680.9h2.77v1.2h-2.77ZM659.8,675h1.6v10h-1.6ZM667.36,674.7L666.99,672.9L667.91,670.8H670.69L671.61,672.9L671.24,674.7ZM667.45,675.85h3.7v1.1h-3.7ZM667.91,677.9h2.77v1.2h-2.77ZM667.36,685.3L666.99,687.1L667.91,689.2H670.69L671.61,687.1L671.24,685.3ZM667.45,683.05h3.7v1.1h-3.7ZM667.91,680.9h2.77v1.2h-2.77ZM668.5,675h1.6v10h-1.6ZM676.06,674.7L675.69,672.9L676.61,670.8H679.39L680.31,672.9L679.94,674.7ZM676.15,675.85h3.7v1.1h-3.7ZM676.61,677.9h2.77v1.2h-2.77ZM676.06,685.3L675.69,687.1L676.61,689.2H679.39L680.31,687.1L679.94,685.3ZM676.15,683.05h3.7v1.1h-3.7ZM676.61,680.9h2.77v1.2h-2.77ZM677.2,675h1.6v10h-1.6ZM654.65,680L656.25,678.8L657.85,680L656.25,681.2ZM663.35,680L664.95,678.8L666.55,680L664.95,681.2ZM672.05,680L673.65,678.8L675.25,680L673.65,681.2ZM680.75,680L682.35,678.8L683.95,680L682.35,681.2Z" fill="#000" fill-opacity="1.0"/>
<rect x="656.25" y="707" width="26.1" height="10" fill="#fff" stroke="#444" stroke-width="0.75"/><path d="M656.25,712H682.35M662.95,707L666.95,717M666.95,707L662.95,717M671.65,707L675.65,717M675.65,707L671.65,717" stroke="#444" stroke-width="0.7"/><path d="M658.66,706.7L658.29,704.9L659.21,702.8H661.99L662.91,704.9L662.54,706.7ZM658.75,707.85h3.7v1.1h-3.7ZM659.21,709.9h2.77v1.2h-2.77ZM658.66,717.3L658.29,719.1L659.21,721.2H661.99L662.91,719.1L662.54,717.3ZM658.75,715.05h3.7v1.1h-3.7ZM659.21,712.9h2.77v1.2h-2.77ZM659.8,707h1.6v10h-1.6ZM667.36,706.7L666.99,704.9L667.91,702.8H670.69L671.61,704.9L671.24,706.7ZM667.45,707.85h3.7v1.1h-3.7ZM667.91,709.9h2.77v1.2h-2.77ZM667.36,717.3L666.99,719.1L667.91,721.2H670.69L671.61,719.1L671.24,717.3ZM667.45,715.05h3.7v1.1h-3.7ZM667.91,712.9h2.77v1.2h-2.77ZM668.5,707h1.6v10h-1.6ZM676.06,706.7L675.69,704.9L676.61,702.8H679.39L680.31,704.9L679.94,706.7ZM676.15,707.85h3.7v1.1h-3.7ZM676.61,709.9h2.77v1.2h-2.77ZM676.06,717.3L675.69,719.1L676.61,721.2H679.39L680.31,719.1L679.94,717.3ZM676.15,715.05h3.7v1.1h-3.7ZM676.61,712.9h2.77v1.2h-2.77ZM677.2,707h1.6v10h-1.6ZM654.65,712L656.25,710.8L657.85,712L656.25,713.2ZM663.35,712L664.95,710.8L666.55,712L664.95,713.2ZM672.05,712L673.65,710.8L675.25,712L673.65,713.2ZM680.75,712L682.35,710.8L683.95,712L682.35,713.2Z" fill="#000" fill-opacity="1.0"/>
<rect x="656.25" y="735.6" width="26.1" height="10" fill="#fff" stroke="#444" stroke-width="0.75"/><path d="M656.25,740.6H682.35M662.95,735.6L666.95,745.6M666.95,735.6L662.95,745.6M671.65,735.6L675.65,745.6M675.65,735.6L671.65,745.6" stroke="#444" stroke-width="0.7"/><path d="M658.66,735.3L658.29,733.5L659.21,731.4H661.99L662.91,733.5L662.54,735.3ZM658.75,736.45h3.7v1.1h-3.7ZM659.21,738.5h2.77v1.2h-2.77ZM658.66,745.9L658.29,747.7L659.21,749.8H661.99L662.91,747.7L662.54,745.9ZM658.75,743.65h3.7v1.1h-3.7ZM659.21,741.5h2.77v1.2h-2.77ZM659.8,735.6h1.6v10h-1.6ZM667.36,735.3L666.99,733.5L667.91,731.4H670.69L671.61,733.5L671.24,735.3ZM667.45,736.45h3.7v1.1h-3.7ZM667.91,738.5h2.77v1.2h-2.77ZM667.36,745.9L666.99,747.7L667.91,749.8H670.69L671.61,747.7L671.24,745.9ZM667.45,743.65h3.7v1.1h-3.7ZM667.91,741.5h2.77v1.2h-2.77ZM668.5,735.6h1.6v10h-1.6ZM676.06,735.3L675.69,733.5L676.61,731.4H679.39L680.31,733.5L679.94,735.3ZM676.15,736.45h3.7v1.1h-3.7ZM676.61,738.5h2.77v1.2h-2.77ZM676.06,745.9L675.69,747.7L676.61,749.8H679.39L680.31,747.7L679.94,745.9ZM676.15,743.65h3.7v1.1h-3.7ZM676.61,741.5h2.77v1.2h-2.77ZM677.2,735.6h1.6v10h-1.6ZM654.65,740.6L656.25,739.4L657.85,740.6L656.25,741.8ZM663.35,740.6L664.95,739.4L666.55,740.6L664.95,741.8ZM672.05,740.6L673.65,739.4L675.25,740.6L673.65,741.8ZM680.75,740.6L682.35,739.4L683.95,740.6L682.35,741.8Z" fill="#000" fill-opacity="1.0"/>
<rect x="763.15" y="675" width="26.1" height="10" fill="#fff" stroke="#444" stroke-width="0.75"/><path d="M763.15,680H789.25M769.85,675L773.85,685M773.85,675L769.85,685M778.55,675L782.55,685M782.55,675L778.55,685" stroke="#444" stroke-width="0.7"/><path d="M765.56,674.7L765.19,672.9L766.11,670.8H768.89L769.81,672.9L769.44,674.7ZM765.65,675.85h3.7v1.1h-3.7ZM766.11,677.9h2.77v1.2h-2.77ZM765.56,685.3L765.19,687.1L766.11,689.2H768.89L769.81,687.1L769.44,685.3ZM765.65,683.05h3.7v1.1h-3.7ZM766.11,680.9h2.77v1.2h-2.77ZM766.7,675h1.6v10h-1.6ZM774.26,674.7L773.89,672.9L774.81,670.8H777.59L778.51,672.9L778.14,674.7ZM774.35,675.85h3.7v1.1h-3.7ZM774.81,677.9h2.77v1.2h-2.77ZM774.26,685.3L773.89,687.1L774.81,689.2H777.59L778.51,687.1L778.14,685.3ZM774.35,683.05h3.7v1.1h-3.7ZM774.81,680.9h2.77v1.2h-2.77ZM775.4,675h1.6v10h-1.6ZM782.96,674.7L782.59,672.9L783.51,670.8H786.29L787.21,672.9L786.84,674.7ZM783.05,675.85h3.7v1.1h-3.7ZM783.51,677.9h2.77v1.2h-2.77ZM782.96,685.3L782.59,687.1L783.51,689.2H786.29L787.21,687.1L786.84,685.3ZM783.05,683.05h3.7v1.1h-3.7ZM783.51,680.9h2.77v1.2h-2.77ZM784.1,675h1.6v10h-1.6ZM761.55,680L763.15,678.8L764.75,680L763.15,681.2ZM770.25,680L771.85,678.8L773.45,680L771.85,681.2ZM778.95,680L780.55,678.8L782.15,680L780.55,681.2ZM787.65,680L789.25,678.8L790.85,680L789.25,681.2Z" fill="#000" fill-opacity="1.0"/>
<rect x="763.15" y="707.5" width="26.1" height="10" fill="#fff" stroke="#444" stroke-width="0.75"/><path d="M763.15,712.5H789.25M769.85,707.5L773.85,717.5M773.85,707.5L769.85,717.5M778.55,707.5L782.55,717.5M782.55,707.5L778.55,717.5" stroke="#444" stroke-width="0.7"/><path d="M765.56,707.2L765.19,705.4L766.11,703.3H768.89L769.81,705.4L769.44,707.2ZM765.65,708.35h3.7v1.1h-3.7ZM766.11,710.4h2.77v1.2h-2.77ZM765.56,717.8L765.19,719.6L766.11,721.7H768.89L769.81,719.6L769.44,717.8ZM765.65,715.55h3.7v1.1h-3.7ZM766.11,713.4h2.77v1.2h-2.77ZM766.7,707.5h1.6v10h-1.6ZM774.26,707.2L773.89,705.4L774.81,703.3H777.59L778.51,705.4L778.14,707.2ZM774.35,708.35h3.7v1.1h-3.7ZM774.81,710.4h2.77v1.2h-2.77ZM774.26,717.8L773.89,719.6L774.81,721.7H777.59L778.51,719.6L778.14,717.8ZM774.35,715.55h3.7v1.1h-3.7ZM774.81,713.4h2.77v1.2h-2.77ZM775.4,707.5h1.6v10h-1.6ZM782.96,707.2L782.59,705.4L783.51,703.3H786.29L787.21,705.4L786.84,707.2ZM783.05,708.35h3.7v1.1h-3.7ZM783.51,710.4h2.77v1.2h-2.77ZM782.96,717.8L782.59,719.6L783.51,721.7H786.29L787.21,719.6L786.84,717.8ZM783.05,715.55h3.7v1.1h-3.7ZM783.51,713.4h2.77v1.2h-2.77ZM784.1,707.5h1.6v10h-1.6ZM761.55,712.5L763.15,711.3L764.75,712.5L763.15,713.7ZM770.25,712.5L771.85,711.3L773.45,712.5L771.85,713.7ZM778.95,712.5L780.55,711.3L782.15,712.5L780.55,713.7ZM787.65,712.5L789.25,711.3L790.85,712.5L789.25,713.7Z" fill="#000" fill-opacity="1.0"/>
<rect x="763.15" y="738.3" width="26.1" height="10" fill="#fff" stroke="#444" stroke-width="0.75"/><path d="M763.15,743.3H789.25M769.85,738.3L773.85,748.3M773.85,738.3L769.85,748.3M778.55,738.3L782.55,748.3M782.55,738.3L778.55,748.3" stroke="#444" stroke-width="0.7"/><path d="M765.56,738L765.19,736.2L766.11,734.1H768.89L769.81,736.2L769.44,738ZM765.65,739.15h3.7v1.1h-3.7ZM766.11,741.2h2.77v1.2h-2.77ZM765.56,748.6L765.19,750.4L766.11,752.5H768.89L769.81,750.4L769.44,748.6ZM765.65,746.35h3.7v1.1h-3.7ZM766.11,744.2h2.77v1.2h-2.77ZM766.7,738.3h1.6v10h-1.6ZM774.26,738L773.89,736.2L774.81,734.1H777.59L778.51,736.2L778.14,738ZM774.35,739.15h3.7v1.1h-3.7ZM774.81,741.2h2.77v1.2h-2.77ZM774.26,748.6L773.89,750.4L774.81,752.5H777.59L778.51,750.4L778.14,748.6ZM774.35,746.35h3.7v1.1h-3.7ZM774.81,744.2h2.77v1.2h-2.77ZM775.4,738.3h1.6v10h-1.6ZM782.96,738L782.59,736.2L783.51,734.1H786.29L787.21,736.2L786.84,738ZM783.05,739.15h3.7v1.1h-3.7ZM783.51,741.2h2.77v1.2h-2.77ZM782.96,748.6L782.59,750.4L783.51,752.5H786.29L787.21,750.4L786.84,748.6ZM783.05,746.35h3.7v1.1h-3.7ZM783.51,744.2h2.77v1.2h-2.77ZM784.1,738.3h1.6v10h-1.6ZM761.55,743.3L763.15,742.1L764.75,743.3L763.15,744.5ZM770.25,743.3L771.85,742.1L773.45,743.3L771.85,744.5ZM778.95,743.3L780.55,742.1L782.15,743.3L780.55,744.5ZM787.65,743.3L789.25,742.1L790.85,743.3L789.25,744.5Z" fill="#000" fill-opacity="1.0"/>
<g transform="rotate(90 669.8 778.6)">
<rect x="654.2" y="773.4" width="31.2" height="10.4" fill="#fff" stroke="#444" stroke-width="0.75"/><path d="M654.2,778.6H685.4M660,773.4L664,783.8M664,773.4L660,783.8M667.8,773.4L671.8,783.8M671.8,773.4L667.8,783.8M675.6,773.4L679.6,783.8M679.6,773.4L675.6,783.8" stroke="#444" stroke-width="0.7"/><path d="M656.16,773.1L655.79,771.4L656.71,769.4H659.49L660.41,771.4L660.04,773.1ZM656.25,774.31h3.7v1.1h-3.7ZM656.71,776.44h2.77v1.2h-2.77ZM656.16,784.1L655.79,785.8L656.71,787.8H659.49L660.41,785.8L660.04,784.1ZM656.25,781.79h3.7v1.1h-3.7ZM656.71,779.56h2.77v1.2h-2.77ZM657.3,773.4h1.6v10.4h-1.6ZM663.96,773.1L663.59,771.4L664.51,769.4H667.29L668.21,771.4L667.84,773.1ZM664.05,774.31h3.7v1.1h-3.7ZM664.51,776.44h2.77v1.2h-2.77ZM663.96,784.1L663.59,785.8L664.51,787.8H667.29L668.21,785.8L667.84,784.1ZM664.05,781.79h3.7v1.1h-3.7ZM664.51,779.56h2.77v1.2h-2.77ZM665.1,773.4h1.6v10.4h-1.6ZM671.76,773.1L671.39,771.4L672.31,769.4H675.09L676.01,771.4L675.64,773.1ZM671.85,774.31h3.7v1.1h-3.7ZM672.31,776.44h2.77v1.2h-2.77ZM671.76,784.1L671.39,785.8L672.31,787.8H675.09L676.01,785.8L675.64,784.1ZM671.85,781.79h3.7v1.1h-3.7ZM672.31,779.56h2.77v1.2h-2.77ZM672.9,773.4h1.6v10.4h-1.6ZM679.56,773.1L679.19,771.4L680.11,769.4H682.89L683.81,771.4L683.44,773.1ZM679.65,774.31h3.7v1.1h-3.7ZM680.11,776.44h2.77v1.2h-2.77ZM679.56,784.1L679.19,785.8L680.11,787.8H682.89L683.81,785.8L683.44,784.1ZM679.65,781.79h3.7v1.1h-3.7ZM680.11,779.56h2.77v1.2h-2.77ZM680.7,773.4h1.6v10.4h-1.6ZM652.6,778.6L654.2,777.4L655.8,778.6L654.2,779.8ZM660.4,778.6L662,777.4L663.6,778.6L662,779.8ZM668.2,778.6L669.8,777.4L671.4,778.6L669.8,779.8ZM676,778.6L677.6,777.4L679.2,778.6L677.6,779.8ZM683.8,778.6L685.4,777.4L687,778.6L685.4,779.8Z" fill="#000" fill-opacity="1.0"/>
</g>
<g transform="rotate(90 775.5 779.3)">
<rect x="759.9" y="774.1" width="31.2" height="10.4" fill="#fff" stroke="#444" stroke-width="0.75"/><path d="M759.9,779.3H791.1M765.7,774.1L769.7,784.5M769.7,774.1L765.7,784.5M773.5,774.1L777.5,784.5M777.5,774.1L773.5,784.5M781.3,774.1L785.3,784.5M785.3,774.1L781.3,784.5" stroke="#444" stroke-width="0.7"/><path d="M761.86,773.8L761.49,772.1L762.41,770.1H765.19L766.11,772.1L765.74,773.8ZM761.95,775.01h3.7v1.1h-3.7ZM762.41,777.14h2.77v1.2h-2.77ZM761.86,784.8L761.49,786.5L762.41,788.5H765.19L766.11,786.5L765.74,784.8ZM761.95,782.49h3.7v1.1h-3.7ZM762.41,780.26h2.77v1.2h-2.77ZM763,774.1h1.6v10.4h-1.6ZM769.66,773.8L769.29,772.1L770.21,770.1H772.99L773.91,772.1L773.54,773.8ZM769.75,775.01h3.7v1.1h-3.7ZM770.21,777.14h2.77v1.2h-2.77ZM769.66,784.8L769.29,786.5L770.21,788.5H772.99L773.91,786.5L773.54,784.8ZM769.75,782.49h3.7v1.1h-3.7ZM770.21,780.26h2.77v1.2h-2.77ZM770.8,774.1h1.6v10.4h-1.6ZM777.46,773.8L777.09,772.1L778.01,770.1H780.79L781.71,772.1L781.34,773.8ZM777.55,775.01h3.7v1.1h-3.7ZM778.01,777.14h2.77v1.2h-2.77ZM777.46,784.8L777.09,786.5L778.01,788.5H780.79L781.71,786.5L781.34,784.8ZM777.55,782.49h3.7v1.1h-3.7ZM778.01,780.26h2.77v1.2h-2.77ZM778.6,774.1h1.6v10.4h-1.6ZM785.26,773.8L784.89,772.1L785.81,770.1H788.59L789.51,772.1L789.14,773.8ZM785.35,775.01h3.7v1.1h-3.7ZM785.81,777.14h2.77v1.2h-2.77ZM785.26,784.8L784.89,786.5L785.81,788.5H788.59L789.51,786.5L789.14,784.8ZM785.35,782.49h3.7v1.1h-3.7ZM785.81,780.26h2.77v1.2h-2.77ZM786.4,774.1h1.6v10.4h-1.6ZM758.3,779.3L759.9,778.1L761.5,779.3L759.9,780.5ZM766.1,779.3L767.7,778.1L769.3,779.3L767.7,780.5ZM773.9,779.3L775.5,778.1L777.1,779.3L775.5,780.5ZM781.7,779.3L783.3,778.1L784.9,779.3L783.3,780.5ZM789.5,779.3L791.1,778.1L792.7,779.3L791.1,780.5Z" fill="#000" fill-opacity="1.0"/>
</g>
<g transform="rotate(90 706.2 785.6)">
<rect x="693" y="780.6" width="26.4" height="10" fill="#fff" stroke="#444" stroke-width="0.75"/><path d="M693,785.6H719.4M699.8,780.6L703.8,790.6M703.8,780.6L699.8,790.6M708.6,780.6L712.6,790.6M712.6,780.6L708.6,790.6" stroke="#444" stroke-width="0.7"/><path d="M695.46,780.3L695.09,778.6L696.01,776.6H698.79L699.71,778.6L699.34,780.3ZM695.55,781.45h3.7v1.1h-3.7ZM696.01,783.5h2.77v1.2h-2.77ZM695.46,790.9L695.09,792.6L696.01,794.6H698.79L699.71,792.6L699.34,790.9ZM695.55,788.65h3.7v1.1h-3.7ZM696.01,786.5h2.77v1.2h-2.77ZM696.6,780.6h1.6v10h-1.6ZM704.26,780.3L703.89,778.6L704.81,776.6H707.59L708.51,778.6L708.14,780.3ZM704.35,781.45h3.7v1.1h-3.7ZM704.81,783.5h2.77v1.2h-2.77ZM704.26,790.9L703.89,792.6L704.81,794.6H707.59L708.51,792.6L708.14,790.9ZM704.35,788.65h3.7v1.1h-3.7ZM704.81,786.5h2.77v1.2h-2.77ZM705.4,780.6h1.6v10h-1.6ZM713.06,780.3L712.69,778.6L713.61,776.6H716.39L717.31,778.6L716.94,780.3ZM713.15,781.45h3.7v1.1h-3.7ZM713.61,783.5h2.77v1.2h-2.77ZM713.06,790.9L712.69,792.6L713.61,794.6H716.39L717.31,792.6L716.94,790.9ZM713.15,788.65h3.7v1.1h-3.7ZM713.61,786.5h2.77v1.2h-2.77ZM714.2,780.6h1.6v10h-1.6ZM691.4,785.6L693,784.4L694.6,785.6L693,786.8ZM700.2,785.6L701.8,784.4L703.4,785.6L701.8,786.8ZM709,785.6L710.6,784.4L712.2,785.6L710.6,786.8ZM717.8,785.6L719.4,784.4L721,785.6L719.4,786.8Z" fill="#000" fill-opacity="1.0"/>
</g>
<g transform="rotate(90 739 781.4)">
<rect x="730.5" y="776.4" width="17" height="10" fill="#fff" stroke="#444" stroke-width="0.75"/><path d="M730.5,781.4H747.5M737,776.4L741,786.4M741,776.4L737,786.4" stroke="#444" stroke-width="0.7"/><path d="M732.81,776.1L732.44,774.4L733.36,772.4H736.14L737.06,774.4L736.69,776.1ZM732.9,777.25h3.7v1.1h-3.7ZM733.36,779.3h2.77v1.2h-2.77ZM732.81,786.7L732.44,788.4L733.36,790.4H736.14L737.06,788.4L736.69,786.7ZM732.9,784.45h3.7v1.1h-3.7ZM733.36,782.3h2.77v1.2h-2.77ZM733.95,776.4h1.6v10h-1.6ZM741.31,776.1L740.94,774.4L741.86,772.4H744.64L745.56,774.4L745.19,776.1ZM741.4,777.25h3.7v1.1h-3.7ZM741.86,779.3h2.77v1.2h-2.77ZM741.31,786.7L740.94,788.4L741.86,790.4H744.64L745.56,788.4L745.19,786.7ZM741.4,784.45h3.7v1.1h-3.7ZM741.86,782.3h2.77v1.2h-2.77ZM742.45,776.4h1.6v10h-1.6ZM728.9,781.4L730.5,780.2L732.1,781.4L730.5,782.6ZM737.4,781.4L739,780.2L740.6,781.4L739,782.6ZM745.9,781.4L747.5,780.2L749.1,781.4L747.5,782.6Z" fill="#000" fill-opacity="1.0"/>
</g>
<rect x="686" y="800" width="108" height="35" fill="url(#hv)" stroke="#444" stroke-width="0.9" />
<rect x="688.5" y="802.5" width="103" height="30" fill="none" stroke="#bbb" stroke-width="0.5" />
<text x="725" y="814.8" font-size="4.6" fill="#111" text-anchor="start" font-style="italic">Terrasse R+2</text>
<text x="725" y="820" font-size="4.6" fill="#111" text-anchor="start" font-style="italic">83.5m²</text>
<text x="725" y="825.2" font-size="4.6" fill="#111" text-anchor="start" >PENTE 3%</text>
<polygon points="712.23,818.17 707.47,822.93 700.73,822.93 695.97,818.17 695.97,811.43 700.73,806.67 707.47,806.67 712.23,811.43" fill="#fbfbf0" stroke="#333" stroke-width="0.7"/><path d="M704.1,814.8L712.23,818.17M704.1,814.8L707.47,822.93M704.1,814.8L700.73,822.93M704.1,814.8L695.97,818.17M704.1,814.8L695.97,811.43M704.1,814.8L700.73,806.67M704.1,814.8L707.47,806.67M704.1,814.8L712.23,811.43" stroke="#444" stroke-width="0.45"/><path d="M704.1,814.8L697.94,806" stroke="#333" stroke-width="1"/><circle cx="704.1" cy="814.8" r="1.1" fill="#111"/><rect x="695.94" y="804" width="4" height="4" fill="#d9c4c4" stroke="#755" stroke-width="0.5" transform="rotate(35 697.94 806)"/><path d="M712.46,809.3h4v13.5h-4zM716.46,814.4h3.8v3.6h-3.8z" fill="#1a1a1a"/>
<polygon points="767.93,816.07 763.17,820.83 756.43,820.83 751.67,816.07 751.67,809.33 756.43,804.57 763.17,804.57 767.93,809.33" fill="#fbfbf0" stroke="#333" stroke-width="0.7"/><path d="M759.8,812.7L767.93,816.07M759.8,812.7L763.17,820.83M759.8,812.7L756.43,820.83M759.8,812.7L751.67,816.07M759.8,812.7L751.67,809.33M759.8,812.7L756.43,804.57M759.8,812.7L763.17,804.57M759.8,812.7L767.93,809.33" stroke="#444" stroke-width="0.45"/><path d="M759.8,812.7L753.64,803.9" stroke="#333" stroke-width="1"/><circle cx="759.8" cy="812.7" r="1.1" fill="#111"/><rect x="751.64" y="801.9" width="4" height="4" fill="#d9c4c4" stroke="#755" stroke-width="0.5" transform="rotate(35 753.64 803.9)"/><path d="M768.16,807.2h4v13.5h-4zM772.16,812.3h3.8v3.6h-3.8z" fill="#1a1a1a"/>
<text transform="translate(737,552) scale(0.94,1)" font-size="26.3" text-anchor="middle" fill="#000" stroke="#fff" stroke-width="1.5" paint-order="stroke">C</text>
<rect x="801.75" y="611.95" width="6.5" height="6.5" fill="#f1edd8" stroke="#555" stroke-width="0.5"/>
<path d="M799.85,610.05h2.2v2.2h-2.2ZM807.95,610.05h2.2v2.2h-2.2ZM799.85,618.15h2.2v2.2h-2.2ZM807.95,618.15h2.2v2.2h-2.2Z" fill="#b22"/>
<g transform="rotate(90 811.4 643.3)">
<rect x="797.45" y="638.7" width="27.9" height="9.2" fill="#fff" stroke="#444" stroke-width="0.75"/><path d="M797.45,643.3H825.35M804.75,638.7L808.75,647.9M808.75,638.7L804.75,647.9M814.05,638.7L818.05,647.9M818.05,638.7L814.05,647.9" stroke="#444" stroke-width="0.7"/><path d="M799.79,638.4L799.35,636.8L800.45,634.9H803.75L804.85,636.8L804.41,638.4ZM799.9,639.44h4.4v1.1h-4.4ZM800.45,641.32h3.3v1.2h-3.3ZM799.79,648.2L799.35,649.8L800.45,651.7H803.75L804.85,649.8L804.41,648.2ZM799.9,646.06h4.4v1.1h-4.4ZM800.45,644.08h3.3v1.2h-3.3ZM801.3,638.7h1.6v9.2h-1.6ZM809.09,638.4L808.65,636.8L809.75,634.9H813.05L814.15,636.8L813.71,638.4ZM809.2,639.44h4.4v1.1h-4.4ZM809.75,641.32h3.3v1.2h-3.3ZM809.09,648.2L808.65,649.8L809.75,651.7H813.05L814.15,649.8L813.71,648.2ZM809.2,646.06h4.4v1.1h-4.4ZM809.75,644.08h3.3v1.2h-3.3ZM810.6,638.7h1.6v9.2h-1.6ZM818.39,638.4L817.95,636.8L819.05,634.9H822.35L823.45,636.8L823.01,638.4ZM818.5,639.44h4.4v1.1h-4.4ZM819.05,641.32h3.3v1.2h-3.3ZM818.39,648.2L817.95,649.8L819.05,651.7H822.35L823.45,649.8L823.01,648.2ZM818.5,646.06h4.4v1.1h-4.4ZM819.05,644.08h3.3v1.2h-3.3ZM819.9,638.7h1.6v9.2h-1.6ZM795.85,643.3L797.45,642.1L799.05,643.3L797.45,644.5ZM805.15,643.3L806.75,642.1L808.35,643.3L806.75,644.5ZM814.45,643.3L816.05,642.1L817.65,643.3L816.05,644.5ZM823.75,643.3L825.35,642.1L826.95,643.3L825.35,644.5Z" fill="#000" fill-opacity="1.0"/>
</g>
<g transform="rotate(90 839.2 643.3)">
<rect x="825.25" y="638.7" width="27.9" height="9.2" fill="#fff" stroke="#444" stroke-width="0.75"/><path d="M825.25,643.3H853.15M832.55,638.7L836.55,647.9M836.55,638.7L832.55,647.9M841.85,638.7L845.85,647.9M845.85,638.7L841.85,647.9" stroke="#444" stroke-width="0.7"/><path d="M827.59,638.4L827.15,636.8L828.25,634.9H831.55L832.65,636.8L832.21,638.4ZM827.7,639.44h4.4v1.1h-4.4ZM828.25,641.32h3.3v1.2h-3.3ZM827.59,648.2L827.15,649.8L828.25,651.7H831.55L832.65,649.8L832.21,648.2ZM827.7,646.06h4.4v1.1h-4.4ZM828.25,644.08h3.3v1.2h-3.3ZM829.1,638.7h1.6v9.2h-1.6ZM836.89,638.4L836.45,636.8L837.55,634.9H840.85L841.95,636.8L841.51,638.4ZM837,639.44h4.4v1.1h-4.4ZM837.55,641.32h3.3v1.2h-3.3ZM836.89,648.2L836.45,649.8L837.55,651.7H840.85L841.95,649.8L841.51,648.2ZM837,646.06h4.4v1.1h-4.4ZM837.55,644.08h3.3v1.2h-3.3ZM838.4,638.7h1.6v9.2h-1.6ZM846.19,638.4L845.75,636.8L846.85,634.9H850.15L851.25,636.8L850.81,638.4ZM846.3,639.44h4.4v1.1h-4.4ZM846.85,641.32h3.3v1.2h-3.3ZM846.19,648.2L845.75,649.8L846.85,651.7H850.15L851.25,649.8L850.81,648.2ZM846.3,646.06h4.4v1.1h-4.4ZM846.85,644.08h3.3v1.2h-3.3ZM847.7,638.7h1.6v9.2h-1.6ZM823.65,643.3L825.25,642.1L826.85,643.3L825.25,644.5ZM832.95,643.3L834.55,642.1L836.15,643.3L834.55,644.5ZM842.25,643.3L843.85,642.1L845.45,643.3L843.85,644.5ZM851.55,643.3L853.15,642.1L854.75,643.3L853.15,644.5Z" fill="#000" fill-opacity="1.0"/>
</g>
<g transform="rotate(90 868.7 645.6)">
<rect x="858.2" y="641" width="21" height="9.2" fill="#fff" stroke="#444" stroke-width="0.75"/><path d="M858.2,645.6H879.2M866.7,641L870.7,650.2M870.7,641L866.7,650.2" stroke="#444" stroke-width="0.7"/><path d="M861.14,640.7L860.7,639.1L861.8,637.2H865.1L866.2,639.1L865.76,640.7ZM861.25,641.74h4.4v1.1h-4.4ZM861.8,643.62h3.3v1.2h-3.3ZM861.14,650.5L860.7,652.1L861.8,654H865.1L866.2,652.1L865.76,650.5ZM861.25,648.36h4.4v1.1h-4.4ZM861.8,646.38h3.3v1.2h-3.3ZM862.65,641h1.6v9.2h-1.6ZM871.64,640.7L871.2,639.1L872.3,637.2H875.6L876.7,639.1L876.26,640.7ZM871.75,641.74h4.4v1.1h-4.4ZM872.3,643.62h3.3v1.2h-3.3ZM871.64,650.5L871.2,652.1L872.3,654H875.6L876.7,652.1L876.26,650.5ZM871.75,648.36h4.4v1.1h-4.4ZM872.3,646.38h3.3v1.2h-3.3ZM873.15,641h1.6v9.2h-1.6ZM856.6,645.6L858.2,644.4L859.8,645.6L858.2,646.8ZM867.1,645.6L868.7,644.4L870.3,645.6L868.7,646.8ZM877.6,645.6L879.2,644.4L880.8,645.6L879.2,646.8Z" fill="#000" fill-opacity="1.0"/>
</g>
<rect x="859.2" y="606.4" width="34.2" height="20.2" fill="none" stroke="#3a3a3a" stroke-width="0.95" />
<path d="M877.3,606.4V626.6" stroke="#3a3a3a" stroke-width="1" fill="none" />
<rect x="864.75" y="613.25" width="6.5" height="6.5" fill="#f1edd8" stroke="#555" stroke-width="0.5"/>
<path d="M862.85,611.35h2.2v2.2h-2.2ZM870.95,611.35h2.2v2.2h-2.2ZM862.85,619.45h2.2v2.2h-2.2ZM870.95,619.45h2.2v2.2h-2.2Z" fill="#b22"/>
<path d="M883.5,612.5a4,4 0 0 1 0,8z" fill="#f3f0e0" stroke="#555" stroke-width="0.5"/>
<path d="M881.3,609.8h2.4v2.4h-2.4ZM881.3,620.8h2.4v2.4h-2.4ZM886.3,615.3h2.4v2.4h-2.4Z" fill="#b22"/>
<text x="866.6" y="605.1" font-size="8.5" fill="#000" text-anchor="middle" stroke="#fff" stroke-width="1.5" paint-order="stroke">B25</text>
<text x="885.4" y="605.1" font-size="8.5" fill="#000" text-anchor="middle" stroke="#fff" stroke-width="1.5" paint-order="stroke">B24</text>
<rect x="887" y="636" width="3" height="22" fill="#fff" stroke="#666" stroke-width="0.5" />
<path d="M793,663.4H890.7V835H1034.5V591.6" stroke="#3a3a3a" stroke-width="1.0" fill="none" />
<path d="M1034.5,591.6V835" stroke="#111" stroke-width="1.8" fill="none" />
<text transform="translate(911.8,618) scale(0.94,1)" font-size="26.3" text-anchor="middle" fill="#000" stroke="#fff" stroke-width="1.5" paint-order="stroke">B</text>
<path d="M926.5,610L999.4,661.5M999.4,610L926.5,661.5" stroke="#666" stroke-width="0.5"/>
<rect x="926.5" y="610" width="72.9" height="51.5" fill="none" stroke="#333" stroke-width="0.9" stroke-dasharray="2,1"/>
<rect x="951.5" y="612" width="36.5" height="13" fill="none" stroke="#d33" stroke-width="1" />
<rect x="938" y="612" width="13.5" height="12.3" fill="#fff" stroke="#111" stroke-width="1.8" />
<rect x="940.5" y="614.5" width="8.5" height="7.3" fill="#fff" stroke="#3a3a3a" stroke-width="0.8" />
<rect x="942" y="616" width="5.5" height="4.3" fill="#666" stroke="none" stroke-width="1" />
<path d="M950.95,631H974.95M950.95,637H974.95M950.95,643H974.95M950.95,649H974.95M950.95,655H974.95M962.95,625V661.5M932.5,633V658.5M993.4,633V658.5" stroke="#444" stroke-width="0.7" fill="none" />
<path d="M950.95,642h24M950.95,643.5h24" stroke="#222" stroke-width="0.9"/>
<path d="M929.5,612V659.5" stroke="#999" stroke-width="1.4" stroke-dasharray="1,1.5"/>
<circle cx="978" cy="664.5" r="4.2" fill="#fff" stroke="#333" stroke-width="0.6"/>
<rect x="975.5" y="663" width="5" height="3" fill="#333" stroke="none" stroke-width="1" />
<rect x="903.6" y="627.2" width="22.9" height="33.6" fill="#fff" stroke="#222" stroke-width="1"/><path d="M903.6,638.96H926.5M903.6,641.16H926.5M903.6,643.36H926.5M903.6,645.56H926.5M903.6,647.76H926.5M903.6,649.96H926.5M903.6,652.16H926.5M903.6,654.36H926.5M903.6,656.56H926.5M903.6,658.76H926.5" stroke="#777" stroke-width="0.5"/><rect x="913.05" y="638.96" width="4" height="20.83" fill="#fff" stroke="#222" stroke-width="0.8"/><path d="M905.1,640.64 A9.95,10.08 0 0 1 925,640.64" stroke="#bbb" stroke-width="0.5" fill="none"/>
<path d="M936.5,670L988.7,764M988.7,670L936.5,764" stroke="#d8d8d8" stroke-width="0.6"/><rect x="936.5" y="670" width="52.2" height="94" fill="none" stroke="#aaa" stroke-width="0.8" stroke-dasharray="2,1"/>
<rect x="965.6" y="733" width="21.9" height="31" fill="#fff" stroke="#222" stroke-width="1"/><path d="M965.6,743.85H987.5M965.6,746.05H987.5M965.6,748.25H987.5M965.6,750.45H987.5M965.6,752.65H987.5M965.6,754.85H987.5M965.6,757.05H987.5M965.6,759.25H987.5M965.6,761.45H987.5M965.6,763.65H987.5" stroke="#777" stroke-width="0.5"/><rect x="974.55" y="743.85" width="4" height="19.22" fill="#fff" stroke="#222" stroke-width="0.8"/><path d="M967.1,745.4 A9.45,9.3 0 0 1 986,745.4" stroke="#bbb" stroke-width="0.5" fill="none"/>
<path d="M890.7,670H1034.5 M925,670V835 M1000,591V835" stroke="#ddd" stroke-width="0.5" fill="none" />
<rect x="1002.8" y="607.2" width="26.4" height="10" fill="#fff" stroke="#444" stroke-width="0.75"/><path d="M1002.8,612.2H1029.2M1009.6,607.2L1013.6,617.2M1013.6,607.2L1009.6,617.2M1018.4,607.2L1022.4,617.2M1022.4,607.2L1018.4,617.2" stroke="#444" stroke-width="0.7"/><path d="M1005.26,606.9L1004.89,605.4L1005.81,603.6H1008.59L1009.51,605.4L1009.14,606.9ZM1005.35,608.05h3.7v1.1h-3.7ZM1005.81,610.1h2.77v1.2h-2.77ZM1005.26,617.5L1004.89,619L1005.81,620.8H1008.59L1009.51,619L1009.14,617.5ZM1005.35,615.25h3.7v1.1h-3.7ZM1005.81,613.1h2.77v1.2h-2.77ZM1006.4,607.2h1.6v10h-1.6ZM1014.06,606.9L1013.69,605.4L1014.61,603.6H1017.39L1018.31,605.4L1017.94,606.9ZM1014.15,608.05h3.7v1.1h-3.7ZM1014.61,610.1h2.77v1.2h-2.77ZM1014.06,617.5L1013.69,619L1014.61,620.8H1017.39L1018.31,619L1017.94,617.5ZM1014.15,615.25h3.7v1.1h-3.7ZM1014.61,613.1h2.77v1.2h-2.77ZM1015.2,607.2h1.6v10h-1.6ZM1022.86,606.9L1022.49,605.4L1023.41,603.6H1026.19L1027.11,605.4L1026.74,606.9ZM1022.95,608.05h3.7v1.1h-3.7ZM1023.41,610.1h2.77v1.2h-2.77ZM1022.86,617.5L1022.49,619L1023.41,620.8H1026.19L1027.11,619L1026.74,617.5ZM1022.95,615.25h3.7v1.1h-3.7ZM1023.41,613.1h2.77v1.2h-2.77ZM1024,607.2h1.6v10h-1.6ZM1001.2,612.2L1002.8,611L1004.4,612.2L1002.8,613.4ZM1010,612.2L1011.6,611L1013.2,612.2L1011.6,613.4ZM1018.8,612.2L1020.4,611L1022,612.2L1020.4,613.4ZM1027.6,612.2L1029.2,611L1030.8,612.2L1029.2,613.4Z" fill="#000" fill-opacity="1.0"/>
<rect x="1002.8" y="635.8" width="26.4" height="10" fill="#fff" stroke="#444" stroke-width="0.75"/><path d="M1002.8,640.8H1029.2M1009.6,635.8L1013.6,645.8M1013.6,635.8L1009.6,645.8M1018.4,635.8L1022.4,645.8M1022.4,635.8L1018.4,645.8" stroke="#444" stroke-width="0.7"/><path d="M1005.26,635.5L1004.89,634L1005.81,632.2H1008.59L1009.51,634L1009.14,635.5ZM1005.35,636.65h3.7v1.1h-3.7ZM1005.81,638.7h2.77v1.2h-2.77ZM1005.26,646.1L1004.89,647.6L1005.81,649.4H1008.59L1009.51,647.6L1009.14,646.1ZM1005.35,643.85h3.7v1.1h-3.7ZM1005.81,641.7h2.77v1.2h-2.77ZM1006.4,635.8h1.6v10h-1.6ZM1014.06,635.5L1013.69,634L1014.61,632.2H1017.39L1018.31,634L1017.94,635.5ZM1014.15,636.65h3.7v1.1h-3.7ZM1014.61,638.7h2.77v1.2h-2.77ZM1014.06,646.1L1013.69,647.6L1014.61,649.4H1017.39L1018.31,647.6L1017.94,646.1ZM1014.15,643.85h3.7v1.1h-3.7ZM1014.61,641.7h2.77v1.2h-2.77ZM1015.2,635.8h1.6v10h-1.6ZM1022.86,635.5L1022.49,634L1023.41,632.2H1026.19L1027.11,634L1026.74,635.5ZM1022.95,636.65h3.7v1.1h-3.7ZM1023.41,638.7h2.77v1.2h-2.77ZM1022.86,646.1L1022.49,647.6L1023.41,649.4H1026.19L1027.11,647.6L1026.74,646.1ZM1022.95,643.85h3.7v1.1h-3.7ZM1023.41,641.7h2.77v1.2h-2.77ZM1024,635.8h1.6v10h-1.6ZM1001.2,640.8L1002.8,639.6L1004.4,640.8L1002.8,642ZM1010,640.8L1011.6,639.6L1013.2,640.8L1011.6,642ZM1018.8,640.8L1020.4,639.6L1022,640.8L1020.4,642ZM1027.6,640.8L1029.2,639.6L1030.8,640.8L1029.2,642Z" fill="#000" fill-opacity="1.0"/>
<rect x="1002.8" y="667.3" width="26.4" height="10" fill="#fff" stroke="#444" stroke-width="0.75"/><path d="M1002.8,672.3H1029.2M1009.6,667.3L1013.6,677.3M1013.6,667.3L1009.6,677.3M1018.4,667.3L1022.4,677.3M1022.4,667.3L1018.4,677.3" stroke="#444" stroke-width="0.7"/><path d="M1005.26,667L1004.89,665.5L1005.81,663.7H1008.59L1009.51,665.5L1009.14,667ZM1005.35,668.15h3.7v1.1h-3.7ZM1005.81,670.2h2.77v1.2h-2.77ZM1005.26,677.6L1004.89,679.1L1005.81,680.9H1008.59L1009.51,679.1L1009.14,677.6ZM1005.35,675.35h3.7v1.1h-3.7ZM1005.81,673.2h2.77v1.2h-2.77ZM1006.4,667.3h1.6v10h-1.6ZM1014.06,667L1013.69,665.5L1014.61,663.7H1017.39L1018.31,665.5L1017.94,667ZM1014.15,668.15h3.7v1.1h-3.7ZM1014.61,670.2h2.77v1.2h-2.77ZM1014.06,677.6L1013.69,679.1L1014.61,680.9H1017.39L1018.31,679.1L1017.94,677.6ZM1014.15,675.35h3.7v1.1h-3.7ZM1014.61,673.2h2.77v1.2h-2.77ZM1015.2,667.3h1.6v10h-1.6ZM1022.86,667L1022.49,665.5L1023.41,663.7H1026.19L1027.11,665.5L1026.74,667ZM1022.95,668.15h3.7v1.1h-3.7ZM1023.41,670.2h2.77v1.2h-2.77ZM1022.86,677.6L1022.49,679.1L1023.41,680.9H1026.19L1027.11,679.1L1026.74,677.6ZM1022.95,675.35h3.7v1.1h-3.7ZM1023.41,673.2h2.77v1.2h-2.77ZM1024,667.3h1.6v10h-1.6ZM1001.2,672.3L1002.8,671.1L1004.4,672.3L1002.8,673.5ZM1010,672.3L1011.6,671.1L1013.2,672.3L1011.6,673.5ZM1018.8,672.3L1020.4,671.1L1022,672.3L1020.4,673.5ZM1027.6,672.3L1029.2,671.1L1030.8,672.3L1029.2,673.5Z" fill="#000" fill-opacity="1.0"/>
<rect x="1002.8" y="694.4" width="26.4" height="10" fill="#fff" stroke="#444" stroke-width="0.75"/><path d="M1002.8,699.4H1029.2M1009.6,694.4L1013.6,704.4M1013.6,694.4L1009.6,704.4M1018.4,694.4L1022.4,704.4M1022.4,694.4L1018.4,704.4" stroke="#444" stroke-width="0.7"/><path d="M1005.26,694.1L1004.89,692.6L1005.81,690.8H1008.59L1009.51,692.6L1009.14,694.1ZM1005.35,695.25h3.7v1.1h-3.7ZM1005.81,697.3h2.77v1.2h-2.77ZM1005.26,704.7L1004.89,706.2L1005.81,708H1008.59L1009.51,706.2L1009.14,704.7ZM1005.35,702.45h3.7v1.1h-3.7ZM1005.81,700.3h2.77v1.2h-2.77ZM1006.4,694.4h1.6v10h-1.6ZM1014.06,694.1L1013.69,692.6L1014.61,690.8H1017.39L1018.31,692.6L1017.94,694.1ZM1014.15,695.25h3.7v1.1h-3.7ZM1014.61,697.3h2.77v1.2h-2.77ZM1014.06,704.7L1013.69,706.2L1014.61,708H1017.39L1018.31,706.2L1017.94,704.7ZM1014.15,702.45h3.7v1.1h-3.7ZM1014.61,700.3h2.77v1.2h-2.77ZM1015.2,694.4h1.6v10h-1.6ZM1022.86,694.1L1022.49,692.6L1023.41,690.8H1026.19L1027.11,692.6L1026.74,694.1ZM1022.95,695.25h3.7v1.1h-3.7ZM1023.41,697.3h2.77v1.2h-2.77ZM1022.86,704.7L1022.49,706.2L1023.41,708H1026.19L1027.11,706.2L1026.74,704.7ZM1022.95,702.45h3.7v1.1h-3.7ZM1023.41,700.3h2.77v1.2h-2.77ZM1024,694.4h1.6v10h-1.6ZM1001.2,699.4L1002.8,698.2L1004.4,699.4L1002.8,700.6ZM1010,699.4L1011.6,698.2L1013.2,699.4L1011.6,700.6ZM1018.8,699.4L1020.4,698.2L1022,699.4L1020.4,700.6ZM1027.6,699.4L1029.2,698.2L1030.8,699.4L1029.2,700.6Z" fill="#000" fill-opacity="1.0"/>
<rect x="1002.8" y="742" width="26.4" height="10" fill="#fff" stroke="#444" stroke-width="0.75"/><path d="M1002.8,747H1029.2M1009.6,742L1013.6,752M1013.6,742L1009.6,752M1018.4,742L1022.4,752M1022.4,742L1018.4,752" stroke="#444" stroke-width="0.7"/><path d="M1005.26,741.7L1004.89,740.2L1005.81,738.4H1008.59L1009.51,740.2L1009.14,741.7ZM1005.35,742.85h3.7v1.1h-3.7ZM1005.81,744.9h2.77v1.2h-2.77ZM1005.26,752.3L1004.89,753.8L1005.81,755.6H1008.59L1009.51,753.8L1009.14,752.3ZM1005.35,750.05h3.7v1.1h-3.7ZM1005.81,747.9h2.77v1.2h-2.77ZM1006.4,742h1.6v10h-1.6ZM1014.06,741.7L1013.69,740.2L1014.61,738.4H1017.39L1018.31,740.2L1017.94,741.7ZM1014.15,742.85h3.7v1.1h-3.7ZM1014.61,744.9h2.77v1.2h-2.77ZM1014.06,752.3L1013.69,753.8L1014.61,755.6H1017.39L1018.31,753.8L1017.94,752.3ZM1014.15,750.05h3.7v1.1h-3.7ZM1014.61,747.9h2.77v1.2h-2.77ZM1015.2,742h1.6v10h-1.6ZM1022.86,741.7L1022.49,740.2L1023.41,738.4H1026.19L1027.11,740.2L1026.74,741.7ZM1022.95,742.85h3.7v1.1h-3.7ZM1023.41,744.9h2.77v1.2h-2.77ZM1022.86,752.3L1022.49,753.8L1023.41,755.6H1026.19L1027.11,753.8L1026.74,752.3ZM1022.95,750.05h3.7v1.1h-3.7ZM1023.41,747.9h2.77v1.2h-2.77ZM1024,742h1.6v10h-1.6ZM1001.2,747L1002.8,745.8L1004.4,747L1002.8,748.2ZM1010,747L1011.6,745.8L1013.2,747L1011.6,748.2ZM1018.8,747L1020.4,745.8L1022,747L1020.4,748.2ZM1027.6,747L1029.2,745.8L1030.8,747L1029.2,748.2Z" fill="#000" fill-opacity="1.0"/>
<rect x="1010.9" y="772.6" width="18" height="9.2" fill="#fff" stroke="#444" stroke-width="0.75"/><path d="M1010.9,777.2H1028.9M1017.9,772.6L1021.9,781.8M1021.9,772.6L1017.9,781.8" stroke="#444" stroke-width="0.7"/><path d="M1013.37,772.3L1012.98,770.7L1013.95,768.8H1016.85L1017.82,770.7L1017.43,772.3ZM1013.46,773.34h3.87v1.1h-3.87ZM1013.95,775.22h2.9v1.2h-2.9ZM1013.37,782.1L1012.98,783.7L1013.95,785.6H1016.85L1017.82,783.7L1017.43,782.1ZM1013.46,779.96h3.87v1.1h-3.87ZM1013.95,777.98h2.9v1.2h-2.9ZM1014.6,772.6h1.6v9.2h-1.6ZM1022.37,772.3L1021.98,770.7L1022.95,768.8H1025.85L1026.82,770.7L1026.43,772.3ZM1022.46,773.34h3.87v1.1h-3.87ZM1022.95,775.22h2.9v1.2h-2.9ZM1022.37,782.1L1021.98,783.7L1022.95,785.6H1025.85L1026.82,783.7L1026.43,782.1ZM1022.46,779.96h3.87v1.1h-3.87ZM1022.95,777.98h2.9v1.2h-2.9ZM1023.6,772.6h1.6v9.2h-1.6ZM1009.3,777.2L1010.9,776L1012.5,777.2L1010.9,778.4ZM1018.3,777.2L1019.9,776L1021.5,777.2L1019.9,778.4ZM1027.3,777.2L1028.9,776L1030.5,777.2L1028.9,778.4Z" fill="#000" fill-opacity="1.0"/>
<g transform="rotate(90 1018 809.8)">
<rect x="1004.8" y="804.8" width="26.4" height="10" fill="#fff" stroke="#444" stroke-width="0.75"/><path d="M1004.8,809.8H1031.2M1011.6,804.8L1015.6,814.8M1015.6,804.8L1011.6,814.8M1020.4,804.8L1024.4,814.8M1024.4,804.8L1020.4,814.8" stroke="#444" stroke-width="0.7"/><path d="M1006.89,804.5L1006.45,803L1007.55,801.2H1010.85L1011.95,803L1011.51,804.5ZM1007,805.65h4.4v1.1h-4.4ZM1007.55,807.7h3.3v1.2h-3.3ZM1006.89,815.1L1006.45,816.6L1007.55,818.4H1010.85L1011.95,816.6L1011.51,815.1ZM1007,812.85h4.4v1.1h-4.4ZM1007.55,810.7h3.3v1.2h-3.3ZM1008.4,804.8h1.6v10h-1.6ZM1015.69,804.5L1015.25,803L1016.35,801.2H1019.65L1020.75,803L1020.31,804.5ZM1015.8,805.65h4.4v1.1h-4.4ZM1016.35,807.7h3.3v1.2h-3.3ZM1015.69,815.1L1015.25,816.6L1016.35,818.4H1019.65L1020.75,816.6L1020.31,815.1ZM1015.8,812.85h4.4v1.1h-4.4ZM1016.35,810.7h3.3v1.2h-3.3ZM1017.2,804.8h1.6v10h-1.6ZM1024.49,804.5L1024.05,803L1025.15,801.2H1028.45L1029.55,803L1029.11,804.5ZM1024.6,805.65h4.4v1.1h-4.4ZM1025.15,807.7h3.3v1.2h-3.3ZM1024.49,815.1L1024.05,816.6L1025.15,818.4H1028.45L1029.55,816.6L1029.11,815.1ZM1024.6,812.85h4.4v1.1h-4.4ZM1025.15,810.7h3.3v1.2h-3.3ZM1026,804.8h1.6v10h-1.6ZM1003.2,809.8L1004.8,808.6L1006.4,809.8L1004.8,811ZM1012,809.8L1013.6,808.6L1015.2,809.8L1013.6,811ZM1020.8,809.8L1022.4,808.6L1024,809.8L1022.4,811ZM1029.6,809.8L1031.2,808.6L1032.8,809.8L1031.2,811Z" fill="#000" fill-opacity="1.0"/>
</g>
<rect x="998" y="716" width="36.5" height="18" fill="none" stroke="#3a3a3a" stroke-width="0.9" />
<rect x="1011" y="721.5" width="12" height="7" fill="#fff" stroke="#444" stroke-width="0.75"/><path d="M1011,725H1023M1015,721.5L1019,728.5M1019,721.5L1015,728.5" stroke="#444" stroke-width="0.7"/><path d="M1012.38,721.2L1012.08,720L1012.85,718.5H1015.15L1015.92,720L1015.62,721.2ZM1012.46,721.93h3.08v1.1h-3.08ZM1012.85,723.35h2.31v1.2h-2.31ZM1012.38,728.8L1012.08,730L1012.85,731.5H1015.15L1015.92,730L1015.62,728.8ZM1012.46,726.97h3.08v1.1h-3.08ZM1012.85,725.45h2.31v1.2h-2.31ZM1013.2,721.5h1.6v7h-1.6ZM1018.38,721.2L1018.08,720L1018.85,718.5H1021.15L1021.92,720L1021.62,721.2ZM1018.46,721.93h3.08v1.1h-3.08ZM1018.85,723.35h2.31v1.2h-2.31ZM1018.38,728.8L1018.08,730L1018.85,731.5H1021.15L1021.92,730L1021.62,728.8ZM1018.46,726.97h3.08v1.1h-3.08ZM1018.85,725.45h2.31v1.2h-2.31ZM1019.2,721.5h1.6v7h-1.6ZM1009.4,725L1011,723.8L1012.6,725L1011,726.2ZM1015.4,725L1017,723.8L1018.6,725L1017,726.2ZM1021.4,725L1023,723.8L1024.6,725L1023,726.2Z" fill="#000" fill-opacity="1.0"/>
<rect x="1005" y="721" width="4" height="4" fill="#bcc43a" stroke="none" stroke-width="1" />
<rect x="894.3" y="678" width="26.4" height="10" fill="#fff" stroke="#444" stroke-width="0.75"/><path d="M894.3,683H920.7M901.1,678L905.1,688M905.1,678L901.1,688M909.9,678L913.9,688M913.9,678L909.9,688" stroke="#444" stroke-width="0.7"/><path d="M896.76,677.7L896.39,676.2L897.31,674.4H900.09L901.01,676.2L900.64,677.7ZM896.85,678.85h3.7v1.1h-3.7ZM897.31,680.9h2.77v1.2h-2.77ZM896.76,688.3L896.39,689.8L897.31,691.6H900.09L901.01,689.8L900.64,688.3ZM896.85,686.05h3.7v1.1h-3.7ZM897.31,683.9h2.77v1.2h-2.77ZM897.9,678h1.6v10h-1.6ZM905.56,677.7L905.19,676.2L906.11,674.4H908.89L909.81,676.2L909.44,677.7ZM905.65,678.85h3.7v1.1h-3.7ZM906.11,680.9h2.77v1.2h-2.77ZM905.56,688.3L905.19,689.8L906.11,691.6H908.89L909.81,689.8L909.44,688.3ZM905.65,686.05h3.7v1.1h-3.7ZM906.11,683.9h2.77v1.2h-2.77ZM906.7,678h1.6v10h-1.6ZM914.36,677.7L913.99,676.2L914.91,674.4H917.69L918.61,676.2L918.24,677.7ZM914.45,678.85h3.7v1.1h-3.7ZM914.91,680.9h2.77v1.2h-2.77ZM914.36,688.3L913.99,689.8L914.91,691.6H917.69L918.61,689.8L918.24,688.3ZM914.45,686.05h3.7v1.1h-3.7ZM914.91,683.9h2.77v1.2h-2.77ZM915.5,678h1.6v10h-1.6ZM892.7,683L894.3,681.8L895.9,683L894.3,684.2ZM901.5,683L903.1,681.8L904.7,683L903.1,684.2ZM910.3,683L911.9,681.8L913.5,683L911.9,684.2ZM919.1,683L920.7,681.8L922.3,683L920.7,684.2Z" fill="#000" fill-opacity="1.0"/>
<rect x="894.3" y="706.6" width="26.4" height="10" fill="#fff" stroke="#444" stroke-width="0.75"/><path d="M894.3,711.6H920.7M901.1,706.6L905.1,716.6M905.1,706.6L901.1,716.6M909.9,706.6L913.9,716.6M913.9,706.6L909.9,716.6" stroke="#444" stroke-width="0.7"/><path d="M896.76,706.3L896.39,704.8L897.31,703H900.09L901.01,704.8L900.64,706.3ZM896.85,707.45h3.7v1.1h-3.7ZM897.31,709.5h2.77v1.2h-2.77ZM896.76,716.9L896.39,718.4L897.31,720.2H900.09L901.01,718.4L900.64,716.9ZM896.85,714.65h3.7v1.1h-3.7ZM897.31,712.5h2.77v1.2h-2.77ZM897.9,706.6h1.6v10h-1.6ZM905.56,706.3L905.19,704.8L906.11,703H908.89L909.81,704.8L909.44,706.3ZM905.65,707.45h3.7v1.1h-3.7ZM906.11,709.5h2.77v1.2h-2.77ZM905.56,716.9L905.19,718.4L906.11,720.2H908.89L909.81,718.4L909.44,716.9ZM905.65,714.65h3.7v1.1h-3.7ZM906.11,712.5h2.77v1.2h-2.77ZM906.7,706.6h1.6v10h-1.6ZM914.36,706.3L913.99,704.8L914.91,703H917.69L918.61,704.8L918.24,706.3ZM914.45,707.45h3.7v1.1h-3.7ZM914.91,709.5h2.77v1.2h-2.77ZM914.36,716.9L913.99,718.4L914.91,720.2H917.69L918.61,718.4L918.24,716.9ZM914.45,714.65h3.7v1.1h-3.7ZM914.91,712.5h2.77v1.2h-2.77ZM915.5,706.6h1.6v10h-1.6ZM892.7,711.6L894.3,710.4L895.9,711.6L894.3,712.8ZM901.5,711.6L903.1,710.4L904.7,711.6L903.1,712.8ZM910.3,711.6L911.9,710.4L913.5,711.6L911.9,712.8ZM919.1,711.6L920.7,710.4L922.3,711.6L920.7,712.8Z" fill="#000" fill-opacity="1.0"/>
<rect x="894.3" y="756" width="26.4" height="10" fill="#fff" stroke="#444" stroke-width="0.75"/><path d="M894.3,761H920.7M901.1,756L905.1,766M905.1,756L901.1,766M909.9,756L913.9,766M913.9,756L909.9,766" stroke="#444" stroke-width="0.7"/><path d="M896.76,755.7L896.39,754.2L897.31,752.4H900.09L901.01,754.2L900.64,755.7ZM896.85,756.85h3.7v1.1h-3.7ZM897.31,758.9h2.77v1.2h-2.77ZM896.76,766.3L896.39,767.8L897.31,769.6H900.09L901.01,767.8L900.64,766.3ZM896.85,764.05h3.7v1.1h-3.7ZM897.31,761.9h2.77v1.2h-2.77ZM897.9,756h1.6v10h-1.6ZM905.56,755.7L905.19,754.2L906.11,752.4H908.89L909.81,754.2L909.44,755.7ZM905.65,756.85h3.7v1.1h-3.7ZM906.11,758.9h2.77v1.2h-2.77ZM905.56,766.3L905.19,767.8L906.11,769.6H908.89L909.81,767.8L909.44,766.3ZM905.65,764.05h3.7v1.1h-3.7ZM906.11,761.9h2.77v1.2h-2.77ZM906.7,756h1.6v10h-1.6ZM914.36,755.7L913.99,754.2L914.91,752.4H917.69L918.61,754.2L918.24,755.7ZM914.45,756.85h3.7v1.1h-3.7ZM914.91,758.9h2.77v1.2h-2.77ZM914.36,766.3L913.99,767.8L914.91,769.6H917.69L918.61,767.8L918.24,766.3ZM914.45,764.05h3.7v1.1h-3.7ZM914.91,761.9h2.77v1.2h-2.77ZM915.5,756h1.6v10h-1.6ZM892.7,761L894.3,759.8L895.9,761L894.3,762.2ZM901.5,761L903.1,759.8L904.7,761L903.1,762.2ZM910.3,761L911.9,759.8L913.5,761L911.9,762.2ZM919.1,761L920.7,759.8L922.3,761L920.7,762.2Z" fill="#000" fill-opacity="1.0"/>
<rect x="894.3" y="784.3" width="26.4" height="10" fill="#fff" stroke="#444" stroke-width="0.75"/><path d="M894.3,789.3H920.7M901.1,784.3L905.1,794.3M905.1,784.3L901.1,794.3M909.9,784.3L913.9,794.3M913.9,784.3L909.9,794.3" stroke="#444" stroke-width="0.7"/><path d="M896.76,784L896.39,782.5L897.31,780.7H900.09L901.01,782.5L900.64,784ZM896.85,785.15h3.7v1.1h-3.7ZM897.31,787.2h2.77v1.2h-2.77ZM896.76,794.6L896.39,796.1L897.31,797.9H900.09L901.01,796.1L900.64,794.6ZM896.85,792.35h3.7v1.1h-3.7ZM897.31,790.2h2.77v1.2h-2.77ZM897.9,784.3h1.6v10h-1.6ZM905.56,784L905.19,782.5L906.11,780.7H908.89L909.81,782.5L909.44,784ZM905.65,785.15h3.7v1.1h-3.7ZM906.11,787.2h2.77v1.2h-2.77ZM905.56,794.6L905.19,796.1L906.11,797.9H908.89L909.81,796.1L909.44,794.6ZM905.65,792.35h3.7v1.1h-3.7ZM906.11,790.2h2.77v1.2h-2.77ZM906.7,784.3h1.6v10h-1.6ZM914.36,784L913.99,782.5L914.91,780.7H917.69L918.61,782.5L918.24,784ZM914.45,785.15h3.7v1.1h-3.7ZM914.91,787.2h2.77v1.2h-2.77ZM914.36,794.6L913.99,796.1L914.91,797.9H917.69L918.61,796.1L918.24,794.6ZM914.45,792.35h3.7v1.1h-3.7ZM914.91,790.2h2.77v1.2h-2.77ZM915.5,784.3h1.6v10h-1.6ZM892.7,789.3L894.3,788.1L895.9,789.3L894.3,790.5ZM901.5,789.3L903.1,788.1L904.7,789.3L903.1,790.5ZM910.3,789.3L911.9,788.1L913.5,789.3L911.9,790.5ZM919.1,789.3L920.7,788.1L922.3,789.3L920.7,790.5Z" fill="#000" fill-opacity="1.0"/>
<rect x="894.3" y="811.5" width="26.4" height="10" fill="#fff" stroke="#444" stroke-width="0.75"/><path d="M894.3,816.5H920.7M901.1,811.5L905.1,821.5M905.1,811.5L901.1,821.5M909.9,811.5L913.9,821.5M913.9,811.5L909.9,821.5" stroke="#444" stroke-width="0.7"/><path d="M896.76,811.2L896.39,809.7L897.31,807.9H900.09L901.01,809.7L900.64,811.2ZM896.85,812.35h3.7v1.1h-3.7ZM897.31,814.4h2.77v1.2h-2.77ZM896.76,821.8L896.39,823.3L897.31,825.1H900.09L901.01,823.3L900.64,821.8ZM896.85,819.55h3.7v1.1h-3.7ZM897.31,817.4h2.77v1.2h-2.77ZM897.9,811.5h1.6v10h-1.6ZM905.56,811.2L905.19,809.7L906.11,807.9H908.89L909.81,809.7L909.44,811.2ZM905.65,812.35h3.7v1.1h-3.7ZM906.11,814.4h2.77v1.2h-2.77ZM905.56,821.8L905.19,823.3L906.11,825.1H908.89L909.81,823.3L909.44,821.8ZM905.65,819.55h3.7v1.1h-3.7ZM906.11,817.4h2.77v1.2h-2.77ZM906.7,811.5h1.6v10h-1.6ZM914.36,811.2L913.99,809.7L914.91,807.9H917.69L918.61,809.7L918.24,811.2ZM914.45,812.35h3.7v1.1h-3.7ZM914.91,814.4h2.77v1.2h-2.77ZM914.36,821.8L913.99,823.3L914.91,825.1H917.69L918.61,823.3L918.24,821.8ZM914.45,819.55h3.7v1.1h-3.7ZM914.91,817.4h2.77v1.2h-2.77ZM915.5,811.5h1.6v10h-1.6ZM892.7,816.5L894.3,815.3L895.9,816.5L894.3,817.7ZM901.5,816.5L903.1,815.3L904.7,816.5L903.1,817.7ZM910.3,816.5L911.9,815.3L913.5,816.5L911.9,817.7ZM919.1,816.5L920.7,815.3L922.3,816.5L920.7,817.7Z" fill="#000" fill-opacity="1.0"/>
<rect x="890.7" y="731" width="34.3" height="16" fill="none" stroke="#3a3a3a" stroke-width="0.9" />
<rect x="903.5" y="735.5" width="7" height="7" fill="#fff" stroke="#444" stroke-width="0.75"/><path d="M903.5,739H910.5" stroke="#444" stroke-width="0.7"/><path d="M905.15,735.2L904.8,734L905.68,732.5H908.32L909.2,734L908.85,735.2ZM905.24,735.93h3.52v1.1h-3.52ZM905.68,737.35h2.64v1.2h-2.64ZM905.15,742.8L904.8,744L905.68,745.5H908.32L909.2,744L908.85,742.8ZM905.24,740.97h3.52v1.1h-3.52ZM905.68,739.45h2.64v1.2h-2.64ZM906.2,735.5h1.6v7h-1.6ZM901.9,739L903.5,737.8L905.1,739L903.5,740.2ZM908.9,739L910.5,737.8L912.1,739L910.5,740.2Z" fill="#000" fill-opacity="1.0"/>
<rect x="913" y="736" width="4" height="5" fill="#bcc43a" stroke="none" stroke-width="1" />
<rect x="930.5" y="777.9" width="68.2" height="20" fill="none" stroke="#3a3a3a" stroke-width="0.9" />
<path d="M947.2,777.9V797.9 M964.4,777.9V797.9" stroke="#3a3a3a" stroke-width="1" fill="none" />
<path d="M937,784.5a4,4 0 0 1 0,8z" fill="#f3f0e0" stroke="#555" stroke-width="0.5"/>
<path d="M935.3,781.6h2.4v2.4h-2.4ZM935.3,793h2.4v2.4h-2.4ZM940.6,787.3h2.4v2.4h-2.4Z" fill="#b22"/>
<path d="M953.5,784.5a4,4 0 0 1 0,8z" fill="#f3f0e0" stroke="#555" stroke-width="0.5"/>
<path d="M951.8,781.6h2.4v2.4h-2.4ZM951.8,793h2.4v2.4h-2.4ZM957.1,787.3h2.4v2.4h-2.4Z" fill="#b22"/>
<rect x="972" y="784.8" width="18" height="7" rx="3.5" fill="#f1edd8" stroke="#555" stroke-width="0.5"/>
<path d="M973.6,781.8h2.8v2.8h-2.8ZM973.6,792h2.8v2.8h-2.8ZM979.6,781.8h2.8v2.8h-2.8ZM979.6,792h2.8v2.8h-2.8ZM985.6,781.8h2.8v2.8h-2.8ZM985.6,792h2.8v2.8h-2.8ZM969,786.9h2.8v2.8h-2.8ZM990.2,786.9h2.8v2.8h-2.8Z" fill="#b22"/>
<text x="939.4" y="776.5" font-size="8.5" fill="#000" text-anchor="middle" stroke="#fff" stroke-width="1.5" paint-order="stroke">B23</text>
<text x="955.1" y="776.5" font-size="8.5" fill="#000" text-anchor="middle" stroke="#fff" stroke-width="1.5" paint-order="stroke">B22</text>
<text x="973" y="776.5" font-size="8.5" fill="#000" text-anchor="middle" stroke="#fff" stroke-width="1.5" paint-order="stroke">B21</text>
<g transform="rotate(90 945.8 812.2)">
<rect x="933.2" y="807.6" width="25.2" height="9.2" fill="#fff" stroke="#444" stroke-width="0.75"/><path d="M933.2,812.2H958.4M939.6,807.6L943.6,816.8M943.6,807.6L939.6,816.8M948,807.6L952,816.8M952,807.6L948,816.8" stroke="#444" stroke-width="0.7"/><path d="M935.09,807.3L934.65,805.7L935.75,803.8H939.05L940.15,805.7L939.71,807.3ZM935.2,808.34h4.4v1.1h-4.4ZM935.75,810.22h3.3v1.2h-3.3ZM935.09,817.1L934.65,818.7L935.75,820.6H939.05L940.15,818.7L939.71,817.1ZM935.2,814.96h4.4v1.1h-4.4ZM935.75,812.98h3.3v1.2h-3.3ZM936.6,807.6h1.6v9.2h-1.6ZM943.49,807.3L943.05,805.7L944.15,803.8H947.45L948.55,805.7L948.11,807.3ZM943.6,808.34h4.4v1.1h-4.4ZM944.15,810.22h3.3v1.2h-3.3ZM943.49,817.1L943.05,818.7L944.15,820.6H947.45L948.55,818.7L948.11,817.1ZM943.6,814.96h4.4v1.1h-4.4ZM944.15,812.98h3.3v1.2h-3.3ZM945,807.6h1.6v9.2h-1.6ZM951.89,807.3L951.45,805.7L952.55,803.8H955.85L956.95,805.7L956.51,807.3ZM952,808.34h4.4v1.1h-4.4ZM952.55,810.22h3.3v1.2h-3.3ZM951.89,817.1L951.45,818.7L952.55,820.6H955.85L956.95,818.7L956.51,817.1ZM952,814.96h4.4v1.1h-4.4ZM952.55,812.98h3.3v1.2h-3.3ZM953.4,807.6h1.6v9.2h-1.6ZM931.6,812.2L933.2,811L934.8,812.2L933.2,813.4ZM940,812.2L941.6,811L943.2,812.2L941.6,813.4ZM948.4,812.2L950,811L951.6,812.2L950,813.4ZM956.8,812.2L958.4,811L960,812.2L958.4,813.4Z" fill="#000" fill-opacity="1.0"/>
</g>
<g transform="rotate(90 980.9 811.5)">
<rect x="968.6" y="806.9" width="24.6" height="9.2" fill="#fff" stroke="#444" stroke-width="0.75"/><path d="M968.6,811.5H993.2M974.8,806.9L978.8,816.1M978.8,806.9L974.8,816.1M983,806.9L987,816.1M987,806.9L983,816.1" stroke="#444" stroke-width="0.7"/><path d="M970.39,806.6L969.95,805L971.05,803.1H974.35L975.45,805L975.01,806.6ZM970.5,807.64h4.4v1.1h-4.4ZM971.05,809.52h3.3v1.2h-3.3ZM970.39,816.4L969.95,818L971.05,819.9H974.35L975.45,818L975.01,816.4ZM970.5,814.26h4.4v1.1h-4.4ZM971.05,812.28h3.3v1.2h-3.3ZM971.9,806.9h1.6v9.2h-1.6ZM978.59,806.6L978.15,805L979.25,803.1H982.55L983.65,805L983.21,806.6ZM978.7,807.64h4.4v1.1h-4.4ZM979.25,809.52h3.3v1.2h-3.3ZM978.59,816.4L978.15,818L979.25,819.9H982.55L983.65,818L983.21,816.4ZM978.7,814.26h4.4v1.1h-4.4ZM979.25,812.28h3.3v1.2h-3.3ZM980.1,806.9h1.6v9.2h-1.6ZM986.79,806.6L986.35,805L987.45,803.1H990.75L991.85,805L991.41,806.6ZM986.9,807.64h4.4v1.1h-4.4ZM987.45,809.52h3.3v1.2h-3.3ZM986.79,816.4L986.35,818L987.45,819.9H990.75L991.85,818L991.41,816.4ZM986.9,814.26h4.4v1.1h-4.4ZM987.45,812.28h3.3v1.2h-3.3ZM988.3,806.9h1.6v9.2h-1.6ZM967,811.5L968.6,810.3L970.2,811.5L968.6,812.7ZM975.2,811.5L976.8,810.3L978.4,811.5L976.8,812.7ZM983.4,811.5L985,810.3L986.6,811.5L985,812.7ZM991.6,811.5L993.2,810.3L994.8,811.5L993.2,812.7Z" fill="#000" fill-opacity="1.0"/>
</g>
<rect x="923.6" y="834.4" width="111.6" height="33.6" fill="url(#hv)" stroke="#444" stroke-width="0.9" />
<rect x="926.1" y="836.9" width="106.6" height="28.6" fill="none" stroke="#bbb" stroke-width="0.5" />
<polygon points="950.79,852.96 945.76,857.99 938.64,857.99 933.61,852.96 933.61,845.84 938.64,840.81 945.76,840.81 950.79,845.84" fill="#fbfbf0" stroke="#333" stroke-width="0.7"/><path d="M942.2,849.4L950.79,852.96M942.2,849.4L945.76,857.99M942.2,849.4L938.64,857.99M942.2,849.4L933.61,852.96M942.2,849.4L933.61,845.84M942.2,849.4L938.64,840.81M942.2,849.4L945.76,840.81M942.2,849.4L950.79,845.84" stroke="#444" stroke-width="0.45"/><path d="M942.2,849.4L935.69,840.1" stroke="#333" stroke-width="1"/><circle cx="942.2" cy="849.4" r="1.1" fill="#111"/><rect x="933.69" y="838.1" width="4" height="4" fill="#d9c4c4" stroke="#755" stroke-width="0.5" transform="rotate(35 935.69 840.1)"/><path d="M951.04,843.9h4v13.5h-4zM955.04,849h3.8v3.6h-3.8z" fill="#1a1a1a"/>
<polygon points="1013.09,852.96 1008.06,857.99 1000.94,857.99 995.91,852.96 995.91,845.84 1000.94,840.81 1008.06,840.81 1013.09,845.84" fill="#fbfbf0" stroke="#333" stroke-width="0.7"/><path d="M1004.5,849.4L1013.09,852.96M1004.5,849.4L1008.06,857.99M1004.5,849.4L1000.94,857.99M1004.5,849.4L995.91,852.96M1004.5,849.4L995.91,845.84M1004.5,849.4L1000.94,840.81M1004.5,849.4L1008.06,840.81M1004.5,849.4L1013.09,845.84" stroke="#444" stroke-width="0.45"/><path d="M1004.5,849.4L997.99,840.1" stroke="#333" stroke-width="1"/><circle cx="1004.5" cy="849.4" r="1.1" fill="#111"/><rect x="995.99" y="838.1" width="4" height="4" fill="#d9c4c4" stroke="#755" stroke-width="0.5" transform="rotate(35 997.99 840.1)"/><path d="M1013.34,843.9h4v13.5h-4zM1017.34,849h3.8v3.6h-3.8z" fill="#1a1a1a"/>
<rect x="966.5" y="846" width="5.5" height="7" fill="#222" stroke="none" stroke-width="1" />
<rect x="976.6" y="843.7" width="5" height="10" fill="#f1edd8" stroke="#555" stroke-width="0.5" />
<path d="M967,842 v-3 a2.2,2.2 0 0 1 4.4,0 v3 z M967,856 v3 a2.2,2.2 0 0 0 4.4,0 v-3 z" fill="#fffef0" stroke="#555" stroke-width="0.6"/>
<text x="984" y="848" font-size="3.8" fill="#000" text-anchor="start" font-style="italic">R+2</text>
<text x="965" y="857" font-size="3.8" fill="#000" text-anchor="start" >PENTE 3%</text>
<rect x="893.6" y="480.5" width="30.7" height="111.1" fill="url(#hh)" stroke="#444" stroke-width="0.9" />
<rect x="896.1" y="483" width="25.7" height="106.1" fill="none" stroke="#bbb" stroke-width="0.5" />
<polygon points="911.45,505.25 906.85,509.85 900.35,509.85 895.75,505.25 895.75,498.75 900.35,494.15 906.85,494.15 911.45,498.75" fill="#fbfbf0" stroke="#333" stroke-width="0.7"/><path d="M903.6,502L911.45,505.25M903.6,502L906.85,509.85M903.6,502L900.35,509.85M903.6,502L895.75,505.25M903.6,502L895.75,498.75M903.6,502L900.35,494.15M903.6,502L906.85,494.15M903.6,502L911.45,498.75" stroke="#444" stroke-width="0.45"/><path d="M903.6,502L897.65,493.5" stroke="#333" stroke-width="1"/><circle cx="903.6" cy="502" r="1.1" fill="#111"/><rect x="895.65" y="491.5" width="4" height="4" fill="#d9c4c4" stroke="#755" stroke-width="0.5" transform="rotate(35 897.65 493.5)"/><path d="M911.68,496.5h4v13.5h-4zM915.68,501.6h3.8v3.6h-3.8z" fill="#1a1a1a"/>
<polygon points="911.45,556.95 906.85,561.55 900.35,561.55 895.75,556.95 895.75,550.45 900.35,545.85 906.85,545.85 911.45,550.45" fill="#fbfbf0" stroke="#333" stroke-width="0.7"/><path d="M903.6,553.7L911.45,556.95M903.6,553.7L906.85,561.55M903.6,553.7L900.35,561.55M903.6,553.7L895.75,556.95M903.6,553.7L895.75,550.45M903.6,553.7L900.35,545.85M903.6,553.7L906.85,545.85M903.6,553.7L911.45,550.45" stroke="#444" stroke-width="0.45"/><path d="M903.6,553.7L897.65,545.2" stroke="#333" stroke-width="1"/><circle cx="903.6" cy="553.7" r="1.1" fill="#111"/><rect x="895.65" y="543.2" width="4" height="4" fill="#d9c4c4" stroke="#755" stroke-width="0.5" transform="rotate(35 897.65 545.2)"/><path d="M911.68,548.2h4v13.5h-4zM915.68,553.3h3.8v3.6h-3.8z" fill="#1a1a1a"/>
<text x="896.5" y="534.4" font-size="4.6" fill="#111" text-anchor="start" font-style="italic">Terrasse R+2</text>
<text x="896.5" y="539.6" font-size="4.6" fill="#111" text-anchor="start" font-style="italic">69m²</text>
<text x="896.5" y="544.8" font-size="4.6" fill="#111" text-anchor="start" >PENTE 3%</text>
<path d="M924.3,480.5V591.6 M1000.9,480.5V593" stroke="#3a3a3a" stroke-width="1.0" fill="none" />
<rect x="965" y="480.5" width="35" height="22.5" fill="#fff" stroke="#222" stroke-width="1"/><path d="M965,488.38H1000M965,490.57H1000M965,492.77H1000M965,494.97H1000M965,497.17H1000M965,499.37H1000M965,501.57H1000" stroke="#777" stroke-width="0.5"/><rect x="980.5" y="488.38" width="4" height="13.95" fill="#fff" stroke="#222" stroke-width="0.8"/><path d="M966.5,489.5 A16,6.75 0 0 1 998.5,489.5" stroke="#bbb" stroke-width="0.5" fill="none"/>
<rect x="965" y="503" width="35" height="17" fill="none" stroke="#3a3a3a" stroke-width="0.9" />
<path d="M951.5,503.5H965" stroke="#111" stroke-width="2.2" fill="none" />
<text x="973" y="516" font-size="4.5" fill="#444" text-anchor="start" >SOURCING</text>
<path d="M968.9,505.9h2.2v2.2h-2.2ZM968.9,509.9h2.2v2.2h-2.2ZM973.9,512.9h2.2v2.2h-2.2Z" fill="#b22"/>
<rect x="980" y="506" width="6" height="6" fill="#333" stroke="none" stroke-width="1" />
<rect x="945.5" y="512" width="2" height="12" fill="#111" stroke="none" stroke-width="1" />
<rect x="948" y="515" width="9" height="7" fill="#fff" stroke="#444" stroke-width="0.6" />
<rect x="949" y="511" width="3" height="3" fill="#bcc43a" stroke="none" stroke-width="1" />
<rect x="953" y="511" width="3" height="3" fill="#bcc43a" stroke="none" stroke-width="1" />
<rect x="948.2" y="537.3" width="17.6" height="8.4" fill="#fff" stroke="#444" stroke-width="0.75"/><path d="M948.2,541.5H965.8M955,537.3L959,545.7M959,537.3L955,545.7" stroke="#444" stroke-width="0.7"/><path d="M950.66,537L950.29,535.5L951.21,533.7H953.99L954.91,535.5L954.54,537ZM950.75,537.93h3.7v1.1h-3.7ZM951.21,539.64h2.77v1.2h-2.77ZM950.66,546L950.29,547.5L951.21,549.3H953.99L954.91,547.5L954.54,546ZM950.75,543.97h3.7v1.1h-3.7ZM951.21,542.16h2.77v1.2h-2.77ZM951.8,537.3h1.6v8.4h-1.6ZM959.46,537L959.09,535.5L960.01,533.7H962.79L963.71,535.5L963.34,537ZM959.55,537.93h3.7v1.1h-3.7ZM960.01,539.64h2.77v1.2h-2.77ZM959.46,546L959.09,547.5L960.01,549.3H962.79L963.71,547.5L963.34,546ZM959.55,543.97h3.7v1.1h-3.7ZM960.01,542.16h2.77v1.2h-2.77ZM960.6,537.3h1.6v8.4h-1.6ZM946.6,541.5L948.2,540.3L949.8,541.5L948.2,542.7ZM955.4,541.5L957,540.3L958.6,541.5L957,542.7ZM964.2,541.5L965.8,540.3L967.4,541.5L965.8,542.7Z" fill="#000" fill-opacity="1.0"/>
<rect x="977.8" y="537.3" width="17.6" height="8.4" fill="#fff" stroke="#444" stroke-width="0.75"/><path d="M977.8,541.5H995.4M984.6,537.3L988.6,545.7M988.6,537.3L984.6,545.7" stroke="#444" stroke-width="0.7"/><path d="M980.26,537L979.89,535.5L980.81,533.7H983.59L984.51,535.5L984.14,537ZM980.35,537.93h3.7v1.1h-3.7ZM980.81,539.64h2.77v1.2h-2.77ZM980.26,546L979.89,547.5L980.81,549.3H983.59L984.51,547.5L984.14,546ZM980.35,543.97h3.7v1.1h-3.7ZM980.81,542.16h2.77v1.2h-2.77ZM981.4,537.3h1.6v8.4h-1.6ZM989.06,537L988.69,535.5L989.61,533.7H992.39L993.31,535.5L992.94,537ZM989.15,537.93h3.7v1.1h-3.7ZM989.61,539.64h2.77v1.2h-2.77ZM989.06,546L988.69,547.5L989.61,549.3H992.39L993.31,547.5L992.94,546ZM989.15,543.97h3.7v1.1h-3.7ZM989.61,542.16h2.77v1.2h-2.77ZM990.2,537.3h1.6v8.4h-1.6ZM976.2,541.5L977.8,540.3L979.4,541.5L977.8,542.7ZM985,541.5L986.6,540.3L988.2,541.5L986.6,542.7ZM993.8,541.5L995.4,540.3L997,541.5L995.4,542.7Z" fill="#000" fill-opacity="1.0"/>
<rect x="944.2" y="568.1" width="17.6" height="8.4" fill="#fff" stroke="#444" stroke-width="0.75"/><path d="M944.2,572.3H961.8M951,568.1L955,576.5M955,568.1L951,576.5" stroke="#444" stroke-width="0.7"/><path d="M946.66,567.8L946.29,566.3L947.21,564.5H949.99L950.91,566.3L950.54,567.8ZM946.75,568.73h3.7v1.1h-3.7ZM947.21,570.44h2.77v1.2h-2.77ZM946.66,576.8L946.29,578.3L947.21,580.1H949.99L950.91,578.3L950.54,576.8ZM946.75,574.77h3.7v1.1h-3.7ZM947.21,572.96h2.77v1.2h-2.77ZM947.8,568.1h1.6v8.4h-1.6ZM955.46,567.8L955.09,566.3L956.01,564.5H958.79L959.71,566.3L959.34,567.8ZM955.55,568.73h3.7v1.1h-3.7ZM956.01,570.44h2.77v1.2h-2.77ZM955.46,576.8L955.09,578.3L956.01,580.1H958.79L959.71,578.3L959.34,576.8ZM955.55,574.77h3.7v1.1h-3.7ZM956.01,572.96h2.77v1.2h-2.77ZM956.6,568.1h1.6v8.4h-1.6ZM942.6,572.3L944.2,571.1L945.8,572.3L944.2,573.5ZM951.4,572.3L953,571.1L954.6,572.3L953,573.5ZM960.2,572.3L961.8,571.1L963.4,572.3L961.8,573.5Z" fill="#000" fill-opacity="1.0"/>
<rect x="969.8" y="568.1" width="26.4" height="8.4" fill="#fff" stroke="#444" stroke-width="0.75"/><path d="M969.8,572.3H996.2M976.6,568.1L980.6,576.5M980.6,568.1L976.6,576.5M985.4,568.1L989.4,576.5M989.4,568.1L985.4,576.5" stroke="#444" stroke-width="0.7"/><path d="M972.26,567.8L971.89,566.3L972.81,564.5H975.59L976.51,566.3L976.14,567.8ZM972.35,568.73h3.7v1.1h-3.7ZM972.81,570.44h2.77v1.2h-2.77ZM972.26,576.8L971.89,578.3L972.81,580.1H975.59L976.51,578.3L976.14,576.8ZM972.35,574.77h3.7v1.1h-3.7ZM972.81,572.96h2.77v1.2h-2.77ZM973.4,568.1h1.6v8.4h-1.6ZM981.06,567.8L980.69,566.3L981.61,564.5H984.39L985.31,566.3L984.94,567.8ZM981.15,568.73h3.7v1.1h-3.7ZM981.61,570.44h2.77v1.2h-2.77ZM981.06,576.8L980.69,578.3L981.61,580.1H984.39L985.31,578.3L984.94,576.8ZM981.15,574.77h3.7v1.1h-3.7ZM981.61,572.96h2.77v1.2h-2.77ZM982.2,568.1h1.6v8.4h-1.6ZM989.86,567.8L989.49,566.3L990.41,564.5H993.19L994.11,566.3L993.74,567.8ZM989.95,568.73h3.7v1.1h-3.7ZM990.41,570.44h2.77v1.2h-2.77ZM989.86,576.8L989.49,578.3L990.41,580.1H993.19L994.11,578.3L993.74,576.8ZM989.95,574.77h3.7v1.1h-3.7ZM990.41,572.96h2.77v1.2h-2.77ZM991,568.1h1.6v8.4h-1.6ZM968.2,572.3L969.8,571.1L971.4,572.3L969.8,573.5ZM977,572.3L978.6,571.1L980.2,572.3L978.6,573.5ZM985.8,572.3L987.4,571.1L989,572.3L987.4,573.5ZM994.6,572.3L996.2,571.1L997.8,572.3L996.2,573.5Z" fill="#000" fill-opacity="1.0"/>
<text x="962" y="558" font-size="4.5" fill="#444" text-anchor="start" >SOURCING</text>
<path d="M100.9,570.3v2.4M100.9,599.3v2.4M100.9,628.3v2.4M100.9,657.3v2.4M100.9,686.3v2.4M100.9,715.3v2.4M100.9,744.3v2.4M100.9,773.3v2.4M100.9,802.3v2.4M245.6,683.3v2.4M245.6,712.3v2.4M245.6,741.3v2.4M245.6,770.3v2.4M245.6,799.3v2.4M245.6,828.3v2.4M114.2,835h2.4M143.2,835h2.4M172.2,835h2.4M201.2,835h2.4M230.2,835h2.4M147.8,557.4h2.4M176.8,557.4h2.4M205.8,557.4h2.4M234.8,557.4h2.4M380.6,643.3v2.4M380.6,672.3v2.4M380.6,701.3v2.4M380.6,730.3v2.4M380.6,759.3v2.4M380.6,788.3v2.4M380.6,817.3v2.4M525,683.3v2.4M525,712.3v2.4M525,741.3v2.4M525,770.3v2.4M525,799.3v2.4M525,828.3v2.4M393.9,833h2.4M422.9,833h2.4M451.9,833h2.4M480.9,833h2.4M509.9,833h2.4M426.1,557.4h2.4M455.1,557.4h2.4M484.1,557.4h2.4M513.1,557.4h2.4M654.4,643.3v2.4M654.4,672.3v2.4M654.4,701.3v2.4M654.4,730.3v2.4M654.4,759.3v2.4M654.4,788.3v2.4M793,683.3v2.4M793,712.3v2.4M793,741.3v2.4M793,770.3v2.4M667.7,800h2.4M696.7,800h2.4M725.7,800h2.4M754.7,800h2.4M783.7,800h2.4M700.3,558h2.4M729.3,558h2.4M758.3,558h2.4M787.3,558h2.4M890.7,676.3v2.4M890.7,705.3v2.4M890.7,734.3v2.4M890.7,763.3v2.4M890.7,792.3v2.4M890.7,821.3v2.4M1034.5,604.9v2.4M1034.5,633.9v2.4M1034.5,662.9v2.4M1034.5,691.9v2.4M1034.5,720.9v2.4M1034.5,749.9v2.4M1034.5,778.9v2.4M1034.5,807.9v2.4M904,835h2.4M933,835h2.4M962,835h2.4M991,835h2.4M1020,835h2.4" stroke="#111" stroke-width="1.8"/>
<rect x="785.4" y="175.5" width="33.6" height="106.5" fill="url(#hh)" stroke="#444" stroke-width="0.8" />
<rect x="785.4" y="341.5" width="33.6" height="106.5" fill="url(#hh)" stroke="#444" stroke-width="0.8" />
<rect x="788" y="178" width="28.5" height="101.5" fill="none" stroke="#bbb" stroke-width="0.5" />
<rect x="788" y="344" width="28.5" height="101.5" fill="none" stroke="#bbb" stroke-width="0.5" />
<polygon points="807.85,198.25 803.25,202.85 796.75,202.85 792.15,198.25 792.15,191.75 796.75,187.15 803.25,187.15 807.85,191.75" fill="#fbfbf0" stroke="#333" stroke-width="0.7"/><path d="M800,195L807.85,198.25M800,195L803.25,202.85M800,195L796.75,202.85M800,195L792.15,198.25M800,195L792.15,191.75M800,195L796.75,187.15M800,195L803.25,187.15M800,195L807.85,191.75" stroke="#444" stroke-width="0.45"/><path d="M800,195L794.05,186.5" stroke="#333" stroke-width="1"/><circle cx="800" cy="195" r="1.1" fill="#111"/><rect x="792.05" y="184.5" width="4" height="4" fill="#d9c4c4" stroke="#755" stroke-width="0.5" transform="rotate(35 794.05 186.5)"/><path d="M808.08,189.5h4v13.5h-4zM812.08,194.6h3.8v3.6h-3.8z" fill="#1a1a1a"/>
<polygon points="808.38,419.64 803.24,424.78 795.96,424.78 790.82,419.64 790.82,412.36 795.96,407.22 803.24,407.22 808.38,412.36" fill="#fbfbf0" stroke="#333" stroke-width="0.7"/><path d="M799.6,416L808.38,419.64M799.6,416L803.24,424.78M799.6,416L795.96,424.78M799.6,416L790.82,419.64M799.6,416L790.82,412.36M799.6,416L795.96,407.22M799.6,416L803.24,407.22M799.6,416L808.38,412.36" stroke="#444" stroke-width="0.45"/><path d="M799.6,416L792.95,406.5" stroke="#333" stroke-width="1"/><circle cx="799.6" cy="416" r="1.1" fill="#111"/><rect x="790.95" y="404.5" width="4" height="4" fill="#d9c4c4" stroke="#755" stroke-width="0.5" transform="rotate(35 792.95 406.5)"/><path d="M808.62,410.5h4v13.5h-4zM812.62,415.6h3.8v3.6h-3.8z" fill="#1a1a1a" transform="rotate(90 799.6 416)"/>
<text x="791.5" y="226.9" font-size="4.8" fill="#111" text-anchor="start" font-style="italic">Terrasse R+2</text>
<text x="791.5" y="232.2" font-size="4.8" fill="#111" text-anchor="start" font-style="italic">83.5m²</text>
<text x="790.5" y="237.7" font-size="4.8" fill="#111" text-anchor="start" >PENTE 3%</text>
<text x="791.5" y="393.7" font-size="4.8" fill="#111" text-anchor="start" font-style="italic">Terrasse R+2</text>
<text x="791.5" y="399" font-size="4.8" fill="#111" text-anchor="start" font-style="italic">83.5m²</text>
<text x="790.5" y="404.5" font-size="4.8" fill="#111" text-anchor="start" >PENTE 3%</text>
<rect x="795.5" y="246.5" width="4.5" height="5" fill="#222" stroke="none" stroke-width="1" />
<rect x="804.4" y="243" width="5.4" height="12" fill="#fffef0" stroke="#555" stroke-width="0.6" rx="2"/>
<path d="M795.5,243 v-3 a2.2,2.2 0 0 1 4.4,0 v3 z M795.5,255 v3 a2.2,2.2 0 0 0 4.4,0 v-3 z" fill="#fffef0" stroke="#555" stroke-width="0.6"/>
<rect x="795.5" y="367.5" width="4.5" height="5" fill="#222" stroke="none" stroke-width="1" />
<rect x="804.4" y="364" width="5.4" height="12" fill="#fffef0" stroke="#555" stroke-width="0.6" rx="2"/>
<path d="M795.5,364 v-3 a2.2,2.2 0 0 1 4.4,0 v3 z M795.5,376 v3 a2.2,2.2 0 0 0 4.4,0 v-3 z" fill="#fffef0" stroke="#555" stroke-width="0.6"/>
<rect x="819" y="176" width="215" height="304.5" fill="none" stroke="#333" stroke-width="0.95" />
<path d="M846.9,176h2.2M846.9,480.5h2.2M875.9,176h2.2M875.9,480.5h2.2M904.9,176h2.2M904.9,480.5h2.2M933.9,176h2.2M933.9,480.5h2.2M962.9,176h2.2M962.9,480.5h2.2M991.9,176h2.2M991.9,480.5h2.2M1020.9,176h2.2M1020.9,480.5h2.2M819,203.9v2.2M1034,203.9v2.2M819,232.9v2.2M1034,232.9v2.2M819,261.9v2.2M1034,261.9v2.2M819,290.9v2.2M1034,290.9v2.2M819,319.9v2.2M1034,319.9v2.2M819,348.9v2.2M1034,348.9v2.2M819,377.9v2.2M1034,377.9v2.2M819,406.9v2.2M1034,406.9v2.2M819,435.9v2.2M1034,435.9v2.2M819,464.9v2.2M1034,464.9v2.2" stroke="#111" stroke-width="2.2"/>
<g transform="rotate(90 836.75 188)">
<rect x="827.95" y="183.2" width="17.6" height="9.6" fill="#fff" stroke="#444" stroke-width="0.75"/><path d="M827.95,188H845.55M834.75,183.2L838.75,192.8M838.75,183.2L834.75,192.8" stroke="#444" stroke-width="0.7"/><path d="M829.76,182.9L829.27,181.2L830.5,179.2H834.2L835.43,181.2L834.94,182.9ZM829.89,183.99h4.93v1.1h-4.93ZM830.5,185.96h3.7v1.2h-3.7ZM829.76,193.1L829.27,194.8L830.5,196.8H834.2L835.43,194.8L834.94,193.1ZM829.89,190.91h4.93v1.1h-4.93ZM830.5,188.84h3.7v1.2h-3.7ZM831.55,183.2h1.6v9.6h-1.6ZM838.56,182.9L838.07,181.2L839.3,179.2H843L844.23,181.2L843.74,182.9ZM838.69,183.99h4.93v1.1h-4.93ZM839.3,185.96h3.7v1.2h-3.7ZM838.56,193.1L838.07,194.8L839.3,196.8H843L844.23,194.8L843.74,193.1ZM838.69,190.91h4.93v1.1h-4.93ZM839.3,188.84h3.7v1.2h-3.7ZM840.35,183.2h1.6v9.6h-1.6ZM826.35,188L827.95,186.8L829.55,188L827.95,189.2ZM835.15,188L836.75,186.8L838.35,188L836.75,189.2ZM843.95,188L845.55,186.8L847.15,188L845.55,189.2Z" fill="#000" fill-opacity="1.0"/>
</g>
<g transform="rotate(90 865.75 188)">
<rect x="856.95" y="183.2" width="17.6" height="9.6" fill="#fff" stroke="#444" stroke-width="0.75"/><path d="M856.95,188H874.55M863.75,183.2L867.75,192.8M867.75,183.2L863.75,192.8" stroke="#444" stroke-width="0.7"/><path d="M858.76,182.9L858.27,181.2L859.5,179.2H863.2L864.43,181.2L863.94,182.9ZM858.89,183.99h4.93v1.1h-4.93ZM859.5,185.96h3.7v1.2h-3.7ZM858.76,193.1L858.27,194.8L859.5,196.8H863.2L864.43,194.8L863.94,193.1ZM858.89,190.91h4.93v1.1h-4.93ZM859.5,188.84h3.7v1.2h-3.7ZM860.55,183.2h1.6v9.6h-1.6ZM867.56,182.9L867.07,181.2L868.3,179.2H872L873.23,181.2L872.74,182.9ZM867.69,183.99h4.93v1.1h-4.93ZM868.3,185.96h3.7v1.2h-3.7ZM867.56,193.1L867.07,194.8L868.3,196.8H872L873.23,194.8L872.74,193.1ZM867.69,190.91h4.93v1.1h-4.93ZM868.3,188.84h3.7v1.2h-3.7ZM869.35,183.2h1.6v9.6h-1.6ZM855.35,188L856.95,186.8L858.55,188L856.95,189.2ZM864.15,188L865.75,186.8L867.35,188L865.75,189.2ZM872.95,188L874.55,186.8L876.15,188L874.55,189.2Z" fill="#000" fill-opacity="1.0"/>
</g>
<g transform="rotate(90 895 188)">
<rect x="886.2" y="183.2" width="17.6" height="9.6" fill="#fff" stroke="#444" stroke-width="0.75"/><path d="M886.2,188H903.8M893,183.2L897,192.8M897,183.2L893,192.8" stroke="#444" stroke-width="0.7"/><path d="M888.01,182.9L887.52,181.2L888.75,179.2H892.45L893.68,181.2L893.19,182.9ZM888.14,183.99h4.93v1.1h-4.93ZM888.75,185.96h3.7v1.2h-3.7ZM888.01,193.1L887.52,194.8L888.75,196.8H892.45L893.68,194.8L893.19,193.1ZM888.14,190.91h4.93v1.1h-4.93ZM888.75,188.84h3.7v1.2h-3.7ZM889.8,183.2h1.6v9.6h-1.6ZM896.81,182.9L896.32,181.2L897.55,179.2H901.25L902.48,181.2L901.99,182.9ZM896.94,183.99h4.93v1.1h-4.93ZM897.55,185.96h3.7v1.2h-3.7ZM896.81,193.1L896.32,194.8L897.55,196.8H901.25L902.48,194.8L901.99,193.1ZM896.94,190.91h4.93v1.1h-4.93ZM897.55,188.84h3.7v1.2h-3.7ZM898.6,183.2h1.6v9.6h-1.6ZM884.6,188L886.2,186.8L887.8,188L886.2,189.2ZM893.4,188L895,186.8L896.6,188L895,189.2ZM902.2,188L903.8,186.8L905.4,188L903.8,189.2Z" fill="#000" fill-opacity="1.0"/>
</g>
<g transform="rotate(90 923 188)">
<rect x="914.2" y="183.2" width="17.6" height="9.6" fill="#fff" stroke="#444" stroke-width="0.75"/><path d="M914.2,188H931.8M921,183.2L925,192.8M925,183.2L921,192.8" stroke="#444" stroke-width="0.7"/><path d="M916.01,182.9L915.52,181.2L916.75,179.2H920.45L921.68,181.2L921.19,182.9ZM916.14,183.99h4.93v1.1h-4.93ZM916.75,185.96h3.7v1.2h-3.7ZM916.01,193.1L915.52,194.8L916.75,196.8H920.45L921.68,194.8L921.19,193.1ZM916.14,190.91h4.93v1.1h-4.93ZM916.75,188.84h3.7v1.2h-3.7ZM917.8,183.2h1.6v9.6h-1.6ZM924.81,182.9L924.32,181.2L925.55,179.2H929.25L930.48,181.2L929.99,182.9ZM924.94,183.99h4.93v1.1h-4.93ZM925.55,185.96h3.7v1.2h-3.7ZM924.81,193.1L924.32,194.8L925.55,196.8H929.25L930.48,194.8L929.99,193.1ZM924.94,190.91h4.93v1.1h-4.93ZM925.55,188.84h3.7v1.2h-3.7ZM926.6,183.2h1.6v9.6h-1.6ZM912.6,188L914.2,186.8L915.8,188L914.2,189.2ZM921.4,188L923,186.8L924.6,188L923,189.2ZM930.2,188L931.8,186.8L933.4,188L931.8,189.2Z" fill="#000" fill-opacity="1.0"/>
</g>
<g transform="rotate(90 952 188)">
<rect x="943.2" y="183.2" width="17.6" height="9.6" fill="#fff" stroke="#444" stroke-width="0.75"/><path d="M943.2,188H960.8M950,183.2L954,192.8M954,183.2L950,192.8" stroke="#444" stroke-width="0.7"/><path d="M945.01,182.9L944.52,181.2L945.75,179.2H949.45L950.68,181.2L950.19,182.9ZM945.14,183.99h4.93v1.1h-4.93ZM945.75,185.96h3.7v1.2h-3.7ZM945.01,193.1L944.52,194.8L945.75,196.8H949.45L950.68,194.8L950.19,193.1ZM945.14,190.91h4.93v1.1h-4.93ZM945.75,188.84h3.7v1.2h-3.7ZM946.8,183.2h1.6v9.6h-1.6ZM953.81,182.9L953.32,181.2L954.55,179.2H958.25L959.48,181.2L958.99,182.9ZM953.94,183.99h4.93v1.1h-4.93ZM954.55,185.96h3.7v1.2h-3.7ZM953.81,193.1L953.32,194.8L954.55,196.8H958.25L959.48,194.8L958.99,193.1ZM953.94,190.91h4.93v1.1h-4.93ZM954.55,188.84h3.7v1.2h-3.7ZM955.6,183.2h1.6v9.6h-1.6ZM941.6,188L943.2,186.8L944.8,188L943.2,189.2ZM950.4,188L952,186.8L953.6,188L952,189.2ZM959.2,188L960.8,186.8L962.4,188L960.8,189.2Z" fill="#000" fill-opacity="1.0"/>
</g>
<g transform="rotate(90 981 188)">
<rect x="972.2" y="183.2" width="17.6" height="9.6" fill="#fff" stroke="#444" stroke-width="0.75"/><path d="M972.2,188H989.8M979,183.2L983,192.8M983,183.2L979,192.8" stroke="#444" stroke-width="0.7"/><path d="M974.01,182.9L973.52,181.2L974.75,179.2H978.45L979.68,181.2L979.19,182.9ZM974.14,183.99h4.93v1.1h-4.93ZM974.75,185.96h3.7v1.2h-3.7ZM974.01,193.1L973.52,194.8L974.75,196.8H978.45L979.68,194.8L979.19,193.1ZM974.14,190.91h4.93v1.1h-4.93ZM974.75,188.84h3.7v1.2h-3.7ZM975.8,183.2h1.6v9.6h-1.6ZM982.81,182.9L982.32,181.2L983.55,179.2H987.25L988.48,181.2L987.99,182.9ZM982.94,183.99h4.93v1.1h-4.93ZM983.55,185.96h3.7v1.2h-3.7ZM982.81,193.1L982.32,194.8L983.55,196.8H987.25L988.48,194.8L987.99,193.1ZM982.94,190.91h4.93v1.1h-4.93ZM983.55,188.84h3.7v1.2h-3.7ZM984.6,183.2h1.6v9.6h-1.6ZM970.6,188L972.2,186.8L973.8,188L972.2,189.2ZM979.4,188L981,186.8L982.6,188L981,189.2ZM988.2,188L989.8,186.8L991.4,188L989.8,189.2Z" fill="#000" fill-opacity="1.0"/>
</g>
<g transform="rotate(90 1016.7 193.6)">
<rect x="1003.5" y="188.8" width="26.4" height="9.6" fill="#fff" stroke="#444" stroke-width="0.75"/><path d="M1003.5,193.6H1029.9M1010.3,188.8L1014.3,198.4M1014.3,188.8L1010.3,198.4M1019.1,188.8L1023.1,198.4M1023.1,188.8L1019.1,198.4" stroke="#444" stroke-width="0.7"/><path d="M1005.31,188.5L1004.82,186.8L1006.05,184.8H1009.75L1010.98,186.8L1010.49,188.5ZM1005.44,189.59h4.93v1.1h-4.93ZM1006.05,191.56h3.7v1.2h-3.7ZM1005.31,198.7L1004.82,200.4L1006.05,202.4H1009.75L1010.98,200.4L1010.49,198.7ZM1005.44,196.51h4.93v1.1h-4.93ZM1006.05,194.44h3.7v1.2h-3.7ZM1007.1,188.8h1.6v9.6h-1.6ZM1014.11,188.5L1013.62,186.8L1014.85,184.8H1018.55L1019.78,186.8L1019.29,188.5ZM1014.24,189.59h4.93v1.1h-4.93ZM1014.85,191.56h3.7v1.2h-3.7ZM1014.11,198.7L1013.62,200.4L1014.85,202.4H1018.55L1019.78,200.4L1019.29,198.7ZM1014.24,196.51h4.93v1.1h-4.93ZM1014.85,194.44h3.7v1.2h-3.7ZM1015.9,188.8h1.6v9.6h-1.6ZM1022.91,188.5L1022.42,186.8L1023.65,184.8H1027.35L1028.58,186.8L1028.09,188.5ZM1023.04,189.59h4.93v1.1h-4.93ZM1023.65,191.56h3.7v1.2h-3.7ZM1022.91,198.7L1022.42,200.4L1023.65,202.4H1027.35L1028.58,200.4L1028.09,198.7ZM1023.04,196.51h4.93v1.1h-4.93ZM1023.65,194.44h3.7v1.2h-3.7ZM1024.7,188.8h1.6v9.6h-1.6ZM1001.9,193.6L1003.5,192.4L1005.1,193.6L1003.5,194.8ZM1010.7,193.6L1012.3,192.4L1013.9,193.6L1012.3,194.8ZM1019.5,193.6L1021.1,192.4L1022.7,193.6L1021.1,194.8ZM1028.3,193.6L1029.9,192.4L1031.5,193.6L1029.9,194.8Z" fill="#000" fill-opacity="1.0"/>
</g>
<path d="M819,208H1034 M893,176V208" stroke="#bbb" stroke-width="0.5" fill="none" />
<rect x="820.2" y="212.4" width="40.6" height="32.7" fill="#fff" stroke="#333" stroke-width="0.95" />
<path d="M830.5,219.3h4v12.7h9.1v-12.7h4v16.7h-17.1z" fill="#f1edd8" stroke="#555" stroke-width="0.5"/>
<rect x="827" y="220.5" width="3" height="2.8" fill="#b22" stroke="none" stroke-width="1" />
<rect x="848" y="220.5" width="3" height="2.8" fill="#b22" stroke="none" stroke-width="1" />
<rect x="827" y="224.8" width="3" height="2.8" fill="#b22" stroke="none" stroke-width="1" />
<rect x="848" y="224.8" width="3" height="2.8" fill="#b22" stroke="none" stroke-width="1" />
<rect x="827" y="229" width="3" height="2.8" fill="#b22" stroke="none" stroke-width="1" />
<rect x="848" y="229" width="3" height="2.8" fill="#b22" stroke="none" stroke-width="1" />
<rect x="827" y="233.2" width="3" height="2.8" fill="#b22" stroke="none" stroke-width="1" />
<rect x="848" y="233.2" width="3" height="2.8" fill="#b22" stroke="none" stroke-width="1" />
<rect x="831" y="237" width="2.8" height="3.3" fill="#b22" stroke="none" stroke-width="1" />
<rect x="835.5" y="237" width="2.8" height="3.3" fill="#b22" stroke="none" stroke-width="1" />
<rect x="840" y="237" width="2.8" height="3.3" fill="#b22" stroke="none" stroke-width="1" />
<rect x="844.5" y="237" width="2.8" height="3.3" fill="#b22" stroke="none" stroke-width="1" />
<text x="840.8" y="218.6" font-size="8.5" fill="#000" text-anchor="middle" stroke="#000" stroke-width="0.35">A23</text>
<rect x="820.2" y="245.1" width="40.6" height="32.4" fill="#fff" stroke="#333" stroke-width="0.95" />
<rect x="833.9" y="246.8" width="9.2" height="25.2" fill="#f1edd8" stroke="#555" stroke-width="0.5"/>
<path d="M838.5,246.8V272M833.9,251H843.1M833.9,255.2H843.1M833.9,259.4H843.1M833.9,263.6H843.1M833.9,267.8H843.1" stroke="#999" stroke-width="0.3"/>
<rect x="830.2" y="247.5" width="3" height="2.8" fill="#b22" stroke="none" stroke-width="1" />
<rect x="843.8" y="247.5" width="3" height="2.8" fill="#b22" stroke="none" stroke-width="1" />
<rect x="830.2" y="251.7" width="3" height="2.8" fill="#b22" stroke="none" stroke-width="1" />
<rect x="843.8" y="251.7" width="3" height="2.8" fill="#b22" stroke="none" stroke-width="1" />
<rect x="830.2" y="255.9" width="3" height="2.8" fill="#b22" stroke="none" stroke-width="1" />
<rect x="843.8" y="255.9" width="3" height="2.8" fill="#b22" stroke="none" stroke-width="1" />
<rect x="830.2" y="260.1" width="3" height="2.8" fill="#b22" stroke="none" stroke-width="1" />
<rect x="843.8" y="260.1" width="3" height="2.8" fill="#b22" stroke="none" stroke-width="1" />
<rect x="830.2" y="264.3" width="3" height="2.8" fill="#b22" stroke="none" stroke-width="1" />
<rect x="843.8" y="264.3" width="3" height="2.8" fill="#b22" stroke="none" stroke-width="1" />
<rect x="830.2" y="268.5" width="3" height="2.8" fill="#b22" stroke="none" stroke-width="1" />
<rect x="843.8" y="268.5" width="3" height="2.8" fill="#b22" stroke="none" stroke-width="1" />
<text x="836.5" y="278.3" font-size="8.5" fill="#000" text-anchor="middle" stroke="#000" stroke-width="0.35">A22</text>
<rect x="820" y="279.5" width="59" height="28.5" fill="#fff" stroke="#3a3a3a" stroke-width="1.0" />
<path d="M844,279.5V308 M860,279.5V308" stroke="#3a3a3a" stroke-width="0.95" fill="none" />
<rect x="826" y="285" width="8" height="8" fill="#fff" stroke="#333" stroke-width="0.6" />
<path d="M832,293l4,-3M835,296l4,4M828,298l-3,3" stroke="#b22" stroke-width="0"/>
<rect x="834" y="291" width="6" height="6" fill="#f1edd8" stroke="#555" stroke-width="0.5" />
<rect x="832" y="289" width="2.5" height="2.5" fill="#b22" stroke="none" stroke-width="1" />
<rect x="840" y="289" width="2.5" height="2.5" fill="#b22" stroke="none" stroke-width="1" />
<rect x="832" y="297" width="2.5" height="2.5" fill="#b22" stroke="none" stroke-width="1" />
<rect x="840" y="297" width="2.5" height="2.5" fill="#b22" stroke="none" stroke-width="1" />
<g transform="rotate(90 832 287)">
<rect x="829" y="284" width="6" height="6" fill="#fff" stroke="#444" stroke-width="0.75"/><path d="M829,287H835" stroke="#444" stroke-width="0.7"/><path d="M830.61,283.7L830.35,282.75L831.01,281.5H832.99L833.65,282.75L833.39,283.7ZM830.68,284.29h2.64v1.1h-2.64ZM831.01,285.5h1.98v1.2h-1.98ZM830.61,290.3L830.35,291.25L831.01,292.5H832.99L833.65,291.25L833.39,290.3ZM830.68,288.61h2.64v1.1h-2.64ZM831.01,287.3h1.98v1.2h-1.98ZM831.2,284h1.6v6h-1.6ZM827.4,287L829,285.8L830.6,287L829,288.2ZM833.4,287L835,285.8L836.6,287L835,288.2Z" fill="#000" fill-opacity="1.0"/>
</g>
<rect x="848" y="288" width="8" height="10" fill="#f1edd8" stroke="#555" stroke-width="0.5" />
<g transform="rotate(90 852 293)">
<rect x="847" y="290" width="10" height="6" fill="#fff" stroke="#444" stroke-width="0.75"/><path d="M847,293H857M850,290L854,296M854,290L850,296" stroke="#444" stroke-width="0.7"/><path d="M848.11,289.7L847.85,288.75L848.51,287.5H850.49L851.15,288.75L850.89,289.7ZM848.18,290.29h2.64v1.1h-2.64ZM848.51,291.5h1.98v1.2h-1.98ZM848.11,296.3L847.85,297.25L848.51,298.5H850.49L851.15,297.25L850.89,296.3ZM848.18,294.61h2.64v1.1h-2.64ZM848.51,293.3h1.98v1.2h-1.98ZM848.7,290h1.6v6h-1.6ZM853.11,289.7L852.85,288.75L853.51,287.5H855.49L856.15,288.75L855.89,289.7ZM853.18,290.29h2.64v1.1h-2.64ZM853.51,291.5h1.98v1.2h-1.98ZM853.11,296.3L852.85,297.25L853.51,298.5H855.49L856.15,297.25L855.89,296.3ZM853.18,294.61h2.64v1.1h-2.64ZM853.51,293.3h1.98v1.2h-1.98ZM853.7,290h1.6v6h-1.6ZM845.4,293L847,291.8L848.6,293L847,294.2ZM850.4,293L852,291.8L853.6,293L852,294.2ZM855.4,293L857,291.8L858.6,293L857,294.2Z" fill="#000" fill-opacity="1.0"/>
</g>
<rect x="847" y="301" width="2.5" height="2.5" fill="#b22" stroke="none" stroke-width="1" />
<rect x="853" y="301" width="2.5" height="2.5" fill="#b22" stroke="none" stroke-width="1" />
<g transform="rotate(90 869.5 293)">
<rect x="863" y="289.5" width="13" height="7" fill="#fff" stroke="#444" stroke-width="0.75"/><path d="M863,293H876M867.5,289.5L871.5,296.5M871.5,289.5L867.5,296.5" stroke="#444" stroke-width="0.7"/><path d="M864.63,289.2L864.33,288.1L865.1,286.7H867.4L868.17,288.1L867.87,289.2ZM864.71,289.93h3.08v1.1h-3.08ZM865.1,291.35h2.31v1.2h-2.31ZM864.63,296.8L864.33,297.9L865.1,299.3H867.4L868.17,297.9L867.87,296.8ZM864.71,294.97h3.08v1.1h-3.08ZM865.1,293.45h2.31v1.2h-2.31ZM865.45,289.5h1.6v7h-1.6ZM871.13,289.2L870.83,288.1L871.6,286.7H873.9L874.67,288.1L874.37,289.2ZM871.21,289.93h3.08v1.1h-3.08ZM871.6,291.35h2.31v1.2h-2.31ZM871.13,296.8L870.83,297.9L871.6,299.3H873.9L874.67,297.9L874.37,296.8ZM871.21,294.97h3.08v1.1h-3.08ZM871.6,293.45h2.31v1.2h-2.31ZM871.95,289.5h1.6v7h-1.6ZM861.4,293L863,291.8L864.6,293L863,294.2ZM867.9,293L869.5,291.8L871.1,293L869.5,294.2ZM874.4,293L876,291.8L877.6,293L876,294.2Z" fill="#000" fill-opacity="1.0"/>
</g>
<text x="843" y="315" font-size="3.2" fill="#333" text-anchor="middle" >la marque</text>
<rect x="829.5" y="320.8" width="28.2" height="9.2" fill="#fff" stroke="#444" stroke-width="0.75"/><path d="M829.5,325.4H857.7M836.9,320.8L840.9,330M840.9,320.8L836.9,330M846.3,320.8L850.3,330M850.3,320.8L846.3,330" stroke="#444" stroke-width="0.7"/><path d="M831.61,320.5L831.12,318.8L832.35,316.8H836.05L837.28,318.8L836.79,320.5ZM831.74,321.54h4.93v1.1h-4.93ZM832.35,323.42h3.7v1.2h-3.7ZM831.61,330.3L831.12,332L832.35,334H836.05L837.28,332L836.79,330.3ZM831.74,328.16h4.93v1.1h-4.93ZM832.35,326.18h3.7v1.2h-3.7ZM833.4,320.8h1.6v9.2h-1.6ZM841.01,320.5L840.52,318.8L841.75,316.8H845.45L846.68,318.8L846.19,320.5ZM841.14,321.54h4.93v1.1h-4.93ZM841.75,323.42h3.7v1.2h-3.7ZM841.01,330.3L840.52,332L841.75,334H845.45L846.68,332L846.19,330.3ZM841.14,328.16h4.93v1.1h-4.93ZM841.75,326.18h3.7v1.2h-3.7ZM842.8,320.8h1.6v9.2h-1.6ZM850.41,320.5L849.92,318.8L851.15,316.8H854.85L856.08,318.8L855.59,320.5ZM850.54,321.54h4.93v1.1h-4.93ZM851.15,323.42h3.7v1.2h-3.7ZM850.41,330.3L849.92,332L851.15,334H854.85L856.08,332L855.59,330.3ZM850.54,328.16h4.93v1.1h-4.93ZM851.15,326.18h3.7v1.2h-3.7ZM852.2,320.8h1.6v9.2h-1.6ZM827.9,325.4L829.5,324.2L831.1,325.4L829.5,326.6ZM837.3,325.4L838.9,324.2L840.5,325.4L838.9,326.6ZM846.7,325.4L848.3,324.2L849.9,325.4L848.3,326.6ZM856.1,325.4L857.7,324.2L859.3,325.4L857.7,326.6Z" fill="#000" fill-opacity="1.0"/>
<rect x="864.5" y="320.8" width="9" height="9.2" fill="#fff" stroke="#444" stroke-width="0.75"/><path d="M864.5,325.4H873.5" stroke="#444" stroke-width="0.7"/><path d="M866.97,320.5L866.58,318.9L867.55,317H870.45L871.42,318.9L871.03,320.5ZM867.06,321.54h3.87v1.1h-3.87ZM867.55,323.42h2.9v1.2h-2.9ZM866.97,330.3L866.58,331.9L867.55,333.8H870.45L871.42,331.9L871.03,330.3ZM867.06,328.16h3.87v1.1h-3.87ZM867.55,326.18h2.9v1.2h-2.9ZM868.2,320.8h1.6v9.2h-1.6ZM862.9,325.4L864.5,324.2L866.1,325.4L864.5,326.6ZM871.9,325.4L873.5,324.2L875.1,325.4L873.5,326.6Z" fill="#000" fill-opacity="1.0"/>
<rect x="872" y="318" width="3" height="12" fill="#fff" stroke="#555" stroke-width="0.5"/>
<text x="843" y="341" font-size="3.2" fill="#333" text-anchor="middle" >la marque</text>
<rect x="830.9" y="347.9" width="28.2" height="9.2" fill="#fff" stroke="#444" stroke-width="0.75"/><path d="M830.9,352.5H859.1M838.3,347.9L842.3,357.1M842.3,347.9L838.3,357.1M847.7,347.9L851.7,357.1M851.7,347.9L847.7,357.1" stroke="#444" stroke-width="0.7"/><path d="M833.01,347.6L832.52,345.9L833.75,343.9H837.45L838.68,345.9L838.19,347.6ZM833.14,348.64h4.93v1.1h-4.93ZM833.75,350.52h3.7v1.2h-3.7ZM833.01,357.4L832.52,359.1L833.75,361.1H837.45L838.68,359.1L838.19,357.4ZM833.14,355.26h4.93v1.1h-4.93ZM833.75,353.28h3.7v1.2h-3.7ZM834.8,347.9h1.6v9.2h-1.6ZM842.41,347.6L841.92,345.9L843.15,343.9H846.85L848.08,345.9L847.59,347.6ZM842.54,348.64h4.93v1.1h-4.93ZM843.15,350.52h3.7v1.2h-3.7ZM842.41,357.4L841.92,359.1L843.15,361.1H846.85L848.08,359.1L847.59,357.4ZM842.54,355.26h4.93v1.1h-4.93ZM843.15,353.28h3.7v1.2h-3.7ZM844.2,347.9h1.6v9.2h-1.6ZM851.81,347.6L851.32,345.9L852.55,343.9H856.25L857.48,345.9L856.99,347.6ZM851.94,348.64h4.93v1.1h-4.93ZM852.55,350.52h3.7v1.2h-3.7ZM851.81,357.4L851.32,359.1L852.55,361.1H856.25L857.48,359.1L856.99,357.4ZM851.94,355.26h4.93v1.1h-4.93ZM852.55,353.28h3.7v1.2h-3.7ZM853.6,347.9h1.6v9.2h-1.6ZM829.3,352.5L830.9,351.3L832.5,352.5L830.9,353.7ZM838.7,352.5L840.3,351.3L841.9,352.5L840.3,353.7ZM848.1,352.5L849.7,351.3L851.3,352.5L849.7,353.7ZM857.5,352.5L859.1,351.3L860.7,352.5L859.1,353.7Z" fill="#000" fill-opacity="1.0"/>
<text x="843" y="368" font-size="3.2" fill="#333" text-anchor="middle" >la marque</text>
<rect x="830.4" y="374.7" width="28.2" height="9.2" fill="#fff" stroke="#444" stroke-width="0.75"/><path d="M830.4,379.3H858.6M837.8,374.7L841.8,383.9M841.8,374.7L837.8,383.9M847.2,374.7L851.2,383.9M851.2,374.7L847.2,383.9" stroke="#444" stroke-width="0.7"/><path d="M832.51,374.4L832.02,372.7L833.25,370.7H836.95L838.18,372.7L837.69,374.4ZM832.64,375.44h4.93v1.1h-4.93ZM833.25,377.32h3.7v1.2h-3.7ZM832.51,384.2L832.02,385.9L833.25,387.9H836.95L838.18,385.9L837.69,384.2ZM832.64,382.06h4.93v1.1h-4.93ZM833.25,380.08h3.7v1.2h-3.7ZM834.3,374.7h1.6v9.2h-1.6ZM841.91,374.4L841.42,372.7L842.65,370.7H846.35L847.58,372.7L847.09,374.4ZM842.04,375.44h4.93v1.1h-4.93ZM842.65,377.32h3.7v1.2h-3.7ZM841.91,384.2L841.42,385.9L842.65,387.9H846.35L847.58,385.9L847.09,384.2ZM842.04,382.06h4.93v1.1h-4.93ZM842.65,380.08h3.7v1.2h-3.7ZM843.7,374.7h1.6v9.2h-1.6ZM851.31,374.4L850.82,372.7L852.05,370.7H855.75L856.98,372.7L856.49,374.4ZM851.44,375.44h4.93v1.1h-4.93ZM852.05,377.32h3.7v1.2h-3.7ZM851.31,384.2L850.82,385.9L852.05,387.9H855.75L856.98,385.9L856.49,384.2ZM851.44,382.06h4.93v1.1h-4.93ZM852.05,380.08h3.7v1.2h-3.7ZM853.1,374.7h1.6v9.2h-1.6ZM828.8,379.3L830.4,378.1L832,379.3L830.4,380.5ZM838.2,379.3L839.8,378.1L841.4,379.3L839.8,380.5ZM847.6,379.3L849.2,378.1L850.8,379.3L849.2,380.5ZM857,379.3L858.6,378.1L860.2,379.3L858.6,380.5Z" fill="#000" fill-opacity="1.0"/>
<path d="M860,378V444.5" stroke="#333" stroke-width="1" fill="none" />
<text x="843" y="396" font-size="3.2" fill="#333" text-anchor="middle" >la marque</text>
<rect x="831.6" y="402.4" width="28.2" height="9.2" fill="#fff" stroke="#444" stroke-width="0.75"/><path d="M831.6,407H859.8M839,402.4L843,411.6M843,402.4L839,411.6M848.4,402.4L852.4,411.6M852.4,402.4L848.4,411.6" stroke="#444" stroke-width="0.7"/><path d="M833.71,402.1L833.22,400.4L834.45,398.4H838.15L839.38,400.4L838.89,402.1ZM833.84,403.14h4.93v1.1h-4.93ZM834.45,405.02h3.7v1.2h-3.7ZM833.71,411.9L833.22,413.6L834.45,415.6H838.15L839.38,413.6L838.89,411.9ZM833.84,409.76h4.93v1.1h-4.93ZM834.45,407.78h3.7v1.2h-3.7ZM835.5,402.4h1.6v9.2h-1.6ZM843.11,402.1L842.62,400.4L843.85,398.4H847.55L848.78,400.4L848.29,402.1ZM843.24,403.14h4.93v1.1h-4.93ZM843.85,405.02h3.7v1.2h-3.7ZM843.11,411.9L842.62,413.6L843.85,415.6H847.55L848.78,413.6L848.29,411.9ZM843.24,409.76h4.93v1.1h-4.93ZM843.85,407.78h3.7v1.2h-3.7ZM844.9,402.4h1.6v9.2h-1.6ZM852.51,402.1L852.02,400.4L853.25,398.4H856.95L858.18,400.4L857.69,402.1ZM852.64,403.14h4.93v1.1h-4.93ZM853.25,405.02h3.7v1.2h-3.7ZM852.51,411.9L852.02,413.6L853.25,415.6H856.95L858.18,413.6L857.69,411.9ZM852.64,409.76h4.93v1.1h-4.93ZM853.25,407.78h3.7v1.2h-3.7ZM854.3,402.4h1.6v9.2h-1.6ZM830,407L831.6,405.8L833.2,407L831.6,408.2ZM839.4,407L841,405.8L842.6,407L841,408.2ZM848.8,407L850.4,405.8L852,407L850.4,408.2ZM858.2,407L859.8,405.8L861.4,407L859.8,408.2Z" fill="#000" fill-opacity="1.0"/>
<text x="843" y="421" font-size="3.2" fill="#333" text-anchor="middle" >la marque</text>
<rect x="831.6" y="428.6" width="28.2" height="9.2" fill="#fff" stroke="#444" stroke-width="0.75"/><path d="M831.6,433.2H859.8M839,428.6L843,437.8M843,428.6L839,437.8M848.4,428.6L852.4,437.8M852.4,428.6L848.4,437.8" stroke="#444" stroke-width="0.7"/><path d="M833.71,428.3L833.22,426.6L834.45,424.6H838.15L839.38,426.6L838.89,428.3ZM833.84,429.34h4.93v1.1h-4.93ZM834.45,431.22h3.7v1.2h-3.7ZM833.71,438.1L833.22,439.8L834.45,441.8H838.15L839.38,439.8L838.89,438.1ZM833.84,435.96h4.93v1.1h-4.93ZM834.45,433.98h3.7v1.2h-3.7ZM835.5,428.6h1.6v9.2h-1.6ZM843.11,428.3L842.62,426.6L843.85,424.6H847.55L848.78,426.6L848.29,428.3ZM843.24,429.34h4.93v1.1h-4.93ZM843.85,431.22h3.7v1.2h-3.7ZM843.11,438.1L842.62,439.8L843.85,441.8H847.55L848.78,439.8L848.29,438.1ZM843.24,435.96h4.93v1.1h-4.93ZM843.85,433.98h3.7v1.2h-3.7ZM844.9,428.6h1.6v9.2h-1.6ZM852.51,428.3L852.02,426.6L853.25,424.6H856.95L858.18,426.6L857.69,428.3ZM852.64,429.34h4.93v1.1h-4.93ZM853.25,431.22h3.7v1.2h-3.7ZM852.51,438.1L852.02,439.8L853.25,441.8H856.95L858.18,439.8L857.69,438.1ZM852.64,435.96h4.93v1.1h-4.93ZM853.25,433.98h3.7v1.2h-3.7ZM854.3,428.6h1.6v9.2h-1.6ZM830,433.2L831.6,432L833.2,433.2L831.6,434.4ZM839.4,433.2L841,432L842.6,433.2L841,434.4ZM848.8,433.2L850.4,432L852,433.2L850.4,434.4ZM858.2,433.2L859.8,432L861.4,433.2L859.8,434.4Z" fill="#000" fill-opacity="1.0"/>
<text x="839" y="447" font-size="3.2" fill="#333" text-anchor="middle" >la marque</text>
<g transform="rotate(90 838.9 464)">
<rect x="824.8" y="459.4" width="28.2" height="9.2" fill="#fff" stroke="#444" stroke-width="0.75"/><path d="M824.8,464H853M832.2,459.4L836.2,468.6M836.2,459.4L832.2,468.6M841.6,459.4L845.6,468.6M845.6,459.4L841.6,468.6" stroke="#444" stroke-width="0.7"/><path d="M827.47,459.1L827.08,457.4L828.05,455.4H830.95L831.92,457.4L831.53,459.1ZM827.56,460.14h3.87v1.1h-3.87ZM828.05,462.02h2.9v1.2h-2.9ZM827.47,468.9L827.08,470.6L828.05,472.6H830.95L831.92,470.6L831.53,468.9ZM827.56,466.76h3.87v1.1h-3.87ZM828.05,464.78h2.9v1.2h-2.9ZM828.7,459.4h1.6v9.2h-1.6ZM836.87,459.1L836.48,457.4L837.45,455.4H840.35L841.32,457.4L840.93,459.1ZM836.96,460.14h3.87v1.1h-3.87ZM837.45,462.02h2.9v1.2h-2.9ZM836.87,468.9L836.48,470.6L837.45,472.6H840.35L841.32,470.6L840.93,468.9ZM836.96,466.76h3.87v1.1h-3.87ZM837.45,464.78h2.9v1.2h-2.9ZM838.1,459.4h1.6v9.2h-1.6ZM846.27,459.1L845.88,457.4L846.85,455.4H849.75L850.72,457.4L850.33,459.1ZM846.36,460.14h3.87v1.1h-3.87ZM846.85,462.02h2.9v1.2h-2.9ZM846.27,468.9L845.88,470.6L846.85,472.6H849.75L850.72,470.6L850.33,468.9ZM846.36,466.76h3.87v1.1h-3.87ZM846.85,464.78h2.9v1.2h-2.9ZM847.5,459.4h1.6v9.2h-1.6ZM823.2,464L824.8,462.8L826.4,464L824.8,465.2ZM832.6,464L834.2,462.8L835.8,464L834.2,465.2ZM842,464L843.6,462.8L845.2,464L843.6,465.2ZM851.4,464L853,462.8L854.6,464L853,465.2Z" fill="#000" fill-opacity="1.0"/>
</g>
<g transform="rotate(90 873 467)">
<rect x="863" y="462.4" width="20" height="9.2" fill="#fff" stroke="#444" stroke-width="0.75"/><path d="M863,467H883M871,462.4L875,471.6M875,462.4L871,471.6" stroke="#444" stroke-width="0.7"/><path d="M865.97,462.1L865.58,460.4L866.55,458.4H869.45L870.42,460.4L870.03,462.1ZM866.06,463.14h3.87v1.1h-3.87ZM866.55,465.02h2.9v1.2h-2.9ZM865.97,471.9L865.58,473.6L866.55,475.6H869.45L870.42,473.6L870.03,471.9ZM866.06,469.76h3.87v1.1h-3.87ZM866.55,467.78h2.9v1.2h-2.9ZM867.2,462.4h1.6v9.2h-1.6ZM875.97,462.1L875.58,460.4L876.55,458.4H879.45L880.42,460.4L880.03,462.1ZM876.06,463.14h3.87v1.1h-3.87ZM876.55,465.02h2.9v1.2h-2.9ZM875.97,471.9L875.58,473.6L876.55,475.6H879.45L880.42,473.6L880.03,471.9ZM876.06,469.76h3.87v1.1h-3.87ZM876.55,467.78h2.9v1.2h-2.9ZM877.2,462.4h1.6v9.2h-1.6ZM861.4,467L863,465.8L864.6,467L863,468.2ZM871.4,467L873,465.8L874.6,467L873,468.2ZM881.4,467L883,465.8L884.6,467L883,468.2Z" fill="#000" fill-opacity="1.0"/>
</g>
<rect x="857" y="458" width="3" height="13" fill="#fff" stroke="#555" stroke-width="0.5"/>
<rect x="871.1" y="214.2" width="21.2" height="31.5" fill="#fff" stroke="#222" stroke-width="1"/><path d="M871.1,225.22H892.3M871.1,227.42H892.3M871.1,229.62H892.3M871.1,231.82H892.3M871.1,234.02H892.3M871.1,236.22H892.3M871.1,238.42H892.3M871.1,240.62H892.3M871.1,242.82H892.3M871.1,245.02H892.3" stroke="#777" stroke-width="0.5"/><rect x="879.7" y="225.22" width="4" height="19.53" fill="#fff" stroke="#222" stroke-width="0.8"/><path d="M872.6,226.8 A9.1,9.45 0 0 1 890.8,226.8" stroke="#bbb" stroke-width="0.5" fill="none"/>
<rect x="877.4" y="255.4" width="14.3" height="13.2" fill="#fff" stroke="#111" stroke-width="1.8" />
<rect x="880.5" y="258.5" width="8.1" height="7" fill="#fff" stroke="#3a3a3a" stroke-width="0.8" />
<path d="M880.5,262H888.6M884.5,258.5V265.5" stroke="#333" stroke-width="0.6" fill="none" />
<rect x="876.9" y="389.1" width="16" height="12.2" fill="#fff" stroke="#3a3a3a" stroke-width="1.5" />
<rect x="880.5" y="390.5" width="9.5" height="8.5" fill="#fff" stroke="#3a3a3a" stroke-width="1" />
<rect x="883" y="393" width="4.5" height="4" fill="#444" stroke="none" stroke-width="1" />
<rect x="871.3" y="410.7" width="21.6" height="32.8" fill="#fff" stroke="#222" stroke-width="1"/><path d="M871.3,422.18H892.9M871.3,424.38H892.9M871.3,426.58H892.9M871.3,428.78H892.9M871.3,430.98H892.9M871.3,433.18H892.9M871.3,435.38H892.9M871.3,437.58H892.9M871.3,439.78H892.9M871.3,441.98H892.9" stroke="#777" stroke-width="0.5"/><rect x="880.1" y="422.18" width="4" height="20.34" fill="#fff" stroke="#222" stroke-width="0.8"/><path d="M872.8,423.82 A9.3,9.84 0 0 1 891.4,423.82" stroke="#bbb" stroke-width="0.5" fill="none"/>
<path d="M892.5,212.5L965,279M965,212.5L892.5,279" stroke="#d8d8d8" stroke-width="0.6"/><rect x="892.5" y="212.5" width="72.5" height="66.5" fill="none" stroke="#999" stroke-width="0.8" stroke-dasharray="2,1"/>
<path d="M892.5,379L965,444M965,379L892.5,444" stroke="#d8d8d8" stroke-width="0.6"/><rect x="892.5" y="379" width="72.5" height="65" fill="none" stroke="#999" stroke-width="0.8" stroke-dasharray="2,1"/>
<path d="M893,278.75L965,378.75M965,278.75L893,378.75" stroke="#555" stroke-width="0.6"/>
<rect x="893" y="278.75" width="72" height="100" fill="none" stroke="#222" stroke-width="0.9" stroke-dasharray="2,1"/>
<path d="M895,302H963.5 M895,355H963.5 M963.5,302V355" stroke="#333" stroke-width="0.9" fill="none" />
<rect x="894.4" y="311" width="13.6" height="34.6" fill="none" stroke="#d33" stroke-width="1" />
<text x="898" y="329" font-size="5" fill="#444" text-anchor="start" >L.T.</text>
<path d="M910,328.2H963 M910,330.8H963" stroke="#222" stroke-width="1.3" fill="none" />
<path d="M914.5,316V340M921,316V340M927.5,316V340M933.5,316V340M939.5,316V340M945.5,316V340M951.5,316V340" stroke="#333" stroke-width="0.8" fill="none" />
<path d="M911.5,322.5h2.2v3h-2.2zM911.5,333.5h2.2v3h-2.2zM918,322.5h2.2v3h-2.2zM918,333.5h2.2v3h-2.2zM924.5,322.5h2.2v3h-2.2zM924.5,333.5h2.2v3h-2.2zM930.5,322.5h2.2v3h-2.2zM930.5,333.5h2.2v3h-2.2zM936.5,322.5h2.2v3h-2.2zM936.5,333.5h2.2v3h-2.2zM942.5,322.5h2.2v3h-2.2zM942.5,333.5h2.2v3h-2.2zM948.5,322.5h2.2v3h-2.2zM948.5,333.5h2.2v3h-2.2z" fill="#999"/>
<circle cx="942.5" cy="297" r="5.5" fill="#fff" stroke="#333" stroke-width="0.7"/>
<rect x="939.5" y="295.2" width="6" height="3.6" fill="#222" stroke="none" stroke-width="1" />
<rect x="940.7" y="296.2" width="3.6" height="1.6" fill="#fff" stroke="none" stroke-width="1" />
<circle cx="942.5" cy="359" r="5.5" fill="#fff" stroke="#333" stroke-width="0.7"/>
<rect x="939.5" y="357.2" width="6" height="3.6" fill="#222" stroke="none" stroke-width="1" />
<rect x="940.7" y="358.2" width="3.6" height="1.6" fill="#fff" stroke="none" stroke-width="1" />
<circle cx="897" cy="286" r="1.8" fill="none" stroke="#555" stroke-width="0.5"/>
<circle cx="961" cy="288" r="1.8" fill="none" stroke="#555" stroke-width="0.5"/>
<circle cx="897" cy="359" r="1.8" fill="none" stroke="#555" stroke-width="0.5"/>
<circle cx="961" cy="359" r="1.8" fill="none" stroke="#555" stroke-width="0.5"/>
<path d="M964.4,212V444.6" stroke="#444" stroke-width="0.8" fill="none" />
<rect x="978.5" y="221.3" width="18" height="8.4" fill="#fff" stroke="#444" stroke-width="0.75"/><path d="M978.5,225.5H996.5M985.5,221.3L989.5,229.7M989.5,221.3L985.5,229.7" stroke="#444" stroke-width="0.7"/><path d="M980.92,221L980.52,219.3L981.51,217.3H984.49L985.48,219.3L985.08,221ZM981.02,221.93h3.96v1.1h-3.96ZM981.51,223.64h2.97v1.2h-2.97ZM980.92,230L980.52,231.7L981.51,233.7H984.49L985.48,231.7L985.08,230ZM981.02,227.97h3.96v1.1h-3.96ZM981.51,226.16h2.97v1.2h-2.97ZM982.2,221.3h1.6v8.4h-1.6ZM989.92,221L989.52,219.3L990.51,217.3H993.49L994.48,219.3L994.08,221ZM990.02,221.93h3.96v1.1h-3.96ZM990.51,223.64h2.97v1.2h-2.97ZM989.92,230L989.52,231.7L990.51,233.7H993.49L994.48,231.7L994.08,230ZM990.02,227.97h3.96v1.1h-3.96ZM990.51,226.16h2.97v1.2h-2.97ZM991.2,221.3h1.6v8.4h-1.6ZM976.9,225.5L978.5,224.3L980.1,225.5L978.5,226.7ZM985.9,225.5L987.5,224.3L989.1,225.5L987.5,226.7ZM994.9,225.5L996.5,224.3L998.1,225.5L996.5,226.7Z" fill="#000" fill-opacity="1.0"/>
<rect x="1012.2" y="221.3" width="17.6" height="8.4" fill="#fff" stroke="#444" stroke-width="0.75"/><path d="M1012.2,225.5H1029.8M1019,221.3L1023,229.7M1023,221.3L1019,229.7" stroke="#444" stroke-width="0.7"/><path d="M1014.52,221L1014.12,219.3L1015.12,217.3H1018.09L1019.08,219.3L1018.68,221ZM1014.62,221.93h3.96v1.1h-3.96ZM1015.12,223.64h2.97v1.2h-2.97ZM1014.52,230L1014.12,231.7L1015.12,233.7H1018.09L1019.08,231.7L1018.68,230ZM1014.62,227.97h3.96v1.1h-3.96ZM1015.12,226.16h2.97v1.2h-2.97ZM1015.8,221.3h1.6v8.4h-1.6ZM1023.32,221L1022.93,219.3L1023.92,217.3H1026.88L1027.88,219.3L1027.48,221ZM1023.42,221.93h3.96v1.1h-3.96ZM1023.92,223.64h2.97v1.2h-2.97ZM1023.32,230L1022.93,231.7L1023.92,233.7H1026.88L1027.88,231.7L1027.48,230ZM1023.42,227.97h3.96v1.1h-3.96ZM1023.92,226.16h2.97v1.2h-2.97ZM1024.6,221.3h1.6v8.4h-1.6ZM1010.6,225.5L1012.2,224.3L1013.8,225.5L1012.2,226.7ZM1019.4,225.5L1021,224.3L1022.6,225.5L1021,226.7ZM1028.2,225.5L1029.8,224.3L1031.4,225.5L1029.8,226.7Z" fill="#000" fill-opacity="1.0"/>
<rect x="977" y="218" width="3" height="15" fill="#fff" stroke="#555" stroke-width="0.5"/>
<rect x="979" y="249.8" width="18" height="8.4" fill="#fff" stroke="#444" stroke-width="0.75"/><path d="M979,254H997M986,249.8L990,258.2M990,249.8L986,258.2" stroke="#444" stroke-width="0.7"/><path d="M981.42,249.5L981.02,247.8L982.01,245.8H984.99L985.98,247.8L985.58,249.5ZM981.52,250.43h3.96v1.1h-3.96ZM982.01,252.14h2.97v1.2h-2.97ZM981.42,258.5L981.02,260.2L982.01,262.2H984.99L985.98,260.2L985.58,258.5ZM981.52,256.47h3.96v1.1h-3.96ZM982.01,254.66h2.97v1.2h-2.97ZM982.7,249.8h1.6v8.4h-1.6ZM990.42,249.5L990.02,247.8L991.01,245.8H993.99L994.98,247.8L994.58,249.5ZM990.52,250.43h3.96v1.1h-3.96ZM991.01,252.14h2.97v1.2h-2.97ZM990.42,258.5L990.02,260.2L991.01,262.2H993.99L994.98,260.2L994.58,258.5ZM990.52,256.47h3.96v1.1h-3.96ZM991.01,254.66h2.97v1.2h-2.97ZM991.7,249.8h1.6v8.4h-1.6ZM977.4,254L979,252.8L980.6,254L979,255.2ZM986.4,254L988,252.8L989.6,254L988,255.2ZM995.4,254L997,252.8L998.6,254L997,255.2Z" fill="#000" fill-opacity="1.0"/>
<rect x="1012.2" y="249.8" width="17.6" height="8.4" fill="#fff" stroke="#444" stroke-width="0.75"/><path d="M1012.2,254H1029.8M1019,249.8L1023,258.2M1023,249.8L1019,258.2" stroke="#444" stroke-width="0.7"/><path d="M1014.52,249.5L1014.12,247.8L1015.12,245.8H1018.09L1019.08,247.8L1018.68,249.5ZM1014.62,250.43h3.96v1.1h-3.96ZM1015.12,252.14h2.97v1.2h-2.97ZM1014.52,258.5L1014.12,260.2L1015.12,262.2H1018.09L1019.08,260.2L1018.68,258.5ZM1014.62,256.47h3.96v1.1h-3.96ZM1015.12,254.66h2.97v1.2h-2.97ZM1015.8,249.8h1.6v8.4h-1.6ZM1023.32,249.5L1022.93,247.8L1023.92,245.8H1026.88L1027.88,247.8L1027.48,249.5ZM1023.42,250.43h3.96v1.1h-3.96ZM1023.92,252.14h2.97v1.2h-2.97ZM1023.32,258.5L1022.93,260.2L1023.92,262.2H1026.88L1027.88,260.2L1027.48,258.5ZM1023.42,256.47h3.96v1.1h-3.96ZM1023.92,254.66h2.97v1.2h-2.97ZM1024.6,249.8h1.6v8.4h-1.6ZM1010.6,254L1012.2,252.8L1013.8,254L1012.2,255.2ZM1019.4,254L1021,252.8L1022.6,254L1021,255.2ZM1028.2,254L1029.8,252.8L1031.4,254L1029.8,255.2Z" fill="#000" fill-opacity="1.0"/>
<rect x="977.5" y="248" width="3" height="12" fill="#fff" stroke="#555" stroke-width="0.5"/>
<rect x="979.5" y="270" width="2.5" height="13" fill="#111" stroke="none" stroke-width="1" />
<rect x="982" y="273" width="8" height="9" fill="#fff" stroke="#444" stroke-width="0.6" />
<rect x="983" y="269" width="3" height="3" fill="#cc4" stroke="#553" stroke-width="0.4" />
<rect x="987" y="269" width="3" height="3" fill="#cc4" stroke="#553" stroke-width="0.4" />
<rect x="997.5" y="270" width="36.5" height="17.5" fill="#fff" stroke="#3a3a3a" stroke-width="0.95" />
<rect x="1003" y="273" width="5" height="6" fill="#f1edd8" stroke="#555" stroke-width="0.5" />
<rect x="1000" y="273" width="2.5" height="2.3" fill="#b22" stroke="none" stroke-width="1" />
<rect x="1000" y="277" width="2.5" height="2.3" fill="#b22" stroke="none" stroke-width="1" />
<rect x="1000" y="281" width="2.5" height="2.3" fill="#b22" stroke="none" stroke-width="1" />
<rect x="1009" y="274" width="4" height="4" fill="#222" stroke="none" stroke-width="1" />
<g transform="rotate(90 992.3 302)">
<rect x="982.9" y="297.6" width="18.8" height="8.8" fill="#fff" stroke="#444" stroke-width="0.75"/><path d="M982.9,302H1001.7M990.3,297.6L994.3,306.4M994.3,297.6L990.3,306.4" stroke="#444" stroke-width="0.7"/><path d="M985.57,297.3L985.18,295.7L986.15,293.8H989.05L990.02,295.7L989.63,297.3ZM985.66,298.28h3.87v1.1h-3.87ZM986.15,300.08h2.9v1.2h-2.9ZM985.57,306.7L985.18,308.3L986.15,310.2H989.05L990.02,308.3L989.63,306.7ZM985.66,304.62h3.87v1.1h-3.87ZM986.15,302.72h2.9v1.2h-2.9ZM986.8,297.6h1.6v8.8h-1.6ZM994.97,297.3L994.58,295.7L995.55,293.8H998.45L999.42,295.7L999.03,297.3ZM995.06,298.28h3.87v1.1h-3.87ZM995.55,300.08h2.9v1.2h-2.9ZM994.97,306.7L994.58,308.3L995.55,310.2H998.45L999.42,308.3L999.03,306.7ZM995.06,304.62h3.87v1.1h-3.87ZM995.55,302.72h2.9v1.2h-2.9ZM996.2,297.6h1.6v8.8h-1.6ZM981.3,302L982.9,300.8L984.5,302L982.9,303.2ZM990.7,302L992.3,300.8L993.9,302L992.3,303.2ZM1000.1,302L1001.7,300.8L1003.3,302L1001.7,303.2Z" fill="#000" fill-opacity="1.0"/>
</g>
<rect x="1012" y="302.4" width="18" height="8.4" fill="#fff" stroke="#444" stroke-width="0.75"/><path d="M1012,306.6H1030M1019,302.4L1023,310.8M1023,302.4L1019,310.8" stroke="#444" stroke-width="0.7"/><path d="M1014.42,302.1L1014.02,300.6L1015.01,298.8H1017.99L1018.98,300.6L1018.58,302.1ZM1014.52,303.03h3.96v1.1h-3.96ZM1015.01,304.74h2.97v1.2h-2.97ZM1014.42,311.1L1014.02,312.6L1015.01,314.4H1017.99L1018.98,312.6L1018.58,311.1ZM1014.52,309.07h3.96v1.1h-3.96ZM1015.01,307.26h2.97v1.2h-2.97ZM1015.7,302.4h1.6v8.4h-1.6ZM1023.42,302.1L1023.02,300.6L1024.02,298.8H1026.98L1027.97,300.6L1027.58,302.1ZM1023.52,303.03h3.96v1.1h-3.96ZM1024.02,304.74h2.97v1.2h-2.97ZM1023.42,311.1L1023.02,312.6L1024.02,314.4H1026.98L1027.97,312.6L1027.58,311.1ZM1023.52,309.07h3.96v1.1h-3.96ZM1024.02,307.26h2.97v1.2h-2.97ZM1024.7,302.4h1.6v8.4h-1.6ZM1010.4,306.6L1012,305.4L1013.6,306.6L1012,307.8ZM1019.4,306.6L1021,305.4L1022.6,306.6L1021,307.8ZM1028.4,306.6L1030,305.4L1031.6,306.6L1030,307.8Z" fill="#000" fill-opacity="1.0"/>
<rect x="977" y="290" width="3" height="22" fill="#fff" stroke="#555" stroke-width="0.5"/>
<path d="M983,320.6h13.5v15h-4.5v-10h-9z" fill="#c22" stroke="#600" stroke-width="0.4"/>
<rect x="985.5" y="326" width="5.5" height="8" fill="#fff" stroke="#333" stroke-width="0.6" />
<circle cx="981.8" cy="329" r="1.7" fill="#b22"/>
<rect x="991.5" y="335" width="3.5" height="3.3" fill="#fff" stroke="#333" stroke-width="0.6" />
<g transform="rotate(90 1003.2 335)">
<rect x="995.2" y="332.2" width="16" height="5.6" fill="#fff" stroke="#444" stroke-width="0.75"/><path d="M995.2,335H1011.2M1001.2,332.2L1005.2,337.8M1005.2,332.2L1001.2,337.8" stroke="#444" stroke-width="0.7"/><path d="M997.58,331.9L997.28,330.95L998.05,329.7H1000.36L1001.12,330.95L1000.82,331.9ZM997.66,332.43h3.08v1.1h-3.08ZM998.05,333.56h2.31v1.2h-2.31ZM997.58,338.1L997.28,339.05L998.05,340.3H1000.36L1001.12,339.05L1000.82,338.1ZM997.66,336.47h3.08v1.1h-3.08ZM998.05,335.24h2.31v1.2h-2.31ZM998.4,332.2h1.6v5.6h-1.6ZM1005.58,331.9L1005.28,330.95L1006.05,329.7H1008.36L1009.12,330.95L1008.82,331.9ZM1005.66,332.43h3.08v1.1h-3.08ZM1006.05,333.56h2.31v1.2h-2.31ZM1005.58,338.1L1005.28,339.05L1006.05,340.3H1008.36L1009.12,339.05L1008.82,338.1ZM1005.66,336.47h3.08v1.1h-3.08ZM1006.05,335.24h2.31v1.2h-2.31ZM1006.4,332.2h1.6v5.6h-1.6ZM993.6,335L995.2,333.8L996.8,335L995.2,336.2ZM1001.6,335L1003.2,333.8L1004.8,335L1003.2,336.2ZM1009.6,335L1011.2,333.8L1012.8,335L1011.2,336.2Z" fill="#000" fill-opacity="1.0"/>
</g>
<rect x="1012" y="331.6" width="18" height="8.4" fill="#fff" stroke="#444" stroke-width="0.75"/><path d="M1012,335.8H1030M1019,331.6L1023,340M1023,331.6L1019,340" stroke="#444" stroke-width="0.7"/><path d="M1014.42,331.3L1014.02,329.8L1015.01,328H1017.99L1018.98,329.8L1018.58,331.3ZM1014.52,332.23h3.96v1.1h-3.96ZM1015.01,333.94h2.97v1.2h-2.97ZM1014.42,340.3L1014.02,341.8L1015.01,343.6H1017.99L1018.98,341.8L1018.58,340.3ZM1014.52,338.27h3.96v1.1h-3.96ZM1015.01,336.46h2.97v1.2h-2.97ZM1015.7,331.6h1.6v8.4h-1.6ZM1023.42,331.3L1023.02,329.8L1024.02,328H1026.98L1027.97,329.8L1027.58,331.3ZM1023.52,332.23h3.96v1.1h-3.96ZM1024.02,333.94h2.97v1.2h-2.97ZM1023.42,340.3L1023.02,341.8L1024.02,343.6H1026.98L1027.97,341.8L1027.58,340.3ZM1023.52,338.27h3.96v1.1h-3.96ZM1024.02,336.46h2.97v1.2h-2.97ZM1024.7,331.6h1.6v8.4h-1.6ZM1010.4,335.8L1012,334.6L1013.6,335.8L1012,337ZM1019.4,335.8L1021,334.6L1022.6,335.8L1021,337ZM1028.4,335.8L1030,334.6L1031.6,335.8L1030,337Z" fill="#000" fill-opacity="1.0"/>
<g transform="rotate(90 992.3 362.9)">
<rect x="982.5" y="358.5" width="19.6" height="8.8" fill="#fff" stroke="#444" stroke-width="0.75"/><path d="M982.5,362.9H1002.1M990.3,358.5L994.3,367.3M994.3,358.5L990.3,367.3" stroke="#444" stroke-width="0.7"/><path d="M985.37,358.2L984.98,356.6L985.95,354.7H988.85L989.82,356.6L989.43,358.2ZM985.46,359.18h3.87v1.1h-3.87ZM985.95,360.98h2.9v1.2h-2.9ZM985.37,367.6L984.98,369.2L985.95,371.1H988.85L989.82,369.2L989.43,367.6ZM985.46,365.52h3.87v1.1h-3.87ZM985.95,363.62h2.9v1.2h-2.9ZM986.6,358.5h1.6v8.8h-1.6ZM995.17,358.2L994.78,356.6L995.75,354.7H998.65L999.62,356.6L999.23,358.2ZM995.26,359.18h3.87v1.1h-3.87ZM995.75,360.98h2.9v1.2h-2.9ZM995.17,367.6L994.78,369.2L995.75,371.1H998.65L999.62,369.2L999.23,367.6ZM995.26,365.52h3.87v1.1h-3.87ZM995.75,363.62h2.9v1.2h-2.9ZM996.4,358.5h1.6v8.8h-1.6ZM980.9,362.9L982.5,361.7L984.1,362.9L982.5,364.1ZM990.7,362.9L992.3,361.7L993.9,362.9L992.3,364.1ZM1000.5,362.9L1002.1,361.7L1003.7,362.9L1002.1,364.1Z" fill="#000" fill-opacity="1.0"/>
</g>
<rect x="1012" y="362.2" width="18" height="8.4" fill="#fff" stroke="#444" stroke-width="0.75"/><path d="M1012,366.4H1030M1019,362.2L1023,370.6M1023,362.2L1019,370.6" stroke="#444" stroke-width="0.7"/><path d="M1014.42,361.9L1014.02,360.4L1015.01,358.6H1017.99L1018.98,360.4L1018.58,361.9ZM1014.52,362.83h3.96v1.1h-3.96ZM1015.01,364.54h2.97v1.2h-2.97ZM1014.42,370.9L1014.02,372.4L1015.01,374.2H1017.99L1018.98,372.4L1018.58,370.9ZM1014.52,368.87h3.96v1.1h-3.96ZM1015.01,367.06h2.97v1.2h-2.97ZM1015.7,362.2h1.6v8.4h-1.6ZM1023.42,361.9L1023.02,360.4L1024.02,358.6H1026.98L1027.97,360.4L1027.58,361.9ZM1023.52,362.83h3.96v1.1h-3.96ZM1024.02,364.54h2.97v1.2h-2.97ZM1023.42,370.9L1023.02,372.4L1024.02,374.2H1026.98L1027.97,372.4L1027.58,370.9ZM1023.52,368.87h3.96v1.1h-3.96ZM1024.02,367.06h2.97v1.2h-2.97ZM1024.7,362.2h1.6v8.4h-1.6ZM1010.4,366.4L1012,365.2L1013.6,366.4L1012,367.6ZM1019.4,366.4L1021,365.2L1022.6,366.4L1021,367.6ZM1028.4,366.4L1030,365.2L1031.6,366.4L1030,367.6Z" fill="#000" fill-opacity="1.0"/>
<rect x="977" y="355" width="3" height="16" fill="#fff" stroke="#555" stroke-width="0.5"/>
<g transform="rotate(90 993.9 394.6)">
<rect x="979.35" y="390.2" width="29.1" height="8.8" fill="#fff" stroke="#444" stroke-width="0.75"/><path d="M979.35,394.6H1008.45M987.05,390.2L991.05,399M991.05,390.2L987.05,399M996.75,390.2L1000.75,399M1000.75,390.2L996.75,399" stroke="#444" stroke-width="0.7"/><path d="M982.17,389.9L981.78,388.3L982.75,386.4H985.65L986.62,388.3L986.23,389.9ZM982.26,390.88h3.87v1.1h-3.87ZM982.75,392.68h2.9v1.2h-2.9ZM982.17,399.3L981.78,400.9L982.75,402.8H985.65L986.62,400.9L986.23,399.3ZM982.26,397.22h3.87v1.1h-3.87ZM982.75,395.32h2.9v1.2h-2.9ZM983.4,390.2h1.6v8.8h-1.6ZM991.87,389.9L991.48,388.3L992.45,386.4H995.35L996.32,388.3L995.93,389.9ZM991.96,390.88h3.87v1.1h-3.87ZM992.45,392.68h2.9v1.2h-2.9ZM991.87,399.3L991.48,400.9L992.45,402.8H995.35L996.32,400.9L995.93,399.3ZM991.96,397.22h3.87v1.1h-3.87ZM992.45,395.32h2.9v1.2h-2.9ZM993.1,390.2h1.6v8.8h-1.6ZM1001.57,389.9L1001.18,388.3L1002.15,386.4H1005.05L1006.02,388.3L1005.63,389.9ZM1001.66,390.88h3.87v1.1h-3.87ZM1002.15,392.68h2.9v1.2h-2.9ZM1001.57,399.3L1001.18,400.9L1002.15,402.8H1005.05L1006.02,400.9L1005.63,399.3ZM1001.66,397.22h3.87v1.1h-3.87ZM1002.15,395.32h2.9v1.2h-2.9ZM1002.8,390.2h1.6v8.8h-1.6ZM977.75,394.6L979.35,393.4L980.95,394.6L979.35,395.8ZM987.45,394.6L989.05,393.4L990.65,394.6L989.05,395.8ZM997.15,394.6L998.75,393.4L1000.35,394.6L998.75,395.8ZM1006.85,394.6L1008.45,393.4L1010.05,394.6L1008.45,395.8Z" fill="#000" fill-opacity="1.0"/>
</g>
<rect x="1012" y="395" width="18" height="8.4" fill="#fff" stroke="#444" stroke-width="0.75"/><path d="M1012,399.2H1030M1019,395L1023,403.4M1023,395L1019,403.4" stroke="#444" stroke-width="0.7"/><path d="M1014.42,394.7L1014.02,393.2L1015.01,391.4H1017.99L1018.98,393.2L1018.58,394.7ZM1014.52,395.63h3.96v1.1h-3.96ZM1015.01,397.34h2.97v1.2h-2.97ZM1014.42,403.7L1014.02,405.2L1015.01,407H1017.99L1018.98,405.2L1018.58,403.7ZM1014.52,401.67h3.96v1.1h-3.96ZM1015.01,399.86h2.97v1.2h-2.97ZM1015.7,395h1.6v8.4h-1.6ZM1023.42,394.7L1023.02,393.2L1024.02,391.4H1026.98L1027.97,393.2L1027.58,394.7ZM1023.52,395.63h3.96v1.1h-3.96ZM1024.02,397.34h2.97v1.2h-2.97ZM1023.42,403.7L1023.02,405.2L1024.02,407H1026.98L1027.97,405.2L1027.58,403.7ZM1023.52,401.67h3.96v1.1h-3.96ZM1024.02,399.86h2.97v1.2h-2.97ZM1024.7,395h1.6v8.4h-1.6ZM1010.4,399.2L1012,398L1013.6,399.2L1012,400.4ZM1019.4,399.2L1021,398L1022.6,399.2L1021,400.4ZM1028.4,399.2L1030,398L1031.6,399.2L1030,400.4Z" fill="#000" fill-opacity="1.0"/>
<rect x="977" y="382" width="3" height="28" fill="#fff" stroke="#555" stroke-width="0.5"/>
<rect x="979.1" y="424.6" width="19" height="8.8" fill="#fff" stroke="#444" stroke-width="0.75"/><path d="M979.1,429H998.1M986.6,424.6L990.6,433.4M990.6,424.6L986.6,433.4" stroke="#444" stroke-width="0.7"/><path d="M981.77,424.3L981.38,422.7L982.37,420.8H985.34L986.33,422.7L985.93,424.3ZM981.87,425.28h3.96v1.1h-3.96ZM982.37,427.08h2.97v1.2h-2.97ZM981.77,433.7L981.38,435.3L982.37,437.2H985.34L986.33,435.3L985.93,433.7ZM981.87,431.62h3.96v1.1h-3.96ZM982.37,429.72h2.97v1.2h-2.97ZM983.05,424.6h1.6v8.8h-1.6ZM991.27,424.3L990.88,422.7L991.87,420.8H994.84L995.83,422.7L995.43,424.3ZM991.37,425.28h3.96v1.1h-3.96ZM991.87,427.08h2.97v1.2h-2.97ZM991.27,433.7L990.88,435.3L991.87,437.2H994.84L995.83,435.3L995.43,433.7ZM991.37,431.62h3.96v1.1h-3.96ZM991.87,429.72h2.97v1.2h-2.97ZM992.55,424.6h1.6v8.8h-1.6ZM977.5,429L979.1,427.8L980.7,429L979.1,430.2ZM987,429L988.6,427.8L990.2,429L988.6,430.2ZM996.5,429L998.1,427.8L999.7,429L998.1,430.2Z" fill="#000" fill-opacity="1.0"/>
<rect x="1005.05" y="425.6" width="25.5" height="8.8" fill="#fff" stroke="#444" stroke-width="0.75"/><path d="M1005.05,430H1030.55M1011.55,425.6L1015.55,434.4M1015.55,425.6L1011.55,434.4M1020.05,425.6L1024.05,434.4M1024.05,425.6L1020.05,434.4" stroke="#444" stroke-width="0.7"/><path d="M1007.22,425.3L1006.82,423.7L1007.81,421.8H1010.78L1011.77,423.7L1011.38,425.3ZM1007.32,426.28h3.96v1.1h-3.96ZM1007.81,428.08h2.97v1.2h-2.97ZM1007.22,434.7L1006.82,436.3L1007.81,438.2H1010.78L1011.77,436.3L1011.38,434.7ZM1007.32,432.62h3.96v1.1h-3.96ZM1007.81,430.72h2.97v1.2h-2.97ZM1008.5,425.6h1.6v8.8h-1.6ZM1015.72,425.3L1015.32,423.7L1016.31,421.8H1019.28L1020.27,423.7L1019.88,425.3ZM1015.82,426.28h3.96v1.1h-3.96ZM1016.31,428.08h2.97v1.2h-2.97ZM1015.72,434.7L1015.32,436.3L1016.31,438.2H1019.28L1020.27,436.3L1019.88,434.7ZM1015.82,432.62h3.96v1.1h-3.96ZM1016.31,430.72h2.97v1.2h-2.97ZM1017,425.6h1.6v8.8h-1.6ZM1024.22,425.3L1023.82,423.7L1024.82,421.8H1027.78L1028.77,423.7L1028.38,425.3ZM1024.32,426.28h3.96v1.1h-3.96ZM1024.82,428.08h2.97v1.2h-2.97ZM1024.22,434.7L1023.82,436.3L1024.82,438.2H1027.78L1028.77,436.3L1028.38,434.7ZM1024.32,432.62h3.96v1.1h-3.96ZM1024.82,430.72h2.97v1.2h-2.97ZM1025.5,425.6h1.6v8.8h-1.6ZM1003.45,430L1005.05,428.8L1006.65,430L1005.05,431.2ZM1011.95,430L1013.55,428.8L1015.15,430L1013.55,431.2ZM1020.45,430L1022.05,428.8L1023.65,430L1022.05,431.2ZM1028.95,430L1030.55,428.8L1032.15,430L1030.55,431.2Z" fill="#000" fill-opacity="1.0"/>
<g transform="rotate(90 1015.2 462.3)">
<rect x="1000.5" y="458.1" width="29.4" height="8.4" fill="#fff" stroke="#444" stroke-width="0.75"/><path d="M1000.5,462.3H1029.9M1008.3,458.1L1012.3,466.5M1012.3,458.1L1008.3,466.5M1018.1,458.1L1022.1,466.5M1022.1,458.1L1018.1,466.5" stroke="#444" stroke-width="0.7"/><path d="M1003.37,457.8L1002.98,456.2L1003.95,454.3H1006.85L1007.82,456.2L1007.43,457.8ZM1003.46,458.73h3.87v1.1h-3.87ZM1003.95,460.44h2.9v1.2h-2.9ZM1003.37,466.8L1002.98,468.4L1003.95,470.3H1006.85L1007.82,468.4L1007.43,466.8ZM1003.46,464.77h3.87v1.1h-3.87ZM1003.95,462.96h2.9v1.2h-2.9ZM1004.6,458.1h1.6v8.4h-1.6ZM1013.17,457.8L1012.78,456.2L1013.75,454.3H1016.65L1017.62,456.2L1017.23,457.8ZM1013.26,458.73h3.87v1.1h-3.87ZM1013.75,460.44h2.9v1.2h-2.9ZM1013.17,466.8L1012.78,468.4L1013.75,470.3H1016.65L1017.62,468.4L1017.23,466.8ZM1013.26,464.77h3.87v1.1h-3.87ZM1013.75,462.96h2.9v1.2h-2.9ZM1014.4,458.1h1.6v8.4h-1.6ZM1022.97,457.8L1022.58,456.2L1023.55,454.3H1026.45L1027.42,456.2L1027.03,457.8ZM1023.06,458.73h3.87v1.1h-3.87ZM1023.55,460.44h2.9v1.2h-2.9ZM1022.97,466.8L1022.58,468.4L1023.55,470.3H1026.45L1027.42,468.4L1027.03,466.8ZM1023.06,464.77h3.87v1.1h-3.87ZM1023.55,462.96h2.9v1.2h-2.9ZM1024.2,458.1h1.6v8.4h-1.6ZM998.9,462.3L1000.5,461.1L1002.1,462.3L1000.5,463.5ZM1008.7,462.3L1010.3,461.1L1011.9,462.3L1010.3,463.5ZM1018.5,462.3L1020.1,461.1L1021.7,462.3L1020.1,463.5ZM1028.3,462.3L1029.9,461.1L1031.5,462.3L1029.9,463.5Z" fill="#000" fill-opacity="1.0"/>
</g>
<path d="M819,444.6H1034" stroke="#bbb" stroke-width="0.5" fill="none" />
<text x="840" y="449" font-size="3" fill="#000" text-anchor="start" ></text>
<rect x="876" y="457" width="0" height="10" fill="#fff" stroke="#444" stroke-width="0.75"/><path d="M876,462H876" stroke="#444" stroke-width="0.7"/><path d="M874.4,462L876,460.8L877.6,462L876,463.2Z" fill="#000" fill-opacity="1.0"/>
<rect x="889" y="456" width="36" height="24.5" fill="#fff" stroke="#3a3a3a" stroke-width="0.95" />
<path d="M906,456V480.5" stroke="#3a3a3a" stroke-width="1" fill="none" />
<text x="917" y="457" font-size="8.5" fill="#000" text-anchor="middle" stroke="#000" stroke-width="0.35">A21</text>
<rect x="893" y="460" width="11" height="8" fill="#fff" stroke="#444" stroke-width="0.5" />
<rect x="896" y="458" width="2.4" height="2.5" fill="#b22" stroke="none" stroke-width="1" />
<rect x="900" y="458" width="2.4" height="2.5" fill="#b22" stroke="none" stroke-width="1" />
<path d="M891,467l4,-4" stroke="#b22" stroke-width="1.2"/>
<rect x="897" y="469" width="7" height="7" fill="#fff" stroke="#333" stroke-width="0.6" />
<rect x="899" y="471" width="4" height="4" fill="#333" stroke="none" stroke-width="1" />
<rect x="915" y="461" width="6" height="14" fill="#f1edd8" stroke="#555" stroke-width="0.5" />
<rect x="912" y="462" width="2.5" height="2.2" fill="#b22" stroke="none" stroke-width="1" />
<rect x="921.5" y="462" width="2.5" height="2.2" fill="#b22" stroke="none" stroke-width="1" />
<rect x="912" y="467" width="2.5" height="2.2" fill="#b22" stroke="none" stroke-width="1" />
<rect x="921.5" y="467" width="2.5" height="2.2" fill="#b22" stroke="none" stroke-width="1" />
<rect x="912" y="472" width="2.5" height="2.2" fill="#b22" stroke="none" stroke-width="1" />
<rect x="921.5" y="472" width="2.5" height="2.2" fill="#b22" stroke="none" stroke-width="1" />
<rect x="938" y="456" width="54" height="24.5" fill="#fff" stroke="#3a3a3a" stroke-width="0.95" />
<rect x="960.5" y="459" width="5.5" height="17" fill="#111" stroke="none" stroke-width="1" />
<rect x="942" y="463" width="15" height="9" fill="#f1edd8" stroke="#555" stroke-width="0.5" />
<rect x="975" y="463" width="15" height="9" fill="#f1edd8" stroke="#555" stroke-width="0.5" />
<rect x="943" y="460" width="2.4" height="2.5" fill="#b22" stroke="none" stroke-width="1" />
<rect x="943" y="473" width="2.4" height="2.5" fill="#b22" stroke="none" stroke-width="1" />
<rect x="947" y="460" width="2.4" height="2.5" fill="#b22" stroke="none" stroke-width="1" />
<rect x="947" y="473" width="2.4" height="2.5" fill="#b22" stroke="none" stroke-width="1" />
<rect x="951" y="460" width="2.4" height="2.5" fill="#b22" stroke="none" stroke-width="1" />
<rect x="951" y="473" width="2.4" height="2.5" fill="#b22" stroke="none" stroke-width="1" />
<rect x="955" y="460" width="2.4" height="2.5" fill="#b22" stroke="none" stroke-width="1" />
<rect x="955" y="473" width="2.4" height="2.5" fill="#b22" stroke="none" stroke-width="1" />
<rect x="976" y="460" width="2.4" height="2.5" fill="#b22" stroke="none" stroke-width="1" />
<rect x="976" y="473" width="2.4" height="2.5" fill="#b22" stroke="none" stroke-width="1" />
<rect x="980" y="460" width="2.4" height="2.5" fill="#b22" stroke="none" stroke-width="1" />
<rect x="980" y="473" width="2.4" height="2.5" fill="#b22" stroke="none" stroke-width="1" />
<rect x="984" y="460" width="2.4" height="2.5" fill="#b22" stroke="none" stroke-width="1" />
<rect x="984" y="473" width="2.4" height="2.5" fill="#b22" stroke="none" stroke-width="1" />
<rect x="988" y="460" width="2.4" height="2.5" fill="#b22" stroke="none" stroke-width="1" />
<rect x="988" y="473" width="2.4" height="2.5" fill="#b22" stroke="none" stroke-width="1" />
</svg></body></html>
